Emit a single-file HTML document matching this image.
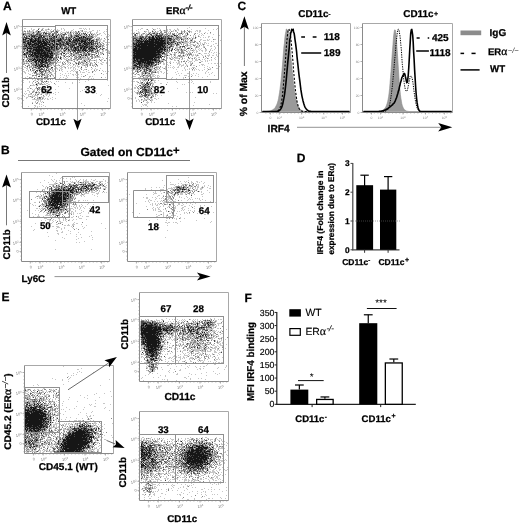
<!DOCTYPE html><html><head><meta charset="utf-8"><title>Figure</title><style>html,body{margin:0;padding:0;background:#fff}svg{display:block}</style></head><body>
<svg width="520" height="524" viewBox="0 0 520 524" text-rendering="geometricPrecision" font-family="Liberation Sans, Arial, sans-serif">
<defs><filter id="bl" x="-2%" y="-2%" width="104%" height="104%"><feGaussianBlur stdDeviation="0.5"/></filter></defs>
<rect width="520" height="524" fill="#fff"/>
<text x="3.1" y="9.7" font-size="12" font-weight="bold" stroke="#000" stroke-width="0.25" text-anchor="start" fill="#000">A</text>
<text x="68.75" y="13.5" font-size="9.7" font-weight="bold" stroke="#000" stroke-width="0.25" text-anchor="middle" fill="#000">WT</text>
<text x="166" y="13.5" font-size="9.7" font-weight="bold" stroke="#000" stroke-width="0.25" text-anchor="start" fill="#000">ER<tspan font-family="Liberation Serif, serif" font-weight="normal" stroke-width="0.3" font-size="11.5">α</tspan><tspan dy="-4" font-size="7.5" font-style="italic">-/-</tspan></text>
<g transform="translate(22,20.5)" fill="none" stroke-width="1" shape-rendering="crispEdges" filter="url(#bl)">
<path stroke="#c6c6c6" d="M2 8h2M9 8h1M16 8h2M20 8h2M26 8h1M39 8h1M41 8h1M57 8h3M61 8h1M63 8h1M67 8h1M9 9h1M11 9h2M19 9h1M23 9h3M27 9h1M29 9h1M32 9h1M35 9h1M39 9h1M42 9h1M51 9h1M62 9h1M64 9h1M67 9h1M84 9h1M2 10h1M5 10h1M10 10h2M14 10h1M20 10h2M23 10h2M28 10h1M34 10h4M42 10h1M49 10h2M58 10h2M70 10h2M75 10h1M77 10h1M1 11h1M6 11h1M8 11h4M13 11h1M15 11h1M22 11h1M24 11h3M28 11h1M36 11h1M39 11h1M44 11h1M46 11h1M48 11h2M51 11h1M54 11h1M57 11h1M59 11h1M62 11h3M67 11h3M75 11h1M82 11h1M84 11h1M1 12h1M3 12h1M5 12h6M12 12h3M18 12h3M23 12h1M26 12h3M38 12h1M40 12h5M49 12h5M55 12h1M57 12h2M61 12h1M63 12h1M65 12h2M74 12h2M81 12h1M0 13h1M4 13h1M8 13h2M12 13h1M22 13h1M36 13h1M38 13h1M40 13h1M42 13h1M45 13h3M49 13h1M60 13h1M65 13h1M69 13h2M72 13h1M74 13h1M77 13h2M82 13h1M0 14h1M4 14h3M10 14h1M12 14h1M19 14h2M22 14h1M28 14h2M33 14h1M35 14h1M37 14h1M39 14h1M46 14h2M51 14h3M55 14h1M58 14h1M60 14h2M63 14h1M66 14h1M70 14h1M72 14h2M76 14h2M83 14h1M86 14h1M2 15h1M5 15h1M29 15h1M32 15h1M36 15h1M38 15h1M40 15h1M47 15h1M50 15h2M59 15h4M68 15h2M71 15h1M73 15h3M79 15h1M87 15h1M1 16h1M8 16h1M26 16h1M30 16h1M35 16h2M38 16h1M42 16h1M46 16h2M51 16h1M57 16h2M63 16h1M65 16h1M71 16h4M84 16h1M86 16h1M0 17h1M6 17h2M15 17h1M23 17h2M26 17h1M35 17h1M38 17h1M42 17h1M50 17h1M54 17h1M73 17h1M75 17h3M84 17h1M2 18h1M11 18h1M26 18h1M34 18h1M42 18h2M45 18h1M49 18h1M52 18h1M70 18h1M72 18h1M74 18h3M79 18h1M85 18h1M0 19h1M5 19h2M33 19h1M69 19h2M72 19h2M77 19h3M83 19h1M85 19h1M41 20h1M44 20h1M49 20h1M72 20h1M76 20h3M81 20h2M66 21h1M77 21h2M81 21h2M4 22h1M35 22h1M43 22h1M74 22h1M76 22h1M79 22h2M83 22h2M86 22h2M0 23h1M31 23h1M76 23h2M80 23h1M47 24h1M55 24h1M72 24h1M76 24h2M81 24h2M84 24h3M0 25h2M26 25h1M36 25h1M44 25h2M53 25h1M55 25h1M73 25h1M75 25h1M77 25h1M79 25h1M84 25h2M36 26h1M41 26h1M45 26h1M53 26h1M72 26h1M76 26h1M79 26h1M81 26h2M47 27h1M72 27h2M75 27h1M78 27h1M84 27h1M38 28h1M41 28h1M47 28h1M50 28h1M57 28h1M65 28h1M73 28h1M79 28h2M0 29h1M3 29h1M6 29h1M37 29h2M40 29h1M42 29h1M45 29h1M65 29h1M74 29h1M78 29h2M81 29h1M83 29h1M1 30h1M3 30h1M36 30h2M39 30h1M44 30h2M48 30h1M66 30h1M72 30h3M77 30h1M80 30h2M83 30h2M86 30h1M3 31h2M34 31h1M38 31h1M40 31h2M43 31h3M47 31h1M49 31h1M62 31h1M65 31h1M76 31h2M80 31h2M86 31h2M3 32h1M32 32h1M37 32h1M39 32h1M41 32h3M45 32h3M52 32h1M60 32h1M63 32h1M66 32h2M74 32h2M79 32h2M84 32h4M1 33h1M9 33h1M36 33h2M45 33h1M50 33h3M58 33h3M65 33h1M68 33h2M73 33h1M78 33h2M81 33h1M86 33h1M0 34h1M37 34h2M41 34h1M44 34h1M47 34h2M50 34h1M53 34h3M65 34h1M68 34h1M73 34h1M78 34h2M85 34h1M1 35h1M7 35h1M33 35h1M35 35h2M39 35h2M43 35h1M46 35h1M53 35h4M62 35h1M65 35h1M70 35h1M77 35h1M86 35h1M0 36h4M31 36h1M33 36h1M35 36h1M41 36h1M46 36h1M49 36h1M52 36h1M59 36h6M72 36h1M74 36h1M77 36h1M1 37h1M3 37h1M6 37h1M31 37h1M35 37h1M41 37h1M46 37h1M48 37h2M53 37h1M56 37h1M59 37h1M62 37h1M66 37h2M69 37h1M71 37h2M74 37h5M80 37h1M87 37h1M2 38h1M30 38h1M35 38h1M37 38h1M39 38h1M41 38h2M44 38h2M48 38h1M52 38h1M58 38h1M60 38h6M67 38h1M72 38h1M81 38h1M2 39h1M4 39h1M6 39h1M30 39h1M34 39h1M38 39h1M42 39h3M47 39h3M53 39h2M57 39h1M61 39h5M67 39h1M74 39h1M79 39h2M87 39h1M3 40h1M7 40h1M32 40h1M46 40h3M50 40h1M52 40h1M54 40h1M60 40h2M63 40h3M68 40h4M73 40h2M79 40h1M83 40h1M85 40h1M87 40h1M2 41h2M10 41h2M15 41h1M25 41h1M29 41h4M38 41h1M41 41h1M43 41h1M46 41h1M51 41h1M56 41h1M59 41h3M65 41h2M74 41h1M79 41h1M1 42h2M4 42h2M7 42h3M34 42h5M45 42h4M54 42h1M58 42h1M61 42h2M65 42h1M67 42h3M74 42h1M76 42h1M80 42h2M84 42h1M1 43h1M3 43h1M5 43h1M8 43h1M10 43h1M12 43h1M17 43h1M21 43h1M26 43h1M33 43h1M41 43h1M46 43h1M50 43h1M53 43h1M55 43h1M57 43h1M60 43h1M62 43h5M69 43h2M78 43h2M84 43h1M2 44h1M6 44h2M9 44h1M24 44h1M29 44h3M36 44h1M40 44h1M42 44h2M45 44h1M47 44h1M52 44h1M54 44h1M57 44h1M59 44h3M63 44h1M67 44h1M70 44h1M72 44h2M79 44h2M5 45h1M9 45h1M21 45h1M24 45h1M27 45h2M31 45h2M34 45h3M39 45h2M46 45h1M48 45h1M51 45h1M53 45h1M55 45h1M60 45h2M63 45h2M67 45h1M71 45h2M74 45h1M87 45h1M1 46h1M4 46h1M7 46h2M12 46h1M28 46h1M38 46h2M41 46h2M45 46h1M50 46h1M53 46h1M55 46h3M59 46h1M63 46h1M71 46h1M75 46h1M88 46h1M2 47h2M5 47h1M8 47h3M15 47h1M19 47h2M22 47h2M33 47h2M37 47h1M39 47h2M42 47h1M46 47h1M48 47h2M51 47h2M56 47h1M63 47h2M85 47h1M4 48h2M7 48h1M11 48h1M13 48h1M18 48h1M24 48h1M26 48h3M30 48h1M32 48h1M34 48h2M38 48h2M43 48h1M46 48h1M48 48h1M51 48h1M53 48h1M58 48h2M70 48h1M73 48h1M78 48h1M1 49h1M5 49h1M10 49h2M13 49h1M15 49h2M27 49h1M32 49h1M35 49h1M37 49h1M39 49h2M51 49h1M53 49h1M55 49h1M62 49h2M69 49h1M72 49h1M74 49h2M4 50h1M6 50h1M12 50h1M16 50h1M19 50h1M27 50h1M29 50h3M39 50h1M49 50h2M52 50h1M61 50h1M66 50h1M74 50h1M80 50h1M1 51h2M6 51h1M9 51h1M11 51h1M14 51h1M22 51h1M24 51h1M26 51h1M30 51h2M34 51h1M40 51h1M45 51h1M48 51h1M51 51h1M53 51h2M58 51h1M64 51h1M71 51h1M73 51h1M81 51h1M83 51h1M86 51h1M2 52h2M11 52h1M17 52h2M21 52h1M24 52h4M29 52h1M58 52h1M60 52h3M66 52h2M3 53h1M6 53h1M10 53h1M13 53h1M15 53h3M23 53h3M27 53h3M32 53h1M38 53h1M43 53h1M46 53h1M48 53h1M54 53h1M84 53h1M7 54h2M16 54h1M24 54h2M30 54h1M40 54h1M50 54h2M53 54h1M56 54h1M59 54h1M65 54h1M72 54h1M81 54h1M12 55h1M17 55h3M21 55h1M23 55h2M27 55h1M30 55h2M38 55h1M42 55h1M44 55h1M46 55h1M51 55h1M54 55h1M0 56h1M5 56h1M10 56h1M14 56h1M20 56h1M23 56h2M26 56h1M31 56h1M33 56h1M44 56h1M59 56h1M62 56h1M67 56h2M70 56h1M3 57h1M8 57h2M14 57h1M19 57h2M38 57h1M41 57h1M45 57h1M54 57h1M56 57h1M67 57h1M83 57h1M5 58h1M10 58h2M14 58h2M17 58h1M19 58h1M21 58h1M23 58h2M26 58h2M32 58h2M37 58h1M43 58h2M58 58h1M66 58h1M69 58h1M71 58h1M5 59h1M10 59h1M13 59h1M17 59h2M22 59h2M30 59h1M33 59h1M80 59h1M82 59h1M1 60h1M12 60h2M16 60h1M18 60h3M24 60h1M57 60h1M66 60h1M85 60h1M7 61h1M14 61h1M23 61h1M25 61h2M28 61h1M34 61h1M36 61h1M63 61h1M1 62h1M7 62h1M10 62h1M19 62h2M23 62h1M26 62h1M29 62h1M43 62h1M50 62h1M57 62h1M10 63h1M14 63h2M17 63h2M22 63h1M24 63h2M50 63h1M11 64h1M13 64h1M15 64h1M17 64h1M19 64h1M21 64h3M26 64h2M33 64h1M9 65h4M14 65h1M24 65h1M86 65h1M7 66h1M14 66h1M20 66h1M23 66h1M27 66h1M36 66h1M7 67h1M18 67h1M21 67h1M23 67h1M5 68h2M9 68h1M13 68h2M16 68h1M19 68h1M23 68h1M28 68h1M47 68h1M73 68h1M10 69h1M12 69h1M17 69h2M20 69h2M23 69h1M25 69h1M33 69h1M62 69h1M5 70h2M11 70h2M17 70h1M20 70h2M23 70h1M25 70h2M60 70h1M3 71h1M7 71h1M10 71h1M12 71h1M14 71h1M16 71h1M19 71h1M58 71h1M7 72h1M11 72h1M15 72h2M19 72h2M22 72h5M29 72h1M33 72h1M36 72h1M2 73h1M4 73h1M8 73h1M13 73h2M16 73h2M19 73h2M23 73h2M31 73h1M74 73h1M3 74h1M6 74h4M11 74h1M18 74h1M23 74h3M27 74h1M33 74h1M79 74h1M1 75h1M6 75h1M10 75h1M12 75h4M24 75h1M27 75h1M78 75h1M2 76h1M6 76h2M9 76h4M15 76h1M19 76h1M21 76h2M26 76h1M4 77h2M9 77h1M13 77h1M15 77h2M19 77h3M30 77h1M4 78h1M16 78h1M21 78h1M23 78h1M25 78h1M28 78h1M33 78h1M86 78h1M10 79h11M22 79h1M25 79h2M30 79h1M1 80h1M14 80h3M18 80h1M13 81h1M16 81h1M18 81h1M20 81h1M85 81h1M10 82h1M13 82h1M19 82h1M15 83h1M17 83h1M59 83h1M17 84h1M19 84h1M12 85h2M21 85h1M62 85h1M6 86h1M13 86h1M15 86h1M17 86h1M19 86h1M23 86h1M12 87h1M15 87h1"/>
<path stroke="#888" d="M20 9h1M26 9h1M7 10h1M15 10h1M19 10h1M31 10h1M60 10h1M2 11h2M5 11h1M7 11h1M14 11h1M17 11h2M29 11h3M35 11h1M53 11h1M60 11h1M15 12h1M17 12h1M21 12h1M24 12h1M29 12h1M32 12h3M45 12h2M54 12h1M56 12h1M68 12h1M1 13h3M5 13h3M10 13h2M14 13h1M16 13h4M25 13h4M30 13h3M34 13h1M39 13h1M48 13h1M51 13h1M53 13h2M59 13h1M62 13h1M68 13h1M2 14h2M7 14h2M11 14h1M13 14h1M16 14h1M21 14h1M23 14h2M26 14h1M34 14h1M38 14h1M40 14h1M43 14h2M48 14h2M54 14h1M57 14h1M59 14h1M71 14h1M75 14h1M1 15h1M3 15h2M6 15h3M14 15h3M21 15h8M31 15h1M34 15h1M37 15h1M41 15h2M46 15h1M48 15h1M52 15h1M56 15h2M63 15h3M70 15h1M5 16h2M13 16h1M16 16h1M23 16h3M28 16h1M37 16h1M40 16h2M44 16h1M48 16h1M50 16h1M52 16h2M60 16h1M67 16h2M70 16h1M1 17h1M5 17h1M8 17h1M10 17h1M13 17h2M25 17h1M27 17h3M33 17h1M36 17h2M39 17h1M43 17h1M45 17h2M48 17h1M51 17h1M53 17h1M55 17h2M60 17h1M64 17h6M71 17h1M8 18h1M19 18h1M21 18h2M24 18h1M30 18h1M35 18h3M39 18h1M47 18h1M50 18h1M62 18h1M77 18h1M82 18h1M4 19h1M12 19h1M19 19h1M26 19h2M31 19h1M40 19h1M42 19h1M45 19h1M48 19h1M57 19h1M66 19h1M71 19h1M75 19h2M86 19h1M2 20h1M4 20h1M7 20h1M19 20h1M22 20h1M25 20h1M34 20h1M40 20h1M43 20h1M45 20h1M50 20h1M58 20h1M65 20h1M68 20h1M74 20h2M7 21h1M14 21h1M23 21h1M26 21h1M28 21h1M38 21h1M41 21h3M46 21h1M49 21h1M56 21h1M64 21h1M68 21h1M70 21h1M72 21h2M75 21h1M9 22h1M20 22h1M28 22h4M34 22h1M36 22h1M39 22h1M47 22h2M54 22h1M56 22h1M58 22h1M61 22h1M73 22h1M75 22h1M1 23h2M4 23h1M10 23h2M27 23h1M36 23h1M39 23h2M42 23h1M49 23h1M51 23h2M55 23h1M59 23h2M68 23h1M70 23h1M72 23h1M74 23h1M78 23h1M81 23h1M1 24h1M3 24h1M5 24h1M17 24h1M21 24h1M29 24h1M42 24h2M59 24h1M61 24h1M68 24h1M73 24h1M78 24h2M5 25h2M8 25h1M25 25h1M29 25h1M33 25h2M40 25h1M54 25h1M56 25h1M62 25h1M66 25h1M68 25h5M76 25h1M78 25h1M80 25h2M5 26h1M23 26h1M27 26h1M31 26h1M33 26h1M37 26h1M39 26h2M42 26h2M46 26h2M51 26h1M54 26h1M57 26h1M68 26h1M71 26h1M80 26h1M1 27h4M6 27h1M10 27h1M33 27h1M35 27h3M39 27h2M42 27h1M44 27h2M51 27h1M57 27h1M66 27h1M71 27h1M77 27h1M80 27h1M85 27h1M4 28h1M28 28h1M31 28h1M33 28h1M36 28h1M43 28h1M46 28h1M48 28h1M60 28h1M68 28h1M75 28h1M82 28h1M85 28h1M1 29h1M4 29h1M7 29h1M10 29h1M22 29h1M33 29h1M39 29h1M41 29h1M43 29h1M47 29h2M50 29h1M52 29h1M55 29h1M57 29h1M59 29h1M64 29h1M69 29h1M71 29h2M75 29h1M77 29h1M84 29h1M2 30h1M4 30h1M6 30h1M9 30h1M29 30h2M34 30h2M38 30h1M41 30h1M49 30h1M59 30h1M71 30h1M76 30h1M1 31h2M5 31h1M12 31h1M30 31h4M35 31h3M39 31h1M46 31h1M50 31h2M56 31h1M58 31h3M68 31h1M70 31h2M73 31h2M6 32h1M28 32h1M31 32h1M33 32h4M48 32h1M53 32h2M57 32h1M59 32h1M61 32h1M69 32h5M76 32h1M78 32h1M3 33h1M6 33h2M31 33h1M34 33h2M38 33h1M44 33h1M46 33h1M48 33h1M53 33h1M55 33h2M61 33h4M67 33h1M76 33h1M80 33h1M87 33h1M4 34h3M11 34h1M27 34h1M31 34h6M43 34h1M49 34h1M51 34h2M56 34h2M61 34h3M69 34h1M71 34h2M76 34h1M2 35h2M31 35h1M41 35h2M48 35h2M52 35h1M57 35h1M60 35h1M66 35h2M69 35h1M72 35h1M74 35h1M9 36h1M34 36h1M36 36h1M38 36h1M44 36h2M50 36h1M53 36h2M56 36h2M65 36h1M68 36h3M73 36h1M75 36h2M2 37h1M5 37h1M7 37h5M21 37h1M32 37h2M39 37h1M43 37h1M52 37h1M54 37h2M57 37h1M60 37h2M63 37h1M65 37h1M70 37h1M73 37h1M5 38h5M11 38h1M13 38h1M18 38h1M25 38h2M32 38h3M49 38h1M53 38h2M56 38h2M59 38h1M66 38h1M69 38h2M84 38h1M5 39h1M10 39h1M14 39h1M25 39h1M29 39h1M32 39h1M39 39h1M46 39h1M51 39h2M55 39h2M58 39h2M66 39h1M68 39h1M77 39h1M1 40h1M4 40h1M8 40h2M12 40h1M22 40h1M28 40h1M31 40h1M34 40h1M44 40h2M49 40h1M55 40h1M67 40h1M72 40h1M78 40h1M82 40h1M1 41h1M4 41h3M8 41h1M18 41h1M28 41h1M33 41h1M35 41h1M45 41h1M52 41h1M57 41h1M62 41h1M67 41h1M10 42h3M15 42h1M17 42h1M26 42h2M29 42h5M40 42h1M42 42h1M53 42h1M56 42h2M59 42h2M72 42h1M2 43h1M4 43h1M6 43h1M11 43h1M13 43h1M15 43h1M22 43h1M28 43h4M34 43h1M40 43h1M43 43h1M48 43h1M58 43h1M61 43h1M68 43h1M73 43h1M1 44h1M10 44h4M15 44h1M23 44h1M27 44h2M41 44h1M51 44h1M64 44h2M68 44h1M3 45h1M6 45h2M10 45h3M15 45h1M18 45h1M26 45h1M29 45h1M37 45h1M62 45h1M65 45h1M68 45h1M70 45h1M75 45h1M9 46h1M11 46h1M13 46h2M16 46h1M24 46h1M27 46h1M32 46h1M65 46h1M73 46h1M7 47h1M11 47h2M14 47h1M26 47h1M43 47h1M69 47h1M14 48h2M20 48h1M22 48h1M25 48h1M29 48h1M12 49h1M17 49h1M21 49h2M26 49h1M28 49h1M30 49h1M59 49h1M64 49h1M8 50h1M10 50h2M18 50h1M21 50h6M33 50h1M37 50h1M57 50h1M72 50h1M77 50h1M15 51h1M17 51h1M19 51h1M21 51h1M70 51h1M12 52h1M14 52h1M20 52h1M23 52h1M28 52h1M54 52h1M70 52h1M12 53h1M14 53h1M18 53h3M22 53h1M79 53h1M14 54h2M17 54h1M19 54h1M21 54h2M26 54h1M29 54h1M10 55h2M13 55h2M20 55h1M22 55h1M25 55h1M28 55h1M63 55h1M25 56h1M28 56h1M61 56h1M7 57h1M12 57h1M23 57h3M32 57h1M79 57h1M25 58h1M15 59h2M19 59h2M25 59h2M28 59h1M11 61h1M15 61h1M19 61h2M22 61h1M13 62h1M16 62h1M21 62h1M16 63h1M19 63h1M32 63h1M18 64h1M20 64h1M8 65h1M15 65h1M25 65h1M22 66h1M25 66h1M14 67h1M16 67h2M20 67h1M8 68h1M17 68h1M21 68h1M15 69h2M24 69h1M27 69h1M15 70h1M11 71h1M21 71h1M24 71h1M10 72h1M13 72h1M17 72h1M9 73h1M25 73h1M13 74h1M15 74h2M19 74h1M21 75h1M8 76h1M10 77h1M18 77h1M12 78h1M15 78h1M17 78h2M20 78h1M15 82h1M21 82h1M10 83h1M14 83h1"/>
<path stroke="#4a4a4a" d="M16 9h1M34 11h1M56 11h1M11 12h1M16 12h1M22 12h1M35 12h1M48 12h1M15 13h1M21 13h1M24 13h1M43 13h1M55 13h1M57 13h1M61 13h1M63 13h1M9 14h1M14 14h2M17 14h2M27 14h1M30 14h2M36 14h1M41 14h2M56 14h1M62 14h1M67 14h1M69 14h1M9 15h5M17 15h4M33 15h1M35 15h1M39 15h1M49 15h1M53 15h3M58 15h1M67 15h1M2 16h1M4 16h1M9 16h1M11 16h1M14 16h2M17 16h2M22 16h1M29 16h1M31 16h1M33 16h1M39 16h1M49 16h1M55 16h1M59 16h1M62 16h1M64 16h1M66 16h1M69 16h1M2 17h3M9 17h1M11 17h2M18 17h5M30 17h3M40 17h2M44 17h1M47 17h1M49 17h1M58 17h1M62 17h1M70 17h1M1 18h1M3 18h1M5 18h1M7 18h1M10 18h1M12 18h1M14 18h2M17 18h2M20 18h1M25 18h1M27 18h2M31 18h3M40 18h2M44 18h1M46 18h1M48 18h1M51 18h1M53 18h4M58 18h4M63 18h2M66 18h4M2 19h1M7 19h1M10 19h2M14 19h2M17 19h2M20 19h1M22 19h3M28 19h3M32 19h1M34 19h4M39 19h1M41 19h1M43 19h2M46 19h1M51 19h3M55 19h1M58 19h7M68 19h1M74 19h1M1 20h1M3 20h1M5 20h1M10 20h2M15 20h1M17 20h1M20 20h1M24 20h1M26 20h5M33 20h1M35 20h1M39 20h1M42 20h1M46 20h1M48 20h1M52 20h1M55 20h1M61 20h2M64 20h1M66 20h1M69 20h1M71 20h1M1 21h6M19 21h1M25 21h1M29 21h1M31 21h1M34 21h2M37 21h1M39 21h2M44 21h2M50 21h5M57 21h2M65 21h1M67 21h1M71 21h1M74 21h1M3 22h1M5 22h1M7 22h1M12 22h4M24 22h1M26 22h1M37 22h2M40 22h3M45 22h2M49 22h3M53 22h1M55 22h1M57 22h1M60 22h1M64 22h2M67 22h1M69 22h3M77 22h1M3 23h1M7 23h1M9 23h1M15 23h1M18 23h1M25 23h2M28 23h2M32 23h2M35 23h1M37 23h1M41 23h1M43 23h2M46 23h3M50 23h1M53 23h1M56 23h1M63 23h1M65 23h2M71 23h1M73 23h1M75 23h1M2 24h1M4 24h1M9 24h1M13 24h1M25 24h1M28 24h1M30 24h1M32 24h2M37 24h4M44 24h1M48 24h6M56 24h3M60 24h1M64 24h1M66 24h2M70 24h2M75 24h1M2 25h2M9 25h1M11 25h2M14 25h2M19 25h1M28 25h1M30 25h1M32 25h1M35 25h1M37 25h3M41 25h3M46 25h5M52 25h1M59 25h2M63 25h1M65 25h1M67 25h1M74 25h1M1 26h3M6 26h2M9 26h1M11 26h4M22 26h1M24 26h1M28 26h1M30 26h1M35 26h1M44 26h1M48 26h2M52 26h1M58 26h2M61 26h1M64 26h4M70 26h1M73 26h3M77 26h2M7 27h3M20 27h1M24 27h3M28 27h1M31 27h2M38 27h1M43 27h1M46 27h1M48 27h3M54 27h3M60 27h2M63 27h1M67 27h1M69 27h2M74 27h1M76 27h1M1 28h2M5 28h1M10 28h4M15 28h1M18 28h1M20 28h1M26 28h1M30 28h1M32 28h1M35 28h1M37 28h1M39 28h2M44 28h2M49 28h1M51 28h2M54 28h3M63 28h2M66 28h1M70 28h1M74 28h1M78 28h1M81 28h1M2 29h1M8 29h2M21 29h1M25 29h2M28 29h5M34 29h3M49 29h1M51 29h1M54 29h1M58 29h1M60 29h1M62 29h1M66 29h3M70 29h1M73 29h1M80 29h1M7 30h1M10 30h1M12 30h1M22 30h2M28 30h1M31 30h2M42 30h2M46 30h2M50 30h2M53 30h3M57 30h2M61 30h1M64 30h2M67 30h3M75 30h1M6 31h1M9 31h3M13 31h1M18 31h1M21 31h1M23 31h3M28 31h1M42 31h1M48 31h1M52 31h2M55 31h1M57 31h1M61 31h1M63 31h2M66 31h2M69 31h1M75 31h1M1 32h1M4 32h1M7 32h3M11 32h1M14 32h1M18 32h1M20 32h1M24 32h1M26 32h2M30 32h1M40 32h1M51 32h1M55 32h2M58 32h1M62 32h1M4 33h2M8 33h1M11 33h1M24 33h1M26 33h1M32 33h2M39 33h1M41 33h1M49 33h1M54 33h1M66 33h1M74 33h1M1 34h1M3 34h1M8 34h1M14 34h2M17 34h1M20 34h2M26 34h1M29 34h2M39 34h1M58 34h2M64 34h1M66 34h2M70 34h1M81 34h1M4 35h1M6 35h1M8 35h1M10 35h1M12 35h1M16 35h2M27 35h2M34 35h1M51 35h1M59 35h1M61 35h1M64 35h1M75 35h1M6 36h3M11 36h3M17 36h1M19 36h1M22 36h1M27 36h1M29 36h2M42 36h1M47 36h1M58 36h1M4 37h1M12 37h2M16 37h2M24 37h1M26 37h1M34 37h1M36 37h1M38 37h1M58 37h1M10 38h1M14 38h4M19 38h1M22 38h2M27 38h3M31 38h1M1 39h1M7 39h3M16 39h1M19 39h1M21 39h1M23 39h1M27 39h2M31 39h1M35 39h1M13 40h1M16 40h1M18 40h1M21 40h1M25 40h3M29 40h2M36 40h1M62 40h1M7 41h1M9 41h1M12 41h1M21 41h2M24 41h1M26 41h2M63 41h1M14 42h1M16 42h1M19 42h1M22 42h2M25 42h1M28 42h1M64 42h1M9 43h1M16 43h1M18 43h1M20 43h1M23 43h3M27 43h1M54 43h1M56 43h1M16 44h5M22 44h1M25 44h2M56 44h1M74 44h1M14 45h1M16 45h1M22 45h1M5 46h1M17 46h1M21 46h2M25 46h2M13 47h1M16 47h3M21 47h1M24 47h2M29 47h2M59 47h1M10 48h1M16 48h2M19 48h1M8 49h1M18 49h3M24 49h1M14 50h2M18 51h1M20 51h1M23 51h1M27 51h1M13 52h1M19 52h1M20 54h1M16 56h2M19 56h1M22 57h1M20 58h1M24 61h1M15 68h1M14 72h1M17 77h1"/>
<path stroke="#121212" d="M16 11h1M23 13h1M1 14h1M64 14h1M30 15h1M7 16h1M10 16h1M12 16h1M19 16h1M21 16h1M27 16h1M32 16h1M34 16h1M54 16h1M56 16h1M61 16h1M16 17h2M34 17h1M52 17h1M57 17h1M59 17h1M61 17h1M63 17h1M4 18h1M6 18h1M9 18h1M13 18h1M16 18h1M23 18h1M29 18h1M38 18h1M57 18h1M65 18h1M1 19h1M3 19h1M8 19h2M13 19h1M16 19h1M21 19h1M25 19h1M38 19h1M47 19h1M49 19h1M54 19h1M56 19h1M65 19h1M67 19h1M6 20h1M8 20h2M12 20h3M16 20h1M18 20h1M21 20h1M23 20h1M31 20h2M36 20h3M47 20h1M51 20h1M53 20h2M56 20h2M59 20h2M63 20h1M67 20h1M70 20h1M8 21h6M15 21h4M20 21h3M24 21h1M27 21h1M30 21h1M32 21h2M36 21h1M47 21h2M55 21h1M59 21h5M69 21h1M1 22h2M6 22h1M8 22h1M10 22h2M16 22h4M21 22h3M25 22h1M27 22h1M32 22h2M44 22h1M52 22h1M59 22h1M62 22h2M66 22h1M68 22h1M5 23h2M8 23h1M12 23h3M16 23h2M19 23h6M30 23h1M34 23h1M38 23h1M45 23h1M54 23h1M57 23h2M61 23h2M64 23h1M67 23h1M69 23h1M6 24h3M10 24h3M14 24h3M18 24h3M22 24h3M26 24h2M31 24h1M34 24h3M41 24h1M45 24h2M54 24h1M62 24h2M65 24h1M69 24h1M4 25h1M7 25h1M10 25h1M13 25h1M16 25h3M20 25h5M27 25h1M31 25h1M51 25h1M57 25h2M61 25h1M64 25h1M4 26h1M8 26h1M10 26h1M15 26h7M25 26h2M29 26h1M32 26h1M34 26h1M38 26h1M50 26h1M55 26h2M60 26h1M62 26h2M69 26h1M5 27h1M11 27h9M21 27h3M27 27h1M29 27h2M34 27h1M52 27h2M58 27h2M62 27h1M64 27h2M68 27h1M3 28h1M6 28h4M14 28h1M16 28h2M19 28h1M21 28h5M27 28h1M29 28h1M34 28h1M42 28h1M53 28h1M58 28h2M61 28h2M67 28h1M69 28h1M71 28h2M5 29h1M11 29h10M23 29h2M27 29h1M44 29h1M46 29h1M53 29h1M56 29h1M61 29h1M63 29h1M5 30h1M8 30h1M11 30h1M13 30h9M24 30h4M33 30h1M52 30h1M56 30h1M60 30h1M62 30h2M70 30h1M7 31h2M14 31h4M19 31h2M22 31h1M26 31h2M29 31h1M5 32h1M10 32h1M12 32h2M15 32h3M19 32h1M21 32h3M25 32h1M29 32h1M65 32h1M2 33h1M10 33h1M12 33h12M25 33h1M27 33h4M42 33h1M2 34h1M7 34h1M9 34h2M12 34h2M16 34h1M18 34h2M22 34h4M28 34h1M9 35h1M11 35h1M13 35h3M18 35h9M29 35h2M63 35h1M4 36h1M10 36h1M14 36h3M18 36h1M20 36h2M23 36h4M28 36h1M14 37h2M18 37h3M22 37h2M25 37h1M27 37h4M12 38h1M20 38h2M24 38h1M38 38h1M11 39h3M15 39h1M17 39h2M20 39h1M22 39h1M24 39h1M26 39h1M6 40h1M10 40h2M14 40h2M17 40h1M19 40h2M23 40h2M13 41h2M16 41h2M19 41h2M23 41h1M13 42h1M18 42h1M20 42h2M24 42h1M14 43h1M19 43h1M14 44h1M21 44h1M13 45h1M17 45h1M19 45h2M23 45h1M25 45h1M15 46h1M18 46h3M23 46h1M17 50h1M13 51h1M14 64h1"/>
</g>
<path d="M22.5 19.5H110.5V108.5" fill="none" stroke="#a8a8a8" stroke-width="1"/>
<path d="M22.5 19.5V108.5H110.5" fill="none" stroke="#8a8a8a" stroke-width="1"/>
<path d="M20.5 26.6h2M102.6 108.5v2M20.5 46.7h2M82.3 108.5v2M20.5 68.3h2M61.9 108.5v2M20.5 89.4h2M41.0 108.5v2M20.5 98.4h2M31.3 108.5v2M21.5 30.2h1M33.1 108.5v1M21.5 33.8h1M36.7 108.5v1M21.5 37.5h1M40.3 108.5v1M21.5 41.1h1M43.9 108.5v1M21.5 44.8h1M47.5 108.5v1M21.5 48.4h1M51.1 108.5v1M21.5 52.0h1M54.7 108.5v1M21.5 55.7h1M58.3 108.5v1M21.5 59.3h1M61.9 108.5v1M21.5 63.0h1M65.5 108.5v1M21.5 66.6h1M69.1 108.5v1M21.5 70.3h1M72.7 108.5v1M21.5 73.9h1M76.3 108.5v1M21.5 77.6h1M79.9 108.5v1M21.5 81.2h1M83.5 108.5v1M21.5 84.9h1M87.1 108.5v1M21.5 88.5h1M90.7 108.5v1M21.5 92.1h1M94.3 108.5v1M21.5 95.8h1M97.9 108.5v1M21.5 99.4h1M101.5 108.5v1M21.5 103.1h1M105.1 108.5v1M21.5 106.7h1M108.7 108.5v1" stroke="#8a8a8a" stroke-width="0.7" fill="none"/>
<text x="20.0" y="27.9" font-size="4" text-anchor="end" fill="#7a7a7a" transform="rotate(-10 20.0 27.9)">10<tspan dy="-1.2" font-size="2.8">5</tspan></text>
<text x="20.0" y="48.0" font-size="4" text-anchor="end" fill="#7a7a7a" transform="rotate(-10 20.0 48.0)">10<tspan dy="-1.2" font-size="2.8">4</tspan></text>
<text x="20.0" y="69.6" font-size="4" text-anchor="end" fill="#7a7a7a" transform="rotate(-10 20.0 69.6)">10<tspan dy="-1.2" font-size="2.8">3</tspan></text>
<text x="20.0" y="90.7" font-size="4" text-anchor="end" fill="#7a7a7a" transform="rotate(-10 20.0 90.7)">10<tspan dy="-1.2" font-size="2.8">2</tspan></text>
<text x="20.0" y="99.7" font-size="4" text-anchor="end" fill="#7a7a7a" transform="rotate(-10 20.0 99.7)">0</text>
<text x="103.4" y="115.5" font-size="4" text-anchor="middle" fill="#7a7a7a" transform="rotate(-10 103.4 115.5)">10<tspan dy="-1.2" font-size="2.8">5</tspan></text>
<text x="83.1" y="115.5" font-size="4" text-anchor="middle" fill="#7a7a7a" transform="rotate(-10 83.1 115.5)">10<tspan dy="-1.2" font-size="2.8">4</tspan></text>
<text x="62.7" y="115.5" font-size="4" text-anchor="middle" fill="#7a7a7a" transform="rotate(-10 62.7 115.5)">10<tspan dy="-1.2" font-size="2.8">3</tspan></text>
<text x="41.8" y="115.5" font-size="4" text-anchor="middle" fill="#7a7a7a" transform="rotate(-10 41.8 115.5)">10<tspan dy="-1.2" font-size="2.8">2</tspan></text>
<text x="32.1" y="115.5" font-size="4" text-anchor="middle" fill="#7a7a7a" transform="rotate(-10 32.1 115.5)">0</text>
<rect x="22.5" y="26.5" width="33.0" height="52.0" fill="none" stroke="#909090" stroke-width="1"/>
<rect x="55.5" y="25.5" width="52.0" height="54.0" fill="none" stroke="#909090" stroke-width="1"/>
<text x="46.6" y="92.8" font-size="10" font-weight="bold" stroke="#000" stroke-width="0.25" text-anchor="middle" fill="#000">62</text>
<text x="90.2" y="92.8" font-size="10" font-weight="bold" stroke="#000" stroke-width="0.25" text-anchor="middle" fill="#000">33</text>
<g transform="translate(132,20.5)" fill="none" stroke-width="1" shape-rendering="crispEdges" filter="url(#bl)">
<path stroke="#c6c6c6" d="M57 7h1M9 8h2M20 8h1M25 8h1M27 8h1M34 8h1M45 8h1M55 8h1M73 8h1M85 8h1M6 9h1M8 9h1M14 9h1M22 9h2M28 9h1M35 9h1M37 9h2M42 9h1M45 9h2M59 9h1M81 9h1M84 9h1M4 10h1M16 10h1M20 10h1M22 10h1M27 10h1M31 10h1M33 10h3M38 10h1M41 10h1M44 10h1M46 10h1M49 10h1M57 10h1M64 10h2M67 10h2M76 10h1M6 11h1M13 11h2M16 11h1M21 11h1M25 11h2M28 11h1M32 11h2M35 11h1M37 11h1M40 11h2M43 11h2M50 11h2M53 11h1M58 11h2M63 11h1M65 11h1M67 11h2M2 12h1M6 12h2M13 12h1M16 12h2M20 12h2M23 12h3M34 12h1M36 12h1M50 12h1M54 12h2M59 12h1M67 12h1M73 12h1M2 13h1M6 13h2M10 13h1M14 13h1M16 13h1M18 13h2M23 13h1M26 13h1M28 13h1M31 13h1M35 13h3M41 13h1M44 13h1M46 13h1M50 13h2M53 13h2M62 13h1M65 13h1M69 13h1M75 13h1M78 13h1M5 14h1M7 14h1M10 14h2M13 14h2M17 14h1M21 14h2M31 14h2M34 14h1M37 14h2M44 14h1M47 14h2M53 14h1M56 14h1M67 14h1M70 14h1M81 14h1M4 15h2M7 15h2M10 15h1M13 15h1M17 15h2M31 15h1M33 15h1M35 15h1M38 15h1M40 15h2M47 15h2M52 15h2M55 15h1M61 15h1M63 15h1M66 15h1M69 15h1M71 15h1M87 15h1M2 16h1M4 16h3M12 16h1M19 16h1M22 16h1M30 16h1M41 16h3M45 16h1M47 16h2M50 16h1M53 16h2M61 16h1M63 16h1M67 16h1M76 16h2M6 17h1M12 17h1M15 17h1M38 17h1M40 17h1M42 17h2M51 17h4M56 17h1M59 17h1M61 17h1M64 17h1M68 17h1M71 17h1M73 17h1M76 17h1M80 17h1M40 18h1M42 18h1M47 18h1M50 18h3M54 18h1M58 18h1M61 18h2M0 19h1M2 19h1M15 19h1M43 19h1M46 19h1M52 19h5M58 19h2M68 19h2M75 19h1M77 19h1M82 19h2M40 20h1M43 20h1M45 20h1M47 20h1M49 20h1M55 20h1M60 20h1M62 20h1M68 20h1M71 20h3M75 20h2M88 20h1M37 21h1M46 21h3M50 21h3M55 21h1M57 21h4M79 21h1M81 21h1M86 21h1M43 22h2M49 22h1M52 22h5M59 22h2M64 22h2M68 22h1M72 22h2M86 22h1M0 23h1M41 23h2M44 23h1M46 23h2M49 23h1M51 23h5M57 23h2M66 23h1M68 23h1M70 23h1M72 23h1M74 23h1M76 23h1M83 23h2M0 24h1M35 24h1M42 24h2M47 24h1M54 24h1M58 24h4M63 24h1M66 24h1M68 24h1M70 24h1M72 24h1M81 24h1M0 25h1M36 25h2M40 25h3M46 25h2M51 25h1M54 25h1M56 25h3M63 25h1M65 25h1M69 25h1M71 25h1M75 25h2M79 25h1M85 25h1M36 26h1M44 26h2M47 26h1M49 26h1M54 26h2M58 26h2M62 26h1M65 26h3M71 26h2M78 26h2M82 26h1M0 27h1M40 27h2M43 27h4M53 27h1M56 27h3M63 27h1M65 27h2M71 27h1M83 27h1M0 28h1M38 28h2M44 28h2M47 28h3M52 28h2M60 28h1M63 28h1M67 28h1M69 28h1M79 28h1M83 28h1M0 29h1M44 29h1M47 29h2M50 29h3M58 29h1M61 29h1M63 29h1M66 29h1M68 29h1M73 29h2M78 29h1M82 29h1M86 29h1M36 30h1M38 30h1M40 30h1M44 30h2M48 30h1M51 30h1M56 30h1M58 30h2M61 30h2M64 30h1M67 30h1M69 30h2M73 30h2M78 30h1M80 30h1M31 31h1M36 31h1M45 31h3M51 31h1M55 31h1M57 31h1M61 31h1M64 31h2M70 31h1M73 31h1M0 32h1M35 32h1M40 32h1M43 32h1M46 32h1M48 32h1M52 32h1M55 32h1M57 32h2M62 32h1M64 32h1M77 32h1M79 32h1M82 32h1M84 32h1M0 33h1M33 33h3M37 33h2M42 33h2M46 33h1M48 33h1M50 33h1M52 33h1M54 33h1M57 33h1M59 33h1M66 33h1M68 33h1M72 33h3M76 33h1M81 33h1M87 33h1M0 34h1M29 34h1M31 34h1M35 34h1M41 34h1M43 34h1M48 34h1M51 34h1M53 34h2M56 34h1M61 34h1M63 34h1M65 34h1M69 34h1M77 34h1M84 34h1M86 34h1M32 35h3M36 35h2M39 35h1M43 35h1M50 35h1M52 35h2M59 35h3M63 35h2M66 35h1M70 35h1M73 35h1M75 35h3M80 35h2M84 35h1M29 36h1M33 36h1M39 36h1M41 36h1M43 36h1M45 36h2M48 36h1M50 36h3M54 36h1M56 36h1M60 36h1M64 36h1M71 36h1M76 36h1M85 36h1M34 37h2M37 37h1M39 37h2M43 37h3M48 37h3M58 37h1M62 37h2M66 37h2M74 37h1M83 37h1M0 38h1M31 38h1M35 38h1M37 38h1M40 38h2M43 38h4M52 38h1M56 38h1M59 38h1M64 38h1M73 38h1M76 38h1M82 38h1M29 39h1M34 39h1M38 39h1M40 39h1M42 39h1M47 39h1M49 39h2M55 39h1M60 39h1M63 39h2M66 39h1M70 39h1M72 39h1M79 39h1M83 39h1M28 40h5M42 40h2M45 40h1M52 40h1M55 40h2M60 40h1M63 40h3M68 40h1M73 40h1M75 40h1M77 40h1M79 40h1M31 41h1M38 41h1M46 41h2M57 41h3M62 41h1M69 41h2M73 41h1M75 41h1M27 42h1M29 42h1M31 42h1M35 42h1M37 42h2M41 42h1M44 42h1M46 42h2M49 42h1M53 42h1M56 42h1M58 42h1M60 42h1M25 43h1M27 43h1M31 43h2M45 43h3M58 43h2M76 43h1M79 43h1M82 43h2M85 43h2M88 43h1M0 44h1M22 44h1M25 44h1M31 44h2M35 44h1M45 44h1M47 44h2M51 44h1M54 44h1M58 44h1M69 44h3M5 45h2M24 45h1M36 45h1M38 45h1M47 45h1M49 45h3M54 45h2M59 45h1M61 45h2M67 45h1M70 45h1M72 45h1M84 45h1M0 46h1M17 46h1M21 46h2M24 46h3M33 46h2M41 46h1M46 46h1M49 46h1M53 46h1M75 46h1M87 46h1M19 47h1M22 47h1M25 47h4M30 47h1M33 47h1M36 47h1M38 47h1M40 47h1M42 47h1M45 47h2M52 47h1M60 47h3M72 47h1M77 47h1M3 48h2M6 48h1M9 48h1M11 48h1M13 48h1M18 48h4M24 48h2M31 48h1M33 48h1M41 48h1M52 48h1M57 48h1M59 48h1M63 48h1M75 48h1M78 48h1M84 48h2M0 49h1M3 49h1M8 49h3M15 49h1M20 49h1M22 49h1M24 49h3M28 49h1M33 49h1M44 49h1M53 49h1M55 49h1M57 49h1M62 49h1M64 49h1M66 49h1M72 49h1M77 49h2M0 50h2M3 50h2M6 50h1M11 50h1M13 50h1M16 50h1M21 50h4M27 50h1M35 50h1M50 50h1M53 50h1M60 50h1M62 50h1M67 50h1M70 50h1M75 50h1M4 51h1M6 51h1M10 51h1M16 51h1M19 51h1M21 51h2M25 51h2M28 51h2M45 51h1M74 51h1M1 52h2M9 52h1M11 52h2M16 52h2M24 52h3M29 52h1M32 52h1M43 52h1M73 52h1M76 52h1M80 52h1M9 53h1M12 53h1M15 53h1M20 53h1M26 53h1M31 53h1M35 53h1M46 53h1M49 53h1M55 53h2M61 53h1M64 53h1M73 53h1M79 53h1M2 54h1M5 54h1M7 54h1M9 54h1M12 54h2M15 54h3M19 54h4M44 54h1M59 54h1M66 54h1M77 54h1M0 55h1M7 55h1M9 55h2M13 55h1M16 55h1M20 55h2M23 55h1M25 55h2M47 55h1M52 55h3M60 55h1M63 55h1M82 55h1M1 56h3M9 56h1M11 56h1M13 56h3M17 56h1M19 56h4M25 56h1M27 56h1M56 56h1M66 56h1M75 56h1M6 57h3M12 57h3M23 57h1M25 57h2M40 57h1M51 57h1M70 57h1M1 58h6M10 58h3M18 58h1M21 58h2M29 58h1M39 58h1M44 58h1M51 58h1M1 59h1M7 59h1M9 59h3M15 59h1M17 59h1M21 59h1M86 59h1M8 60h1M10 60h2M13 60h2M21 60h3M26 60h1M57 60h1M59 60h1M1 61h2M4 61h2M8 61h1M11 61h1M13 61h1M19 61h1M22 61h1M44 61h1M60 61h1M78 61h1M5 62h1M8 62h1M12 62h1M16 62h1M18 62h3M22 62h2M35 62h1M45 62h1M56 62h1M59 62h1M78 62h1M7 63h2M10 63h2M17 63h1M20 63h2M28 63h2M61 63h1M5 64h1M9 64h1M12 64h1M17 64h1M20 64h2M50 64h1M52 64h1M3 65h1M10 65h1M16 65h2M4 66h1M8 66h1M19 66h1M23 66h1M2 67h2M7 67h2M11 67h1M18 67h4M27 67h1M2 68h2M5 68h1M14 68h2M18 68h1M45 68h1M6 69h2M19 69h2M22 69h1M71 69h1M5 70h2M19 70h1M21 70h3M2 71h1M9 71h1M36 71h1M3 72h2M6 72h1M11 72h1M18 72h1M20 72h4M54 72h1M58 72h1M60 72h1M4 73h1M6 73h1M9 73h1M12 73h1M15 73h2M18 73h1M21 73h1M73 73h1M81 73h1M84 73h1M5 74h1M10 74h1M18 74h4M24 74h1M8 75h2M15 75h1M18 75h1M21 75h1M23 75h1M25 75h1M29 75h1M14 76h1M16 76h1M20 76h1M23 76h1M3 77h1M8 77h2M11 77h1M13 77h1M16 77h1M20 77h1M63 77h1M3 78h1M15 78h2M18 78h2M22 78h2M26 78h1M6 79h1M10 79h1M12 79h5M19 79h2M24 79h1M4 80h1M7 80h1M9 80h1M11 80h3M19 80h2M4 81h1M7 81h1M15 81h1M19 81h1M14 82h3M19 82h1M22 82h1M62 82h1M15 83h1M36 83h1M10 84h1M12 84h3M77 84h1M11 85h1M13 85h2M61 85h1M9 86h1M15 86h1M40 86h1M44 86h1"/>
<path stroke="#888" d="M15 9h1M21 9h1M28 10h1M32 10h1M43 10h1M52 10h1M55 10h1M12 11h1M23 11h1M29 11h1M39 11h1M49 11h1M52 11h1M56 11h2M18 12h1M22 12h1M28 12h2M32 12h2M38 12h1M45 12h1M49 12h1M52 12h1M57 12h1M78 12h1M1 13h1M5 13h1M11 13h2M20 13h1M24 13h1M29 13h2M38 13h1M40 13h1M42 13h1M47 13h2M63 13h1M72 13h1M2 14h1M9 14h1M15 14h1M23 14h1M25 14h1M27 14h3M33 14h1M35 14h1M40 14h1M42 14h1M46 14h1M50 14h1M62 14h1M2 15h1M9 15h1M14 15h2M20 15h4M30 15h1M32 15h1M37 15h1M39 15h1M44 15h1M54 15h1M58 15h1M0 16h1M3 16h1M7 16h1M9 16h1M11 16h1M13 16h1M15 16h2M18 16h1M24 16h1M32 16h1M36 16h3M46 16h1M51 16h2M66 16h1M1 17h5M7 17h1M14 17h1M22 17h1M28 17h1M32 17h1M35 17h1M37 17h1M39 17h1M41 17h1M44 17h1M46 17h4M4 18h3M10 18h2M14 18h1M16 18h1M23 18h1M41 18h1M43 18h4M48 18h2M53 18h1M57 18h1M60 18h1M63 18h1M3 19h1M5 19h2M8 19h1M11 19h1M13 19h1M31 19h1M36 19h1M40 19h2M44 19h2M47 19h1M50 19h2M60 19h1M81 19h1M2 20h1M10 20h1M12 20h1M36 20h1M39 20h1M42 20h1M46 20h1M51 20h1M53 20h1M58 20h1M1 21h3M38 21h3M43 21h2M49 21h1M53 21h2M62 21h2M67 21h1M2 22h2M11 22h1M38 22h1M42 22h1M46 22h1M48 22h1M51 22h1M58 22h1M61 22h2M5 23h1M37 23h1M39 23h2M48 23h1M65 23h1M38 24h1M40 24h2M44 24h1M49 24h1M51 24h1M55 24h1M71 24h1M2 25h1M33 25h1M38 25h1M45 25h1M53 25h1M55 25h1M61 25h2M67 25h1M35 26h1M37 26h1M40 26h2M64 26h1M2 27h1M36 27h1M38 27h1M47 27h2M50 27h1M52 27h1M64 27h1M72 27h1M31 28h1M33 28h5M43 28h1M57 28h1M73 28h1M34 29h1M39 29h1M45 29h2M54 29h1M0 30h1M31 30h1M33 30h2M37 30h1M43 30h1M46 30h1M49 30h2M52 30h2M60 30h1M0 31h1M32 31h1M35 31h1M37 31h1M39 31h1M49 31h2M54 31h1M77 31h1M30 32h1M32 32h1M34 32h1M36 32h1M42 32h1M44 32h1M49 32h3M60 32h1M28 33h2M49 33h1M51 33h1M56 33h1M58 33h1M67 33h1M30 34h1M32 34h2M38 34h2M42 34h1M55 34h1M57 34h3M0 35h1M42 35h1M46 35h3M55 35h1M57 35h1M65 35h1M0 36h1M31 36h2M47 36h1M49 36h1M73 36h1M0 37h1M32 37h1M42 37h1M71 37h1M79 37h1M21 38h1M25 38h1M29 38h1M34 38h1M38 38h1M47 38h1M50 38h1M57 38h1M60 38h1M62 38h1M75 38h1M3 39h1M25 39h1M27 39h1M30 39h1M32 39h1M39 39h1M67 39h1M0 40h1M33 40h1M46 40h1M21 41h2M25 41h2M28 41h2M49 41h1M51 41h2M54 41h1M0 42h1M4 42h2M22 42h1M25 42h1M28 42h1M67 42h2M2 43h2M11 43h1M22 43h1M24 43h1M26 43h1M28 43h1M38 43h1M53 43h1M60 43h1M1 44h1M4 44h1M11 44h1M18 44h1M21 44h1M59 44h1M11 45h1M20 45h2M58 45h1M1 46h2M8 46h1M10 46h2M19 46h1M28 46h1M55 46h1M64 46h1M3 47h2M9 47h1M12 47h1M15 47h4M20 47h1M23 47h2M34 47h1M80 47h1M7 48h1M12 48h1M17 48h1M27 48h1M32 48h1M61 48h1M1 49h2M4 49h3M11 49h1M13 49h1M16 49h1M19 49h1M23 49h1M60 49h1M76 49h1M5 50h1M9 50h1M17 50h1M19 50h1M3 51h1M7 51h2M11 51h1M13 51h2M20 51h1M23 51h1M5 52h2M10 52h1M14 52h2M19 52h4M1 53h1M4 53h1M10 53h2M14 53h1M16 53h1M19 53h1M3 54h1M6 54h1M10 54h1M18 54h1M12 55h1M14 55h2M17 55h2M8 56h1M10 56h1M16 56h1M18 56h1M59 56h1M11 57h1M15 57h1M18 57h2M53 57h1M13 58h2M16 58h2M57 58h1M12 59h2M18 59h3M12 60h1M20 60h1M15 61h1M18 61h1M6 62h1M9 62h1M14 62h1M9 63h1M12 63h1M16 63h1M18 63h2M10 64h2M14 64h2M34 64h1M7 65h1M11 65h1M13 65h2M18 65h1M20 65h1M6 66h1M9 66h2M12 66h1M14 66h2M20 66h2M5 67h1M9 67h1M14 67h1M16 67h2M6 68h1M9 68h3M13 68h1M16 68h2M15 69h4M9 70h3M15 70h1M17 70h2M6 71h1M11 71h2M15 71h5M5 72h1M7 72h1M12 72h1M17 72h1M19 72h1M5 73h1M7 73h2M17 73h1M20 73h1M22 73h1M7 74h1M12 74h1M15 74h3M23 74h1M10 75h2M17 75h1M20 75h1M8 76h3M12 76h1M15 76h1M19 76h1M21 76h1M14 77h2M18 77h1M12 78h1M9 79h1M17 79h1M14 80h1M18 80h1M11 81h1"/>
<path stroke="#4a4a4a" d="M20 11h1M4 13h1M17 13h1M21 13h2M25 13h1M27 13h1M49 13h1M55 13h1M3 14h1M16 14h1M18 14h2M24 14h1M30 14h1M41 14h1M55 14h1M3 15h1M19 15h1M25 15h5M34 15h1M36 15h1M43 15h1M45 15h1M1 16h1M8 16h1M10 16h1M14 16h1M17 16h1M25 16h1M27 16h3M31 16h1M33 16h3M39 16h2M44 16h1M8 17h4M13 17h1M16 17h1M18 17h2M23 17h1M25 17h2M30 17h2M33 17h2M36 17h1M45 17h1M63 17h1M1 18h3M7 18h1M12 18h2M15 18h1M18 18h2M26 18h1M31 18h3M35 18h1M39 18h1M55 18h1M1 19h1M7 19h1M10 19h1M12 19h1M16 19h1M28 19h1M30 19h1M32 19h4M37 19h3M42 19h1M1 20h1M3 20h2M8 20h2M14 20h1M16 20h1M18 20h1M22 20h1M25 20h1M33 20h1M35 20h1M37 20h1M41 20h1M59 20h1M4 21h2M7 21h1M11 21h1M22 21h1M27 21h1M32 21h2M35 21h2M41 21h2M1 22h1M4 22h1M6 22h1M8 22h1M10 22h1M16 22h1M31 22h1M33 22h2M36 22h2M40 22h2M45 22h1M47 22h1M50 22h1M2 23h2M7 23h1M22 23h1M36 23h1M38 23h1M45 23h1M1 24h1M3 24h1M5 24h1M24 24h1M31 24h4M37 24h1M39 24h1M45 24h2M1 25h1M3 25h1M8 25h1M15 25h1M31 25h1M35 25h1M39 25h1M44 25h1M1 26h1M4 26h1M22 26h1M29 26h1M32 26h3M38 26h2M48 26h1M50 26h3M1 27h1M5 27h2M29 27h2M32 27h1M35 27h1M1 28h1M5 28h1M8 28h1M27 28h1M40 28h1M55 28h2M59 28h1M5 29h1M26 29h1M31 29h1M35 29h1M37 29h1M40 29h1M42 29h1M49 29h1M28 30h3M35 30h1M1 31h1M24 31h1M28 31h1M30 31h1M33 31h2M3 32h1M29 32h1M47 32h1M1 33h1M24 33h2M27 33h1M31 33h2M1 34h1M3 34h1M28 34h1M25 35h5M35 35h1M51 35h1M1 36h1M24 36h2M27 36h1M22 37h1M27 37h3M56 37h1M3 38h1M10 38h2M23 38h2M26 38h2M1 39h1M6 39h2M24 39h1M26 39h1M31 39h1M1 40h1M4 40h1M6 40h2M17 40h1M19 40h1M21 40h1M24 40h4M2 41h3M12 41h1M14 41h1M19 41h2M23 41h2M30 41h1M1 42h1M3 42h1M9 42h1M14 42h1M23 42h2M1 43h1M5 43h1M9 43h2M13 43h1M18 43h1M20 43h2M2 44h2M6 44h1M8 44h3M12 44h4M20 44h1M23 44h2M26 44h1M1 45h1M8 45h3M13 45h1M15 45h5M22 45h2M3 46h2M6 46h2M12 46h3M16 46h1M18 46h1M20 46h1M1 47h2M5 47h2M8 47h1M10 47h2M13 47h1M2 48h1M8 48h1M10 48h1M14 48h1M16 48h1M22 48h1M7 49h1M12 49h1M14 49h1M17 49h2M8 50h1M12 50h1M14 50h2M18 50h1M5 51h1M12 51h1M17 51h2M13 52h1M23 52h1M17 53h1M11 55h1M15 58h1M14 59h1M16 59h1M10 62h1M15 62h1M17 62h1M14 63h1M18 64h1M8 65h1M12 65h1M15 65h1M11 66h1M13 66h1M16 66h2M10 67h1M13 67h1M15 67h1M8 68h1M12 68h1M10 69h3M14 69h1M12 70h2M16 70h1M10 71h1M13 71h2M8 72h3M13 72h4M11 73h1M19 73h1M9 74h1M13 74h2M12 75h3M16 75h1M7 76h1M13 76h1M19 77h1M9 82h1"/>
<path stroke="#121212" d="M24 15h1M42 15h1M20 16h2M23 16h1M26 16h1M17 17h1M20 17h2M24 17h1M27 17h1M29 17h1M8 18h2M17 18h1M20 18h3M24 18h2M27 18h4M34 18h1M36 18h3M4 19h1M9 19h1M14 19h1M17 19h11M29 19h1M49 19h1M5 20h3M11 20h1M13 20h1M15 20h1M17 20h1M19 20h3M23 20h2M26 20h7M34 20h1M38 20h1M6 21h1M8 21h3M12 21h10M23 21h4M28 21h4M34 21h1M5 22h1M7 22h1M9 22h1M12 22h4M17 22h14M32 22h1M35 22h1M39 22h1M1 23h1M4 23h1M6 23h1M8 23h14M23 23h13M43 23h1M2 24h1M4 24h1M6 24h18M25 24h6M36 24h1M4 25h4M9 25h6M16 25h15M32 25h1M34 25h1M2 26h2M5 26h17M23 26h6M30 26h2M3 27h2M7 27h22M31 27h1M33 27h2M37 27h1M2 28h3M6 28h2M9 28h18M28 28h3M32 28h1M1 29h4M6 29h20M27 29h4M32 29h2M1 30h27M32 30h1M39 30h1M2 31h22M25 31h3M29 31h1M1 32h2M4 32h25M31 32h1M2 33h22M26 33h1M30 33h1M2 34h1M4 34h24M1 35h24M2 36h22M26 36h1M28 36h1M30 36h1M1 37h21M23 37h4M1 38h2M4 38h6M12 38h9M22 38h1M2 39h1M4 39h2M8 39h16M2 40h2M5 40h1M8 40h9M18 40h1M20 40h1M22 40h2M1 41h1M5 41h7M13 41h1M15 41h4M27 41h1M2 42h1M6 42h3M10 42h4M15 42h7M26 42h1M4 43h1M6 43h3M12 43h1M14 43h4M19 43h1M5 44h1M7 44h1M16 44h2M19 44h1M2 45h3M7 45h1M12 45h1M14 45h1M5 46h1M9 46h1M15 46h1M7 47h1M14 47h1M1 48h1M5 48h1M15 48h1M13 53h1M16 60h1M19 60h1M15 63h1M13 64h1M16 64h1M12 67h1M19 68h1M13 69h1M14 70h1M8 71h1M13 73h1"/>
</g>
<path d="M132.5 19.5H221.5V108.5" fill="none" stroke="#a8a8a8" stroke-width="1"/>
<path d="M132.5 19.5V108.5H221.5" fill="none" stroke="#8a8a8a" stroke-width="1"/>
<path d="M130.5 26.6h2M213.5 108.5v2M130.5 46.7h2M193.0 108.5v2M130.5 68.3h2M172.4 108.5v2M130.5 89.4h2M151.2 108.5v2M130.5 98.4h2M141.4 108.5v2M131.5 30.2h1M143.2 108.5v1M131.5 33.8h1M146.8 108.5v1M131.5 37.5h1M150.5 108.5v1M131.5 41.1h1M154.1 108.5v1M131.5 44.8h1M157.8 108.5v1M131.5 48.4h1M161.4 108.5v1M131.5 52.0h1M165.0 108.5v1M131.5 55.7h1M168.7 108.5v1M131.5 59.3h1M172.3 108.5v1M131.5 63.0h1M176.0 108.5v1M131.5 66.6h1M179.6 108.5v1M131.5 70.3h1M183.3 108.5v1M131.5 73.9h1M186.9 108.5v1M131.5 77.6h1M190.6 108.5v1M131.5 81.2h1M194.2 108.5v1M131.5 84.9h1M197.9 108.5v1M131.5 88.5h1M201.5 108.5v1M131.5 92.1h1M205.1 108.5v1M131.5 95.8h1M208.8 108.5v1M131.5 99.4h1M212.4 108.5v1M131.5 103.1h1M216.1 108.5v1M131.5 106.7h1M219.7 108.5v1" stroke="#8a8a8a" stroke-width="0.7" fill="none"/>
<text x="130.0" y="27.9" font-size="4" text-anchor="end" fill="#7a7a7a" transform="rotate(-10 130.0 27.9)">10<tspan dy="-1.2" font-size="2.8">5</tspan></text>
<text x="130.0" y="48.0" font-size="4" text-anchor="end" fill="#7a7a7a" transform="rotate(-10 130.0 48.0)">10<tspan dy="-1.2" font-size="2.8">4</tspan></text>
<text x="130.0" y="69.6" font-size="4" text-anchor="end" fill="#7a7a7a" transform="rotate(-10 130.0 69.6)">10<tspan dy="-1.2" font-size="2.8">3</tspan></text>
<text x="130.0" y="90.7" font-size="4" text-anchor="end" fill="#7a7a7a" transform="rotate(-10 130.0 90.7)">10<tspan dy="-1.2" font-size="2.8">2</tspan></text>
<text x="130.0" y="99.7" font-size="4" text-anchor="end" fill="#7a7a7a" transform="rotate(-10 130.0 99.7)">0</text>
<text x="214.3" y="115.5" font-size="4" text-anchor="middle" fill="#7a7a7a" transform="rotate(-10 214.3 115.5)">10<tspan dy="-1.2" font-size="2.8">5</tspan></text>
<text x="193.8" y="115.5" font-size="4" text-anchor="middle" fill="#7a7a7a" transform="rotate(-10 193.8 115.5)">10<tspan dy="-1.2" font-size="2.8">4</tspan></text>
<text x="173.2" y="115.5" font-size="4" text-anchor="middle" fill="#7a7a7a" transform="rotate(-10 173.2 115.5)">10<tspan dy="-1.2" font-size="2.8">3</tspan></text>
<text x="152.0" y="115.5" font-size="4" text-anchor="middle" fill="#7a7a7a" transform="rotate(-10 152.0 115.5)">10<tspan dy="-1.2" font-size="2.8">2</tspan></text>
<text x="142.2" y="115.5" font-size="4" text-anchor="middle" fill="#7a7a7a" transform="rotate(-10 142.2 115.5)">0</text>
<rect x="132.5" y="25.5" width="34.0" height="53.0" fill="none" stroke="#909090" stroke-width="1"/>
<rect x="166.5" y="25.5" width="52.0" height="54.0" fill="none" stroke="#909090" stroke-width="1"/>
<text x="159.4" y="92.9" font-size="10" font-weight="bold" stroke="#000" stroke-width="0.25" text-anchor="middle" fill="#000">82</text>
<text x="202.7" y="92.9" font-size="10" font-weight="bold" stroke="#000" stroke-width="0.25" text-anchor="middle" fill="#000">10</text>
<line x1="6.5" y1="33" x2="6.5" y2="73" stroke="#555" stroke-width="0.8"/>
<polygon points="6.5,21.9 10.8,35.4 6.5,32.7 2.2,35.4" fill="#000"/>
<text x="8.9" y="92.3" font-size="9.8" font-weight="bold" stroke="#000" stroke-width="0.25" text-anchor="middle" fill="#000" transform="rotate(-90 8.9 92.3)">CD11b</text>
<text x="36" y="125" font-size="9.8" font-weight="bold" stroke="#000" stroke-width="0.25" text-anchor="start" fill="#000">CD11c</text>
<line x1="77.5" y1="71" x2="77.5" y2="121" stroke="#777" stroke-width="0.7"/>
<polygon points="77.5,130.2 73.4,118.7 77.5,121.2 81.6,118.7" fill="#000"/>
<text x="145.2" y="124.9" font-size="9.8" font-weight="bold" stroke="#000" stroke-width="0.25" text-anchor="start" fill="#000">CD11c</text>
<line x1="189.5" y1="71" x2="189.5" y2="121" stroke="#777" stroke-width="0.7"/>
<polygon points="189.5,130.0 185.3,118.5 189.5,121.0 193.7,118.5" fill="#000"/>
<text x="1" y="153.75" font-size="12" font-weight="bold" stroke="#000" stroke-width="0.25" text-anchor="start" fill="#000">B</text>
<text x="80.5" y="156.25" font-size="11.8" font-weight="bold" stroke="#000" stroke-width="0.25" text-anchor="start" fill="#000" textLength="99" lengthAdjust="spacingAndGlyphs">Gated on CD11c<tspan dy="-2.5" font-size="11">+</tspan></text>
<line x1="18" y1="160.5" x2="190" y2="160.5" stroke="#777" stroke-width="1"/>
<g transform="translate(21,173.5)" fill="none" stroke-width="1" shape-rendering="crispEdges" filter="url(#bl)">
<path stroke="#c6c6c6" d="M35 0h1M28 2h1M31 3h1M44 3h1M48 3h1M83 3h1M40 4h1M51 4h1M53 4h1M39 5h1M41 5h2M45 5h1M49 5h1M30 6h1M33 6h1M49 6h1M54 6h1M59 6h1M62 6h1M65 6h1M70 6h1M74 6h1M82 6h1M23 7h1M31 7h1M35 7h1M38 7h1M55 7h1M58 7h1M62 7h1M64 7h2M72 7h2M84 7h1M32 8h1M35 8h1M42 8h1M45 8h2M49 8h1M51 8h1M55 8h1M62 8h6M69 8h1M75 8h2M78 8h4M84 8h1M19 9h1M27 9h1M34 9h1M38 9h2M50 9h3M54 9h1M56 9h3M61 9h1M65 9h3M72 9h1M74 9h1M78 9h1M86 9h1M33 10h2M36 10h1M47 10h3M54 10h1M57 10h1M60 10h4M65 10h1M69 10h2M72 10h2M77 10h1M80 10h2M84 10h1M28 11h7M37 11h2M44 11h1M46 11h1M50 11h2M54 11h1M56 11h1M67 11h1M70 11h2M78 11h1M80 11h1M83 11h1M21 12h1M31 12h1M36 12h1M38 12h1M40 12h1M42 12h1M44 12h1M57 12h1M59 12h3M63 12h1M75 12h1M77 12h1M80 12h2M85 12h1M22 13h1M25 13h1M31 13h1M33 13h2M36 13h1M39 13h1M42 13h2M51 13h1M56 13h1M59 13h1M66 13h1M72 13h5M78 13h1M81 13h2M84 13h1M24 14h1M27 14h1M32 14h1M34 14h1M38 14h2M41 14h1M59 14h1M64 14h1M77 14h1M84 14h2M24 15h1M31 15h1M36 15h1M39 15h1M45 15h1M50 15h1M58 15h1M65 15h1M69 15h1M73 15h1M78 15h1M82 15h3M16 16h1M21 16h3M26 16h1M29 16h1M31 16h2M53 16h1M61 16h1M63 16h2M68 16h1M77 16h1M82 16h1M84 16h1M87 16h1M23 17h1M63 17h1M69 17h1M71 17h2M75 17h1M78 17h1M13 18h1M23 18h1M27 18h2M58 18h1M60 18h1M63 18h1M65 18h2M70 18h2M74 18h2M78 18h1M15 19h1M19 19h1M22 19h3M27 19h1M53 19h2M60 19h2M64 19h1M67 19h1M70 19h4M77 19h1M81 19h1M83 19h1M85 19h1M23 20h1M25 20h2M49 20h2M55 20h3M63 20h5M75 20h3M19 21h1M24 21h1M26 21h2M29 21h1M51 21h2M54 21h1M57 21h1M60 21h1M62 21h2M71 21h1M76 21h1M17 22h1M22 22h1M24 22h2M27 22h1M50 22h1M55 22h1M59 22h2M62 22h1M73 22h1M15 23h1M17 23h4M22 23h1M26 23h2M52 23h2M60 23h1M63 23h1M76 23h1M14 24h1M18 24h2M21 24h2M28 24h1M46 24h1M48 24h1M51 24h1M54 24h1M16 25h1M18 25h3M22 25h1M52 25h2M23 26h1M50 26h1M20 27h1M25 27h1M47 27h1M57 27h2M62 27h1M64 27h1M66 27h1M72 27h1M18 28h1M20 28h1M26 28h1M48 28h1M50 28h1M52 28h3M57 28h1M13 29h2M26 29h1M46 29h4M52 29h1M55 29h1M57 29h1M59 29h1M9 30h1M23 30h1M26 30h1M30 30h1M47 30h1M49 30h2M67 30h1M11 31h1M20 31h1M23 31h2M26 31h1M45 31h1M47 31h1M51 31h1M53 31h1M55 31h1M60 31h1M66 31h1M72 31h1M12 32h1M14 32h1M18 32h1M21 32h4M45 32h1M47 32h1M53 32h1M55 32h1M58 32h1M61 32h1M17 33h1M20 33h1M23 33h1M26 33h1M39 33h1M46 33h1M50 33h1M52 33h1M55 33h1M58 33h1M60 33h1M64 33h1M69 33h1M21 34h1M24 34h1M28 34h1M48 34h1M53 34h2M56 34h1M59 34h1M62 34h1M15 35h2M18 35h1M20 35h3M24 35h1M27 35h1M30 35h1M39 35h3M44 35h4M49 35h3M54 35h1M56 35h1M59 35h1M63 35h1M68 35h1M19 36h1M21 36h1M25 36h2M43 36h1M46 36h1M48 36h2M52 36h1M58 36h1M78 36h1M6 37h1M14 37h1M17 37h1M21 37h1M25 37h3M34 37h1M38 37h1M41 37h1M43 37h1M46 37h4M54 37h1M60 37h1M20 38h1M28 38h1M31 38h1M38 38h2M41 38h2M44 38h1M47 38h2M50 38h2M54 38h1M62 38h1M74 38h1M77 38h1M18 39h1M22 39h1M25 39h4M39 39h1M41 39h1M43 39h1M45 39h2M48 39h1M50 39h1M52 39h1M60 39h1M67 39h1M11 40h1M28 40h1M31 40h4M36 40h1M39 40h1M47 40h1M49 40h2M52 40h1M56 40h1M58 40h2M67 40h1M14 41h1M17 41h1M25 41h2M28 41h2M33 41h1M35 41h1M37 41h1M39 41h1M47 41h1M52 41h1M17 42h1M24 42h7M32 42h1M34 42h1M42 42h1M48 42h1M59 42h1M12 43h1M16 43h3M22 43h1M29 43h1M31 43h1M33 43h1M38 43h1M47 43h1M52 43h1M57 43h1M61 43h1M65 43h3M9 44h1M23 44h2M28 44h1M30 44h1M32 44h2M35 44h2M41 44h1M43 44h2M47 44h1M50 44h2M57 44h1M23 45h3M37 45h2M42 45h1M58 45h3M26 46h3M32 46h1M38 46h1M42 46h1M44 46h2M48 46h1M52 46h1M55 46h1M65 46h1M20 47h1M24 47h1M28 47h2M31 47h1M34 47h1M38 47h1M42 47h1M44 47h1M48 47h1M51 47h1M28 48h1M32 48h1M38 48h2M45 48h1M31 49h1M39 49h3M53 49h1M14 50h1M29 50h2M38 50h1M52 50h1M55 50h2M80 50h1M26 51h1M35 51h2M47 51h1M51 51h3M60 51h1M27 52h1M43 52h2M46 52h3M51 52h2M65 52h1M10 53h1M23 53h1M31 53h2M35 53h3M50 53h1M61 53h1M36 54h3M43 54h1M51 54h1M63 54h1M35 55h1M40 55h1M43 55h1M52 55h1M55 55h1M62 55h1M84 55h1M13 56h1M40 56h1M12 57h1M35 57h2M47 57h1M36 58h1M41 58h1M49 58h1M70 58h1M26 59h1M40 59h2M57 59h1M36 60h2M49 60h1M37 61h1M45 61h1M55 61h1M59 61h1M70 62h1M27 63h1M55 63h1M68 63h1M41 64h1M60 64h1M71 64h1M43 65h1M57 65h1M55 66h1M71 66h1M34 67h1M63 68h1M55 69h1M58 69h1M34 76h1M70 76h1"/>
<path stroke="#888" d="M43 8h1M57 8h1M43 9h1M53 9h1M60 9h1M62 9h1M64 9h1M70 9h2M79 9h1M35 10h1M40 10h1M43 10h1M64 10h1M67 10h2M78 10h1M49 11h1M52 11h1M57 11h2M61 11h1M63 11h1M66 11h1M68 11h2M74 11h2M81 11h1M32 12h1M37 12h1M43 12h1M47 12h5M55 12h1M64 12h1M66 12h1M70 12h1M73 12h1M76 12h1M78 12h2M28 13h2M32 13h1M35 13h1M37 13h1M41 13h1M44 13h1M46 13h3M52 13h1M54 13h1M58 13h1M60 13h1M62 13h1M68 13h2M77 13h1M83 13h1M26 14h1M33 14h1M35 14h3M42 14h1M44 14h4M50 14h1M53 14h1M57 14h2M61 14h3M67 14h1M69 14h3M75 14h2M79 14h1M26 15h1M28 15h2M34 15h2M43 15h2M46 15h1M54 15h1M56 15h1M61 15h1M68 15h1M71 15h1M74 15h4M79 15h1M28 16h1M38 16h1M40 16h2M44 16h1M46 16h1M49 16h1M56 16h1M62 16h1M66 16h1M71 16h2M74 16h2M21 17h1M28 17h1M33 17h1M53 17h2M59 17h1M61 17h2M66 17h1M70 17h1M73 17h1M76 17h1M25 18h2M29 18h4M38 18h1M40 18h1M52 18h1M54 18h1M56 18h2M59 18h1M61 18h2M64 18h1M67 18h2M82 18h1M30 19h1M45 19h1M47 19h1M57 19h2M62 19h1M65 19h1M27 20h1M29 20h3M52 20h3M58 20h1M60 20h1M22 21h1M46 21h1M48 21h1M50 21h1M53 21h1M55 21h2M61 21h1M20 22h1M48 22h1M53 22h1M16 23h1M23 23h2M48 23h1M50 23h2M25 24h3M32 24h1M50 24h1M52 24h1M21 25h1M23 25h1M26 25h1M49 25h3M54 25h1M10 26h1M25 26h1M45 26h5M51 26h1M53 26h1M22 27h3M27 27h1M29 27h1M43 27h1M46 27h1M48 27h4M22 28h4M45 28h3M49 28h1M18 29h1M23 29h3M21 30h1M24 30h1M38 30h1M41 30h1M43 30h1M45 30h2M48 30h1M52 30h1M54 30h1M21 31h2M27 31h1M41 31h2M52 31h1M54 31h1M19 32h1M38 32h1M44 32h1M46 32h1M22 33h1M25 33h1M28 33h3M32 33h1M37 33h1M42 33h3M25 34h1M27 34h1M32 34h1M42 34h2M45 34h1M23 35h1M42 35h2M22 36h1M24 36h1M28 36h2M33 36h4M38 36h1M41 36h2M45 36h1M20 37h1M29 37h1M31 37h3M39 37h2M42 37h1M45 37h1M19 38h1M23 38h1M29 38h1M33 38h5M40 38h1M30 39h2M34 39h3M40 39h1M26 40h2M29 40h1M35 40h1M37 40h2M43 40h2M48 40h1M31 41h2M34 41h1M38 41h1M41 41h1M50 41h1M38 42h1M34 43h1M41 43h1M43 43h1M48 43h1M55 43h1M30 45h1M44 45h1M29 46h1M47 47h1M36 48h1M35 49h1M61 49h1M37 50h1M39 50h1M41 51h1M52 53h1M53 56h1M57 56h1"/>
<path stroke="#4a4a4a" d="M59 9h1M39 10h1M53 10h1M71 10h1M42 11h1M48 11h1M55 11h1M59 11h2M62 11h1M64 11h1M72 11h1M79 11h1M35 12h1M52 12h3M56 12h1M62 12h1M65 12h1M67 12h3M71 12h1M82 12h1M38 13h1M40 13h1M49 13h1M53 13h1M55 13h1M63 13h1M67 13h1M70 13h2M30 14h1M40 14h1M51 14h2M54 14h3M60 14h1M66 14h1M73 14h2M30 15h1M37 15h2M40 15h1M42 15h1M47 15h1M49 15h1M51 15h1M53 15h1M57 15h1M59 15h2M62 15h2M66 15h2M72 15h1M30 16h1M33 16h4M39 16h1M43 16h1M45 16h1M48 16h1M50 16h1M52 16h1M54 16h2M58 16h3M65 16h1M67 16h1M69 16h2M83 16h1M30 17h3M34 17h1M36 17h2M41 17h1M44 17h1M48 17h1M51 17h2M55 17h1M57 17h1M64 17h2M68 17h1M35 18h3M41 18h2M46 18h2M50 18h2M53 18h1M28 19h1M31 19h1M33 19h2M39 19h1M42 19h1M44 19h1M48 19h2M52 19h1M55 19h2M59 19h1M24 20h1M28 20h1M32 20h1M34 20h1M41 20h3M45 20h1M47 20h1M51 20h1M28 21h1M30 21h2M33 21h1M38 21h1M45 21h1M28 22h3M37 22h1M40 22h2M43 22h1M45 22h1M47 22h1M49 22h1M51 22h1M28 23h3M37 23h1M39 23h1M43 23h3M47 23h1M49 23h1M23 24h1M44 24h2M47 24h1M49 24h1M24 25h1M27 25h3M45 25h1M47 25h2M21 26h1M26 26h1M28 26h3M41 26h1M26 27h1M28 27h1M32 27h1M35 27h1M39 27h1M41 27h2M44 27h2M27 28h1M29 28h1M31 28h1M27 29h2M31 29h2M38 29h1M42 29h4M25 30h1M27 30h2M34 30h1M37 30h1M40 30h1M44 30h1M25 31h1M29 31h1M33 31h1M35 31h1M43 31h2M26 32h4M35 32h1M40 32h4M48 32h1M18 33h1M27 33h1M31 33h1M34 33h1M36 33h1M40 33h2M45 33h1M26 34h1M29 34h1M31 34h1M33 34h1M38 34h4M26 35h1M31 35h1M33 35h1M36 35h1M38 35h1M48 35h1M27 36h1M30 36h3M39 36h2M24 37h1M28 37h1M35 37h3M27 38h1M30 38h1M32 38h1M46 38h1M29 39h1M33 39h1M38 39h1M44 39h1M35 42h1M37 42h1M36 43h1"/>
<path stroke="#121212" d="M73 11h1M72 12h1M45 13h1M50 13h1M61 13h1M64 13h2M43 14h1M49 14h1M65 14h1M41 15h1M48 15h1M52 15h1M64 15h1M70 15h1M37 16h1M42 16h1M47 16h1M51 16h1M57 16h1M35 17h1M38 17h3M42 17h2M45 17h3M49 17h2M60 17h1M33 18h2M39 18h1M43 18h3M48 18h2M55 18h1M26 19h1M32 19h1M35 19h4M40 19h2M43 19h1M46 19h1M50 19h2M33 20h1M35 20h6M44 20h1M46 20h1M48 20h1M32 21h1M34 21h4M39 21h6M47 21h1M49 21h1M31 22h6M38 22h2M42 22h1M44 22h1M46 22h1M25 23h1M31 23h6M38 23h1M40 23h3M46 23h1M29 24h3M33 24h11M30 25h15M46 25h1M27 26h1M31 26h10M42 26h3M30 27h2M33 27h2M36 27h3M40 27h1M28 28h1M30 28h1M32 28h13M29 29h2M33 29h5M39 29h3M29 30h1M31 30h3M35 30h2M39 30h1M42 30h1M28 31h1M30 31h3M34 31h1M36 31h5M46 31h1M25 32h1M30 32h5M36 32h1M39 32h1M24 33h1M33 33h1M35 33h1M38 33h1M30 34h1M34 34h4M28 35h2M32 35h1M34 35h2M37 35h1M37 36h1M44 36h1M30 37h1M32 39h1M36 42h1"/>
</g>
<path d="M21.5 172.5H109.5V261.5" fill="none" stroke="#a8a8a8" stroke-width="1"/>
<path d="M21.5 172.5V261.5H109.5" fill="none" stroke="#8a8a8a" stroke-width="1"/>
<path d="M19.5 179.6h2M101.6 261.5v2M19.5 199.7h2M81.3 261.5v2M19.5 221.3h2M60.9 261.5v2M19.5 242.4h2M40.0 261.5v2M19.5 251.4h2M30.3 261.5v2M20.5 183.2h1M32.1 261.5v1M20.5 186.8h1M35.7 261.5v1M20.5 190.5h1M39.3 261.5v1M20.5 194.1h1M42.9 261.5v1M20.5 197.8h1M46.5 261.5v1M20.5 201.4h1M50.1 261.5v1M20.5 205.0h1M53.7 261.5v1M20.5 208.7h1M57.3 261.5v1M20.5 212.3h1M60.9 261.5v1M20.5 216.0h1M64.5 261.5v1M20.5 219.6h1M68.1 261.5v1M20.5 223.3h1M71.7 261.5v1M20.5 226.9h1M75.3 261.5v1M20.5 230.6h1M78.9 261.5v1M20.5 234.2h1M82.5 261.5v1M20.5 237.9h1M86.1 261.5v1M20.5 241.5h1M89.7 261.5v1M20.5 245.1h1M93.3 261.5v1M20.5 248.8h1M96.9 261.5v1M20.5 252.4h1M100.5 261.5v1M20.5 256.1h1M104.1 261.5v1M20.5 259.7h1M107.7 261.5v1" stroke="#8a8a8a" stroke-width="0.7" fill="none"/>
<text x="19.0" y="180.9" font-size="4" text-anchor="end" fill="#7a7a7a" transform="rotate(-10 19.0 180.9)">10<tspan dy="-1.2" font-size="2.8">5</tspan></text>
<text x="19.0" y="201.0" font-size="4" text-anchor="end" fill="#7a7a7a" transform="rotate(-10 19.0 201.0)">10<tspan dy="-1.2" font-size="2.8">4</tspan></text>
<text x="19.0" y="222.6" font-size="4" text-anchor="end" fill="#7a7a7a" transform="rotate(-10 19.0 222.6)">10<tspan dy="-1.2" font-size="2.8">3</tspan></text>
<text x="19.0" y="243.7" font-size="4" text-anchor="end" fill="#7a7a7a" transform="rotate(-10 19.0 243.7)">10<tspan dy="-1.2" font-size="2.8">2</tspan></text>
<text x="19.0" y="252.7" font-size="4" text-anchor="end" fill="#7a7a7a" transform="rotate(-10 19.0 252.7)">0</text>
<text x="102.4" y="268.5" font-size="4" text-anchor="middle" fill="#7a7a7a" transform="rotate(-10 102.4 268.5)">10<tspan dy="-1.2" font-size="2.8">5</tspan></text>
<text x="82.1" y="268.5" font-size="4" text-anchor="middle" fill="#7a7a7a" transform="rotate(-10 82.1 268.5)">10<tspan dy="-1.2" font-size="2.8">4</tspan></text>
<text x="61.7" y="268.5" font-size="4" text-anchor="middle" fill="#7a7a7a" transform="rotate(-10 61.7 268.5)">10<tspan dy="-1.2" font-size="2.8">3</tspan></text>
<text x="40.8" y="268.5" font-size="4" text-anchor="middle" fill="#7a7a7a" transform="rotate(-10 40.8 268.5)">10<tspan dy="-1.2" font-size="2.8">2</tspan></text>
<text x="31.1" y="268.5" font-size="4" text-anchor="middle" fill="#7a7a7a" transform="rotate(-10 31.1 268.5)">0</text>
<rect x="29.5" y="191.5" width="40.0" height="26.0" fill="none" stroke="#909090" stroke-width="1"/>
<rect x="62.5" y="176.5" width="46.0" height="26.0" fill="none" stroke="#909090" stroke-width="1"/>
<text x="45.3" y="229" font-size="9.7" font-weight="bold" stroke="#000" stroke-width="0.25" text-anchor="middle" fill="#000">50</text>
<text x="95" y="213.3" font-size="9.7" font-weight="bold" stroke="#000" stroke-width="0.25" text-anchor="middle" fill="#000">42</text>
<g transform="translate(127,172.5)" fill="none" stroke-width="1" shape-rendering="crispEdges" filter="url(#bl)">
<path stroke="#c6c6c6" d="M61 5h1M51 7h1M35 8h1M61 8h1M53 9h1M57 9h1M59 9h1M64 9h1M69 9h2M74 9h1M39 10h1M43 10h1M58 10h1M64 10h2M70 10h1M72 10h1M77 10h1M51 11h1M54 11h1M62 11h1M64 11h1M68 11h1M76 11h1M43 12h4M48 12h1M55 12h3M59 12h2M62 12h1M66 12h1M69 12h3M37 13h1M39 13h1M47 13h1M51 13h1M54 13h2M64 13h3M71 13h1M77 13h1M81 13h1M48 14h1M53 14h1M58 14h2M61 14h3M65 14h1M70 14h2M75 14h1M77 14h1M83 14h1M24 15h1M29 15h1M32 15h1M36 15h1M44 15h1M46 15h3M59 15h1M61 15h1M63 15h1M65 15h2M68 15h1M70 15h2M74 15h1M76 15h1M80 15h1M18 16h1M39 16h1M41 16h5M47 16h1M51 16h1M57 16h2M61 16h3M68 16h1M70 16h1M73 16h3M82 16h2M18 17h1M24 17h1M33 17h4M39 17h2M44 17h2M47 17h1M60 17h1M62 17h1M67 17h1M69 17h2M73 17h2M36 18h1M45 18h1M49 18h1M53 18h1M56 18h2M59 18h2M63 18h3M67 18h2M80 18h1M28 19h1M33 19h1M45 19h1M49 19h2M53 19h1M60 19h1M63 19h1M70 19h1M72 19h1M74 19h1M26 20h1M28 20h1M36 20h1M40 20h2M43 20h2M46 20h1M53 20h1M55 20h2M58 20h3M74 20h1M82 20h1M27 21h3M34 21h1M43 21h1M45 21h1M47 21h1M49 21h1M51 21h1M53 21h3M58 21h1M60 21h1M64 21h3M76 21h1M2 22h1M19 22h1M26 22h1M41 22h1M45 22h2M48 22h1M50 22h1M53 22h3M58 22h1M62 22h1M64 22h1M67 22h1M74 22h2M31 23h2M36 23h1M39 23h1M42 23h1M44 23h1M46 23h1M50 23h1M30 24h1M40 24h3M47 24h1M52 24h1M59 24h1M75 24h1M16 25h1M19 25h2M25 25h1M28 25h1M35 25h1M40 25h4M45 25h1M52 25h1M54 25h1M60 25h1M64 25h1M19 26h2M29 26h1M32 26h1M34 26h1M36 26h1M41 26h3M57 26h1M62 26h1M68 26h1M70 26h1M72 26h1M22 27h1M28 27h1M37 27h1M40 27h2M43 27h1M45 27h1M48 27h1M61 27h1M63 27h1M65 27h1M72 27h1M75 27h1M21 28h1M23 28h2M34 28h1M37 28h1M40 28h1M42 28h1M45 28h1M54 28h1M60 28h1M73 28h1M78 28h1M18 29h1M21 29h1M27 29h1M30 29h1M33 29h1M35 29h1M37 29h5M43 29h2M46 29h3M66 29h1M83 29h1M22 30h1M36 30h3M43 30h1M53 30h1M80 30h1M88 30h1M9 31h1M25 31h1M28 31h1M31 31h1M36 31h2M40 31h1M44 31h2M51 31h2M55 31h1M59 31h1M63 31h1M68 31h1M23 32h1M25 32h1M28 32h1M30 32h1M32 32h1M35 32h1M39 32h2M45 32h1M51 32h2M56 32h1M65 32h1M25 33h1M29 33h2M36 33h1M42 33h2M47 33h1M50 33h1M54 33h2M62 33h1M73 33h1M77 33h1M19 34h1M33 34h1M36 34h1M41 34h2M44 34h1M46 34h1M48 34h1M57 34h2M64 34h1M67 34h1M73 34h1M84 34h1M26 35h1M30 35h1M32 35h1M40 35h1M46 35h3M55 35h2M25 36h1M28 36h1M31 36h1M43 36h1M46 36h3M54 36h2M61 36h1M67 36h1M72 36h1M26 37h1M28 37h1M31 37h2M36 37h1M38 37h1M44 37h1M47 37h1M55 37h1M57 37h1M26 38h1M28 38h1M33 38h1M39 38h1M45 38h2M54 38h1M56 38h1M61 38h1M63 38h1M67 38h1M79 38h1M31 39h4M39 39h1M42 39h1M44 39h1M47 39h1M50 39h1M52 39h1M65 39h1M67 39h1M71 39h1M5 40h1M36 40h1M44 40h1M46 40h1M57 40h1M59 40h1M86 40h1M12 41h1M36 41h1M42 41h2M49 41h1M57 41h1M60 41h1M62 41h1M70 41h1M29 42h1M33 42h1M36 42h1M40 42h1M45 42h1M53 42h1M77 42h2M31 43h2M36 43h1M39 43h1M44 43h2M47 43h2M10 44h1M29 44h2M36 44h1M39 44h1M41 44h3M46 44h1M50 44h1M36 45h1M53 45h1M39 46h2M47 46h1M49 46h1M53 46h1M57 46h1M77 46h1M30 47h1M49 47h1M22 48h1M39 48h1M69 48h1M53 49h1M84 49h1M38 50h2M41 50h2M46 50h1M48 50h2M83 50h1M40 51h1M50 51h1M40 53h1M89 53h1M32 55h1M40 58h1M38 65h1"/>
<path stroke="#888" d="M61 10h1M66 11h1M58 12h1M65 12h1M56 13h1M58 13h2M63 13h1M69 13h1M49 14h4M54 14h1M56 14h2M64 14h1M67 14h2M49 15h1M53 15h3M57 15h2M75 15h1M49 16h2M54 16h2M59 16h1M65 16h1M46 17h1M49 17h1M52 17h1M54 17h1M59 17h1M66 17h1M43 18h1M46 18h1M48 18h1M52 18h1M55 18h1M69 18h1M40 19h1M44 19h1M47 19h1M51 19h1M54 19h1M56 19h1M58 19h2M61 19h1M65 19h1M67 19h1M37 20h1M42 20h1M45 20h1M49 20h1M52 20h1M54 20h1M57 20h1M62 20h2M66 20h1M40 21h1M44 21h1M50 21h1M61 21h2M51 22h1M59 22h1M47 23h1M36 24h1M38 24h1M43 24h1M45 24h1M46 25h1M38 26h1M44 26h1M46 26h1M38 27h1M44 27h1M36 28h1M51 28h1M33 31h2M37 32h2M43 32h1M42 35h1M45 35h1M65 35h1M38 36h1M44 36h1M20 37h1M45 37h1M47 38h1M45 40h1M62 40h1M66 40h1M45 41h1M34 42h1M40 43h1M42 46h1M45 46h1M52 46h1"/>
<path stroke="#4a4a4a" d="M62 13h1M50 15h1M52 15h1M60 15h1M52 16h2M56 16h1M48 17h1M50 17h2M53 17h1M56 17h1M58 17h1M61 17h1M47 18h1M50 18h2M61 18h1M41 19h1M52 19h1M71 19h1M48 20h1M50 20h2M48 21h1M47 22h1M64 23h1M42 32h1M41 39h1"/>
<path stroke="#121212" d="M51 15h1M56 15h1M55 17h1M57 17h1M62 18h1M55 19h1"/>
</g>
<path d="M127.5 172.5H216.5V261.5" fill="none" stroke="#a8a8a8" stroke-width="1"/>
<path d="M127.5 172.5V261.5H216.5" fill="none" stroke="#8a8a8a" stroke-width="1"/>
<path d="M125.5 179.6h2M208.5 261.5v2M125.5 199.7h2M188.0 261.5v2M125.5 221.3h2M167.4 261.5v2M125.5 242.4h2M146.2 261.5v2M125.5 251.4h2M136.4 261.5v2M126.5 183.2h1M138.2 261.5v1M126.5 186.8h1M141.8 261.5v1M126.5 190.5h1M145.5 261.5v1M126.5 194.1h1M149.1 261.5v1M126.5 197.8h1M152.8 261.5v1M126.5 201.4h1M156.4 261.5v1M126.5 205.0h1M160.0 261.5v1M126.5 208.7h1M163.7 261.5v1M126.5 212.3h1M167.3 261.5v1M126.5 216.0h1M171.0 261.5v1M126.5 219.6h1M174.6 261.5v1M126.5 223.3h1M178.3 261.5v1M126.5 226.9h1M181.9 261.5v1M126.5 230.6h1M185.6 261.5v1M126.5 234.2h1M189.2 261.5v1M126.5 237.9h1M192.9 261.5v1M126.5 241.5h1M196.5 261.5v1M126.5 245.1h1M200.1 261.5v1M126.5 248.8h1M203.8 261.5v1M126.5 252.4h1M207.4 261.5v1M126.5 256.1h1M211.1 261.5v1M126.5 259.7h1M214.7 261.5v1" stroke="#8a8a8a" stroke-width="0.7" fill="none"/>
<text x="125.0" y="180.9" font-size="4" text-anchor="end" fill="#7a7a7a" transform="rotate(-10 125.0 180.9)">10<tspan dy="-1.2" font-size="2.8">5</tspan></text>
<text x="125.0" y="201.0" font-size="4" text-anchor="end" fill="#7a7a7a" transform="rotate(-10 125.0 201.0)">10<tspan dy="-1.2" font-size="2.8">4</tspan></text>
<text x="125.0" y="222.6" font-size="4" text-anchor="end" fill="#7a7a7a" transform="rotate(-10 125.0 222.6)">10<tspan dy="-1.2" font-size="2.8">3</tspan></text>
<text x="125.0" y="243.7" font-size="4" text-anchor="end" fill="#7a7a7a" transform="rotate(-10 125.0 243.7)">10<tspan dy="-1.2" font-size="2.8">2</tspan></text>
<text x="125.0" y="252.7" font-size="4" text-anchor="end" fill="#7a7a7a" transform="rotate(-10 125.0 252.7)">0</text>
<text x="209.3" y="268.5" font-size="4" text-anchor="middle" fill="#7a7a7a" transform="rotate(-10 209.3 268.5)">10<tspan dy="-1.2" font-size="2.8">5</tspan></text>
<text x="188.8" y="268.5" font-size="4" text-anchor="middle" fill="#7a7a7a" transform="rotate(-10 188.8 268.5)">10<tspan dy="-1.2" font-size="2.8">4</tspan></text>
<text x="168.2" y="268.5" font-size="4" text-anchor="middle" fill="#7a7a7a" transform="rotate(-10 168.2 268.5)">10<tspan dy="-1.2" font-size="2.8">3</tspan></text>
<text x="147.0" y="268.5" font-size="4" text-anchor="middle" fill="#7a7a7a" transform="rotate(-10 147.0 268.5)">10<tspan dy="-1.2" font-size="2.8">2</tspan></text>
<text x="137.2" y="268.5" font-size="4" text-anchor="middle" fill="#7a7a7a" transform="rotate(-10 137.2 268.5)">0</text>
<path d="M133.5 190.5H167.2L168.5 195L173.5 201.7V217.5H133.5Z" fill="none" stroke="#909090"/>
<rect x="166.5" y="175.5" width="47.0" height="27.0" fill="none" stroke="#909090" stroke-width="1"/>
<text x="153.4" y="230" font-size="9.8" font-weight="bold" stroke="#000" stroke-width="0.25" text-anchor="middle" fill="#000">18</text>
<text x="204.3" y="214.3" font-size="9.8" font-weight="bold" stroke="#000" stroke-width="0.25" text-anchor="middle" fill="#000">64</text>
<line x1="6.5" y1="185" x2="6.5" y2="225.3" stroke="#555" stroke-width="0.8"/>
<polygon points="6.5,174.4 10.9,187.5 6.5,184.9 2.1,187.5" fill="#000"/>
<text x="9.9" y="244.5" font-size="9.7" font-weight="bold" stroke="#000" stroke-width="0.25" text-anchor="middle" fill="#000" transform="rotate(-90 9.9 244.5)">CD11b</text>
<text x="21.6" y="281.9" font-size="9.8" font-weight="bold" stroke="#000" stroke-width="0.25" text-anchor="start" fill="#000">Ly6C</text>
<line x1="54.5" y1="276.6" x2="200" y2="276.6" stroke="#777" stroke-width="0.8"/>
<polygon points="210.6,276.5 196.9,280.6 200.1,276.5 196.9,272.4" fill="#000"/>
<text x="237.5" y="9.75" font-size="12" font-weight="bold" stroke="#000" stroke-width="0.25" text-anchor="start" fill="#000">C</text>
<text x="298.3" y="16.9" font-size="9.9" font-weight="bold" stroke="#000" stroke-width="0.25" text-anchor="start" fill="#000">CD11c<tspan dy="-0.8" font-size="6">-</tspan></text>
<text x="403.3" y="16.9" font-size="9.9" font-weight="bold" stroke="#000" stroke-width="0.25" text-anchor="start" fill="#000">CD11c<tspan dy="-1.2" dx="0.5" font-size="7">+</tspan></text>
<line x1="244.4" y1="27" x2="244.4" y2="66" stroke="#555" stroke-width="0.8"/>
<polygon points="244.4,16.2 248.8,29.4 244.4,26.7 240.0,29.4" fill="#000"/>
<text x="246.9" y="93.85" font-size="10.3" font-weight="bold" stroke="#000" stroke-width="0.25" text-anchor="middle" fill="#000" transform="rotate(-90 246.9 93.85)">% of Max</text>
<text x="267.6" y="132.3" font-size="10.2" font-weight="bold" stroke="#000" stroke-width="0.25" text-anchor="start" fill="#000">IRF4</text>
<line x1="297" y1="127.3" x2="441" y2="127.3" stroke="#777" stroke-width="0.8"/>
<polygon points="452.3,127.3 438.2,131.5 441.3,127.3 438.2,123.1" fill="#000"/>
<path d="M262.5 111.6 L263.0 111.6 L263.5 111.6 L264.0 111.6 L264.4 111.5 L264.9 111.5 L265.4 111.5 L265.9 111.5 L266.4 111.5 L266.9 111.4 L267.4 111.4 L267.9 111.3 L268.3 111.3 L268.8 111.2 L269.3 111.1 L269.8 111.0 L270.3 110.9 L270.8 110.7 L271.3 110.5 L271.7 110.3 L272.2 110.1 L272.7 109.8 L273.2 109.5 L273.7 109.1 L274.2 108.7 L274.7 108.2 L275.2 107.6 L275.6 106.8 L276.1 106.0 L276.6 104.9 L277.1 103.8 L277.6 102.2 L278.1 100.5 L278.6 98.3 L279.0 95.6 L279.5 92.8 L280.0 89.2 L280.5 85.1 L281.0 80.9 L281.5 75.9 L282.0 70.5 L282.5 64.9 L282.9 59.6 L283.4 53.2 L283.9 46.9 L284.4 43.3 L284.9 37.3 L285.4 33.9 L285.9 31.6 L286.3 29.0 L286.8 29.0 L287.3 30.4 L287.8 31.1 L288.3 33.1 L288.8 36.7 L289.3 40.0 L289.7 44.8 L290.2 49.2 L290.7 54.0 L291.2 60.1 L291.7 65.0 L292.2 70.3 L292.7 75.0 L293.2 80.0 L293.6 84.1 L294.1 87.9 L294.6 91.2 L295.1 94.3 L295.6 97.4 L296.1 99.6 L296.6 101.5 L297.0 103.4 L297.5 104.8 L298.0 106.0 L298.5 106.9 L299.0 107.8 L299.5 108.5 L300.0 109.1 L300.5 109.5 L300.9 109.9 L301.4 110.2 L301.9 110.5 L302.4 110.7 L302.9 110.9 L303.4 111.0 L303.9 111.1 L304.3 111.2 L304.8 111.3 L305.3 111.3 L305.8 111.4 L306.3 111.4 L306.8 111.5 L307.3 111.5 L307.8 111.5 L308.2 111.5 L308.7 111.6 L309.2 111.6 L309.7 111.6 L310.2 111.6 L310.7 111.6 L311.2 111.6 L311.6 111.6 L312.1 111.6 L312.6 111.6 L313.1 111.6 L313.6 111.6 L314.1 111.6 L314.6 111.6 L315.1 111.6 L315.5 111.6 L316.0 111.6 L316.5 111.6 L317.0 111.6 L317.5 111.6 L318.0 111.6 L318.5 111.6 L318.9 111.6 L319.4 111.6 L319.9 111.6 L320.4 111.6 L320.9 111.6 L321.4 111.6 L321.9 111.6 L322.4 111.6 L322.8 111.6 L323.3 111.6 L323.8 111.6 L324.3 111.6 L324.8 111.6 L325.3 111.6 L325.8 111.6 L326.2 111.6 L326.7 111.6 L327.2 111.6 L327.7 111.6 L328.2 111.6 L328.7 111.6 L329.2 111.6 L329.6 111.6 L330.1 111.6 L330.6 111.6 L331.1 111.6 L331.6 111.6 L332.1 111.6 L332.6 111.6 L333.1 111.6 L333.5 111.6 L334.0 111.6 L334.5 111.6 L335.0 111.6 L335.5 111.6 L336.0 111.6 L336.5 111.6 L336.9 111.6 L337.4 111.6 L337.9 111.6 L338.4 111.6 L338.9 111.6 L339.4 111.6 L339.9 111.6 L340.4 111.6 L340.8 111.6 L341.3 111.6 L341.8 111.6 L342.3 111.6 L342.8 111.6 L343.3 111.6 L343.8 111.6 L344.2 111.6 L344.7 111.6 L345.2 111.6 L345.7 111.6 L346.2 111.6 L346.7 111.6 L347.2 111.6 L347.7 111.6 L348.1 111.6 L348.6 111.6 L349.1 111.6 L349.6 111.6L349.6 111.6L262.5 111.6Z" fill="#9a9a9a" stroke="#8a8a8a" stroke-width="0.6"/>
<path d="M262.5 111.6 L263.0 111.6 L263.5 111.6 L264.0 111.6 L264.4 111.6 L264.9 111.6 L265.4 111.6 L265.9 111.6 L266.4 111.6 L266.9 111.6 L267.4 111.6 L267.9 111.6 L268.3 111.6 L268.8 111.6 L269.3 111.6 L269.8 111.6 L270.3 111.6 L270.8 111.6 L271.3 111.6 L271.7 111.6 L272.2 111.6 L272.7 111.6 L273.2 111.6 L273.7 111.6 L274.2 111.6 L274.7 111.6 L275.2 111.5 L275.6 111.5 L276.1 111.4 L276.6 111.4 L277.1 111.2 L277.6 111.0 L278.1 110.7 L278.6 110.3 L279.0 109.6 L279.5 108.8 L280.0 107.7 L280.5 106.2 L281.0 104.3 L281.5 101.9 L282.0 98.7 L282.5 95.1 L282.9 90.9 L283.4 85.5 L283.9 80.0 L284.4 73.7 L284.9 67.6 L285.4 60.8 L285.9 54.3 L286.3 47.9 L286.8 41.5 L287.3 37.1 L287.8 32.5 L288.3 30.0 L288.8 29.0 L289.3 30.3 L289.7 30.3 L290.2 33.5 L290.7 37.2 L291.2 42.5 L291.7 47.1 L292.2 52.3 L292.7 58.6 L293.2 64.7 L293.6 70.8 L294.1 76.1 L294.6 81.8 L295.1 87.2 L295.6 91.3 L296.1 95.3 L296.6 98.7 L297.0 101.3 L297.5 103.5 L298.0 105.5 L298.5 107.0 L299.0 108.2 L299.5 109.1 L300.0 109.8 L300.5 110.3 L300.9 110.7 L301.4 111.0 L301.9 111.2 L302.4 111.3 L302.9 111.4 L303.4 111.5 L303.9 111.5 L304.3 111.6 L304.8 111.6 L305.3 111.6 L305.8 111.6 L306.3 111.6 L306.8 111.6 L307.3 111.6 L307.8 111.6 L308.2 111.6 L308.7 111.6 L309.2 111.6 L309.7 111.6 L310.2 111.6 L310.7 111.6 L311.2 111.6 L311.6 111.6 L312.1 111.6 L312.6 111.6 L313.1 111.6 L313.6 111.6 L314.1 111.6 L314.6 111.6 L315.1 111.6 L315.5 111.6 L316.0 111.6 L316.5 111.6 L317.0 111.6 L317.5 111.6 L318.0 111.6 L318.5 111.6 L318.9 111.6 L319.4 111.6 L319.9 111.6 L320.4 111.6 L320.9 111.6 L321.4 111.6 L321.9 111.6 L322.4 111.6 L322.8 111.6 L323.3 111.6 L323.8 111.6 L324.3 111.6 L324.8 111.6 L325.3 111.6 L325.8 111.6 L326.2 111.6 L326.7 111.6 L327.2 111.6 L327.7 111.6 L328.2 111.6 L328.7 111.6 L329.2 111.6 L329.6 111.6 L330.1 111.6 L330.6 111.6 L331.1 111.6 L331.6 111.6 L332.1 111.6 L332.6 111.6 L333.1 111.6 L333.5 111.6 L334.0 111.6 L334.5 111.6 L335.0 111.6 L335.5 111.6 L336.0 111.6 L336.5 111.6 L336.9 111.6 L337.4 111.6 L337.9 111.6 L338.4 111.6 L338.9 111.6 L339.4 111.6 L339.9 111.6 L340.4 111.6 L340.8 111.6 L341.3 111.6 L341.8 111.6 L342.3 111.6 L342.8 111.6 L343.3 111.6 L343.8 111.6 L344.2 111.6 L344.7 111.6 L345.2 111.6 L345.7 111.6 L346.2 111.6 L346.7 111.6 L347.2 111.6 L347.7 111.6 L348.1 111.6 L348.6 111.6 L349.1 111.6 L349.6 111.6" fill="none" stroke="#000" stroke-width="1.1" stroke-dasharray="2.2 1.6"/>
<path d="M262.5 111.6 L263.0 111.6 L263.5 111.6 L264.0 111.6 L264.4 111.6 L264.9 111.6 L265.4 111.6 L265.9 111.6 L266.4 111.6 L266.9 111.6 L267.4 111.6 L267.9 111.6 L268.3 111.6 L268.8 111.6 L269.3 111.6 L269.8 111.6 L270.3 111.6 L270.8 111.6 L271.3 111.6 L271.7 111.6 L272.2 111.6 L272.7 111.6 L273.2 111.6 L273.7 111.6 L274.2 111.6 L274.7 111.6 L275.2 111.6 L275.6 111.5 L276.1 111.5 L276.6 111.5 L277.1 111.4 L277.6 111.3 L278.1 111.2 L278.6 111.0 L279.0 110.7 L279.5 110.4 L280.0 109.9 L280.5 109.3 L281.0 108.6 L281.5 107.6 L282.0 106.4 L282.5 104.8 L282.9 103.0 L283.4 100.7 L283.9 98.2 L284.4 95.3 L284.9 91.8 L285.4 87.6 L285.9 83.2 L286.3 79.1 L286.8 73.1 L287.3 67.9 L287.8 62.1 L288.3 57.2 L288.8 51.8 L289.3 47.1 L289.7 40.4 L290.2 37.7 L290.7 33.2 L291.2 31.9 L291.7 29.7 L292.2 30.1 L292.7 29.5 L293.2 29.4 L293.6 32.4 L294.1 33.1 L294.6 36.3 L295.1 40.4 L295.6 43.7 L296.1 47.7 L296.6 51.8 L297.0 56.5 L297.5 61.2 L298.0 65.6 L298.5 70.3 L299.0 74.8 L299.5 78.6 L300.0 82.4 L300.5 86.6 L300.9 89.7 L301.4 92.9 L301.9 95.8 L302.4 98.1 L302.9 100.4 L303.4 102.2 L303.9 104.0 L304.3 105.3 L304.8 106.6 L305.3 107.6 L305.8 108.4 L306.3 109.1 L306.8 109.6 L307.3 110.1 L307.8 110.4 L308.2 110.7 L308.7 110.9 L309.2 111.1 L309.7 111.2 L310.2 111.3 L310.7 111.4 L311.2 111.5 L311.6 111.5 L312.1 111.5 L312.6 111.5 L313.1 111.6 L313.6 111.6 L314.1 111.6 L314.6 111.6 L315.1 111.6 L315.5 111.6 L316.0 111.6 L316.5 111.6 L317.0 111.6 L317.5 111.6 L318.0 111.6 L318.5 111.6 L318.9 111.6 L319.4 111.6 L319.9 111.6 L320.4 111.6 L320.9 111.6 L321.4 111.6 L321.9 111.6 L322.4 111.6 L322.8 111.6 L323.3 111.6 L323.8 111.6 L324.3 111.6 L324.8 111.6 L325.3 111.6 L325.8 111.6 L326.2 111.6 L326.7 111.6 L327.2 111.6 L327.7 111.6 L328.2 111.6 L328.7 111.6 L329.2 111.6 L329.6 111.6 L330.1 111.6 L330.6 111.6 L331.1 111.6 L331.6 111.6 L332.1 111.6 L332.6 111.6 L333.1 111.6 L333.5 111.6 L334.0 111.6 L334.5 111.6 L335.0 111.6 L335.5 111.6 L336.0 111.6 L336.5 111.6 L336.9 111.6 L337.4 111.6 L337.9 111.6 L338.4 111.6 L338.9 111.6 L339.4 111.6 L339.9 111.6 L340.4 111.6 L340.8 111.6 L341.3 111.6 L341.8 111.6 L342.3 111.6 L342.8 111.6 L343.3 111.6 L343.8 111.6 L344.2 111.6 L344.7 111.6 L345.2 111.6 L345.7 111.6 L346.2 111.6 L346.7 111.6 L347.2 111.6 L347.7 111.6 L348.1 111.6 L348.6 111.6 L349.1 111.6 L349.6 111.6" fill="none" stroke="#000" stroke-width="1.6"/>
<path d="M261.5 23.5H350.5V112.5" fill="none" stroke="#a8a8a8" stroke-width="1"/>
<path d="M261.5 23.5V112.5H350.5" fill="none" stroke="#8a8a8a" stroke-width="1"/>
<text x="258.5" y="28.7" font-size="3.4" text-anchor="end" fill="#888">100</text>
<text x="258.5" y="45.7" font-size="3.4" text-anchor="end" fill="#888">80</text>
<text x="258.5" y="62.7" font-size="3.4" text-anchor="end" fill="#888">60</text>
<text x="258.5" y="79.7" font-size="3.4" text-anchor="end" fill="#888">40</text>
<text x="258.5" y="96.7" font-size="3.4" text-anchor="end" fill="#888">20</text>
<text x="258.5" y="113.7" font-size="3.4" text-anchor="end" fill="#888">0</text>
<path d="M259.5 27.5h2M259.5 44.5h2M259.5 61.5h2M259.5 78.5h2M259.5 95.5h2M259.5 112.5h2M265.9 112.5v1M269.5 112.5v1M273.1 112.5v1M276.7 112.5v1M280.3 112.5v1M283.9 112.5v1M287.5 112.5v1M291.1 112.5v1M294.7 112.5v1M298.3 112.5v1M301.9 112.5v1M305.5 112.5v1M309.1 112.5v1M312.7 112.5v1M316.3 112.5v1M319.9 112.5v1M323.5 112.5v1M327.1 112.5v1M330.7 112.5v1M334.3 112.5v1M337.9 112.5v1M341.5 112.5v1M345.1 112.5v1M348.7 112.5v1M270.4 112.5v2M279.3 112.5v2M301.6 112.5v2M323.8 112.5v2M342.5 112.5v2" stroke="#8a8a8a" stroke-width="0.7" fill="none"/>
<text x="270.4" y="119.0" font-size="3.4" text-anchor="middle" fill="#888">0</text>
<text x="279.3" y="119.0" font-size="3.4" text-anchor="middle" fill="#888">10<tspan dy="-1.2" font-size="2.8">2</tspan></text>
<text x="301.6" y="119.0" font-size="3.4" text-anchor="middle" fill="#888">10<tspan dy="-1.2" font-size="2.8">3</tspan></text>
<text x="323.8" y="119.0" font-size="3.4" text-anchor="middle" fill="#888">10<tspan dy="-1.2" font-size="2.8">4</tspan></text>
<text x="342.5" y="119.0" font-size="3.4" text-anchor="middle" fill="#888">10<tspan dy="-1.2" font-size="2.8">5</tspan></text>
<line x1="301.2" y1="37" x2="305" y2="37" stroke="#000" stroke-width="1.5"/>
<line x1="312.7" y1="37" x2="316.5" y2="37" stroke="#000" stroke-width="1.5"/>
<line x1="301.2" y1="53" x2="321.2" y2="53" stroke="#000" stroke-width="1.5"/>
<text x="323.8" y="40.4" font-size="10" font-weight="bold" stroke="#000" stroke-width="0.25" text-anchor="start" fill="#000">118</text>
<text x="323.8" y="56.3" font-size="10" font-weight="bold" stroke="#000" stroke-width="0.25" text-anchor="start" fill="#000">189</text>
<path d="M363.5 111.6 L364.0 111.6 L364.5 111.6 L365.0 111.6 L365.5 111.6 L366.0 111.6 L366.4 111.6 L366.9 111.6 L367.4 111.6 L367.9 111.6 L368.4 111.6 L368.9 111.6 L369.4 111.6 L369.9 111.6 L370.4 111.6 L370.9 111.6 L371.4 111.6 L371.9 111.6 L372.3 111.6 L372.8 111.6 L373.3 111.6 L373.8 111.6 L374.3 111.6 L374.8 111.6 L375.3 111.6 L375.8 111.6 L376.3 111.5 L376.8 111.5 L377.3 111.5 L377.8 111.5 L378.2 111.4 L378.7 111.4 L379.2 111.3 L379.7 111.3 L380.2 111.2 L380.7 111.0 L381.2 110.9 L381.7 110.7 L382.2 110.5 L382.7 110.2 L383.2 109.9 L383.7 109.6 L384.1 109.1 L384.6 108.6 L385.1 108.0 L385.6 107.3 L386.1 106.3 L386.6 105.1 L387.1 103.6 L387.6 101.8 L388.1 99.4 L388.6 96.7 L389.1 93.0 L389.6 88.6 L390.0 83.5 L390.5 77.5 L391.0 71.2 L391.5 64.4 L392.0 56.9 L392.5 50.4 L393.0 44.2 L393.5 37.1 L394.0 33.0 L394.5 29.9 L395.0 30.1 L395.5 30.3 L395.9 33.7 L396.4 39.1 L396.9 46.5 L397.4 53.3 L397.9 60.9 L398.4 69.2 L398.9 77.1 L399.4 83.7 L399.9 89.4 L400.4 94.7 L400.9 98.3 L401.4 101.3 L401.8 103.7 L402.3 105.5 L402.8 106.9 L403.3 108.0 L403.8 108.8 L404.3 109.5 L404.8 110.0 L405.3 110.3 L405.8 110.6 L406.3 110.9 L406.8 111.1 L407.3 111.2 L407.7 111.3 L408.2 111.4 L408.7 111.4 L409.2 111.5 L409.7 111.5 L410.2 111.5 L410.7 111.6 L411.2 111.6 L411.7 111.6 L412.2 111.6 L412.7 111.6 L413.2 111.6 L413.6 111.6 L414.1 111.6 L414.6 111.6 L415.1 111.6 L415.6 111.6 L416.1 111.6 L416.6 111.6 L417.1 111.6 L417.6 111.6 L418.1 111.6 L418.6 111.6 L419.1 111.6 L419.5 111.6 L420.0 111.6 L420.5 111.6 L421.0 111.6 L421.5 111.6 L422.0 111.6 L422.5 111.6 L423.0 111.6 L423.5 111.6 L424.0 111.6 L424.5 111.6 L425.0 111.6 L425.4 111.6 L425.9 111.6 L426.4 111.6 L426.9 111.6 L427.4 111.6 L427.9 111.6 L428.4 111.6 L428.9 111.6 L429.4 111.6 L429.9 111.6 L430.4 111.6 L430.9 111.6 L431.3 111.6 L431.8 111.6 L432.3 111.6 L432.8 111.6 L433.3 111.6 L433.8 111.6 L434.3 111.6 L434.8 111.6 L435.3 111.6 L435.8 111.6 L436.3 111.6 L436.8 111.6 L437.2 111.6 L437.7 111.6 L438.2 111.6 L438.7 111.6 L439.2 111.6 L439.7 111.6 L440.2 111.6 L440.7 111.6 L441.2 111.6 L441.7 111.6 L442.2 111.6 L442.7 111.6 L443.1 111.6 L443.6 111.6 L444.1 111.6 L444.6 111.6 L445.1 111.6 L445.6 111.6 L446.1 111.6 L446.6 111.6 L447.1 111.6 L447.6 111.6 L448.1 111.6 L448.6 111.6 L449.0 111.6 L449.5 111.6 L450.0 111.6 L450.5 111.6 L451.0 111.6 L451.5 111.6L451.5 111.6L363.5 111.6Z" fill="#9a9a9a" stroke="#8a8a8a" stroke-width="0.6"/>
<path d="M363.5 111.6 L364.0 111.6 L364.5 111.6 L365.0 111.6 L365.5 111.6 L366.0 111.6 L366.4 111.6 L366.9 111.6 L367.4 111.6 L367.9 111.6 L368.4 111.6 L368.9 111.6 L369.4 111.6 L369.9 111.6 L370.4 111.6 L370.9 111.6 L371.4 111.6 L371.9 111.6 L372.3 111.6 L372.8 111.6 L373.3 111.6 L373.8 111.6 L374.3 111.6 L374.8 111.6 L375.3 111.6 L375.8 111.6 L376.3 111.6 L376.8 111.6 L377.3 111.6 L377.8 111.6 L378.2 111.6 L378.7 111.6 L379.2 111.6 L379.7 111.6 L380.2 111.6 L380.7 111.6 L381.2 111.6 L381.7 111.6 L382.2 111.6 L382.7 111.6 L383.2 111.5 L383.7 111.5 L384.1 111.5 L384.6 111.4 L385.1 111.3 L385.6 111.1 L386.1 110.9 L386.6 110.6 L387.1 110.1 L387.6 109.6 L388.1 108.7 L388.6 107.7 L389.1 106.3 L389.6 104.9 L390.0 102.7 L390.5 100.1 L391.0 96.9 L391.5 93.3 L392.0 88.9 L392.5 85.1 L393.0 79.2 L393.5 74.1 L394.0 68.4 L394.5 61.7 L395.0 56.6 L395.5 51.6 L395.9 44.9 L396.4 41.0 L396.9 36.1 L397.4 31.9 L397.9 29.8 L398.4 29.0 L398.9 29.5 L399.4 32.7 L399.9 35.2 L400.4 39.8 L400.9 45.4 L401.4 50.1 L401.8 57.2 L402.3 64.2 L402.8 68.8 L403.3 74.7 L403.8 79.5 L404.3 83.7 L404.8 86.9 L405.3 89.4 L405.8 90.6 L406.3 91.4 L406.8 91.2 L407.3 90.1 L407.7 88.9 L408.2 86.3 L408.7 83.8 L409.2 81.0 L409.7 79.3 L410.2 76.3 L410.7 75.8 L411.2 76.2 L411.7 77.3 L412.2 78.5 L412.7 81.0 L413.2 84.5 L413.6 87.9 L414.1 91.9 L414.6 95.3 L415.1 98.9 L415.6 101.8 L416.1 104.2 L416.6 106.2 L417.1 108.0 L417.6 109.1 L418.1 109.9 L418.6 110.5 L419.1 110.9 L419.5 111.2 L420.0 111.3 L420.5 111.4 L421.0 111.5 L421.5 111.5 L422.0 111.6 L422.5 111.6 L423.0 111.6 L423.5 111.6 L424.0 111.6 L424.5 111.6 L425.0 111.6 L425.4 111.6 L425.9 111.6 L426.4 111.6 L426.9 111.6 L427.4 111.6 L427.9 111.6 L428.4 111.6 L428.9 111.6 L429.4 111.6 L429.9 111.6 L430.4 111.6 L430.9 111.6 L431.3 111.6 L431.8 111.6 L432.3 111.6 L432.8 111.6 L433.3 111.6 L433.8 111.6 L434.3 111.6 L434.8 111.6 L435.3 111.6 L435.8 111.6 L436.3 111.6 L436.8 111.6 L437.2 111.6 L437.7 111.6 L438.2 111.6 L438.7 111.6 L439.2 111.6 L439.7 111.6 L440.2 111.6 L440.7 111.6 L441.2 111.6 L441.7 111.6 L442.2 111.6 L442.7 111.6 L443.1 111.6 L443.6 111.6 L444.1 111.6 L444.6 111.6 L445.1 111.6 L445.6 111.6 L446.1 111.6 L446.6 111.6 L447.1 111.6 L447.6 111.6 L448.1 111.6 L448.6 111.6 L449.0 111.6 L449.5 111.6 L450.0 111.6 L450.5 111.6 L451.0 111.6 L451.5 111.6" fill="none" stroke="#000" stroke-width="1" stroke-dasharray="1.3 1.1"/>
<path d="M363.5 111.6 L364.0 111.6 L364.5 111.6 L365.0 111.6 L365.5 111.6 L366.0 111.6 L366.4 111.6 L366.9 111.6 L367.4 111.6 L367.9 111.6 L368.4 111.6 L368.9 111.6 L369.4 111.6 L369.9 111.6 L370.4 111.6 L370.9 111.6 L371.4 111.6 L371.9 111.6 L372.3 111.6 L372.8 111.6 L373.3 111.6 L373.8 111.6 L374.3 111.6 L374.8 111.6 L375.3 111.6 L375.8 111.6 L376.3 111.6 L376.8 111.6 L377.3 111.5 L377.8 111.5 L378.2 111.5 L378.7 111.5 L379.2 111.4 L379.7 111.4 L380.2 111.4 L380.7 111.3 L381.2 111.2 L381.7 111.1 L382.2 111.0 L382.7 110.9 L383.2 110.8 L383.7 110.6 L384.1 110.4 L384.6 110.2 L385.1 110.0 L385.6 109.8 L386.1 109.5 L386.6 109.2 L387.1 108.9 L387.6 108.7 L388.1 108.3 L388.6 107.9 L389.1 107.6 L389.6 107.2 L390.0 106.8 L390.5 106.4 L391.0 105.9 L391.5 105.7 L392.0 105.1 L392.5 104.8 L393.0 104.0 L393.5 103.5 L394.0 103.2 L394.5 102.4 L395.0 101.3 L395.5 100.3 L395.9 99.1 L396.4 98.0 L396.9 96.4 L397.4 94.8 L397.9 93.2 L398.4 91.1 L398.9 89.9 L399.4 87.1 L399.9 85.6 L400.4 82.9 L400.9 81.4 L401.4 79.8 L401.8 77.7 L402.3 76.8 L402.8 75.7 L403.3 75.2 L403.8 74.0 L404.3 73.5 L404.8 73.9 L405.3 76.2 L405.8 78.2 L406.3 81.1 L406.8 82.6 L407.3 82.3 L407.7 79.8 L408.2 75.6 L408.7 68.7 L409.2 60.1 L409.7 50.6 L410.2 42.6 L410.7 33.6 L411.2 30.5 L411.7 29.0 L412.2 31.8 L412.7 35.4 L413.2 42.3 L413.6 51.4 L414.1 59.2 L414.6 69.6 L415.1 77.9 L415.6 86.2 L416.1 93.3 L416.6 98.6 L417.1 102.7 L417.6 105.7 L418.1 107.9 L418.6 109.3 L419.1 110.3 L419.5 110.8 L420.0 111.2 L420.5 111.4 L421.0 111.5 L421.5 111.5 L422.0 111.6 L422.5 111.6 L423.0 111.6 L423.5 111.6 L424.0 111.6 L424.5 111.6 L425.0 111.6 L425.4 111.6 L425.9 111.6 L426.4 111.6 L426.9 111.6 L427.4 111.6 L427.9 111.6 L428.4 111.6 L428.9 111.6 L429.4 111.6 L429.9 111.6 L430.4 111.6 L430.9 111.6 L431.3 111.6 L431.8 111.6 L432.3 111.6 L432.8 111.6 L433.3 111.6 L433.8 111.6 L434.3 111.6 L434.8 111.6 L435.3 111.6 L435.8 111.6 L436.3 111.6 L436.8 111.6 L437.2 111.6 L437.7 111.6 L438.2 111.6 L438.7 111.6 L439.2 111.6 L439.7 111.6 L440.2 111.6 L440.7 111.6 L441.2 111.6 L441.7 111.6 L442.2 111.6 L442.7 111.6 L443.1 111.6 L443.6 111.6 L444.1 111.6 L444.6 111.6 L445.1 111.6 L445.6 111.6 L446.1 111.6 L446.6 111.6 L447.1 111.6 L447.6 111.6 L448.1 111.6 L448.6 111.6 L449.0 111.6 L449.5 111.6 L450.0 111.6 L450.5 111.6 L451.0 111.6 L451.5 111.6" fill="none" stroke="#000" stroke-width="1.6"/>
<path d="M362.5 23.5H452.5V112.5" fill="none" stroke="#a8a8a8" stroke-width="1"/>
<path d="M362.5 23.5V112.5H452.5" fill="none" stroke="#8a8a8a" stroke-width="1"/>
<text x="359.5" y="28.7" font-size="3.4" text-anchor="end" fill="#888">100</text>
<text x="359.5" y="45.7" font-size="3.4" text-anchor="end" fill="#888">80</text>
<text x="359.5" y="62.7" font-size="3.4" text-anchor="end" fill="#888">60</text>
<text x="359.5" y="79.7" font-size="3.4" text-anchor="end" fill="#888">40</text>
<text x="359.5" y="96.7" font-size="3.4" text-anchor="end" fill="#888">20</text>
<text x="359.5" y="113.7" font-size="3.4" text-anchor="end" fill="#888">0</text>
<path d="M360.5 27.5h2M360.5 44.5h2M360.5 61.5h2M360.5 78.5h2M360.5 95.5h2M360.5 112.5h2M367.0 112.5v1M370.6 112.5v1M374.3 112.5v1M377.9 112.5v1M381.6 112.5v1M385.2 112.5v1M388.8 112.5v1M392.5 112.5v1M396.1 112.5v1M399.8 112.5v1M403.4 112.5v1M407.0 112.5v1M410.7 112.5v1M414.3 112.5v1M417.9 112.5v1M421.6 112.5v1M425.2 112.5v1M428.9 112.5v1M432.5 112.5v1M436.1 112.5v1M439.8 112.5v1M443.4 112.5v1M447.1 112.5v1M450.7 112.5v1M371.5 112.5v2M380.5 112.5v2M403.0 112.5v2M425.5 112.5v2M444.4 112.5v2" stroke="#8a8a8a" stroke-width="0.7" fill="none"/>
<text x="371.5" y="119.0" font-size="3.4" text-anchor="middle" fill="#888">0</text>
<text x="380.5" y="119.0" font-size="3.4" text-anchor="middle" fill="#888">10<tspan dy="-1.2" font-size="2.8">2</tspan></text>
<text x="403.0" y="119.0" font-size="3.4" text-anchor="middle" fill="#888">10<tspan dy="-1.2" font-size="2.8">3</tspan></text>
<text x="425.5" y="119.0" font-size="3.4" text-anchor="middle" fill="#888">10<tspan dy="-1.2" font-size="2.8">4</tspan></text>
<text x="444.4" y="119.0" font-size="3.4" text-anchor="middle" fill="#888">10<tspan dy="-1.2" font-size="2.8">5</tspan></text>
<line x1="416.6" y1="38" x2="419.7" y2="38" stroke="#000" stroke-width="1.5"/>
<line x1="427.7" y1="38" x2="429.2" y2="38" stroke="#000" stroke-width="1.5"/>
<line x1="416.2" y1="51" x2="428.9" y2="51" stroke="#000" stroke-width="1.5"/>
<text x="432" y="41" font-size="10" font-weight="bold" stroke="#000" stroke-width="0.25" text-anchor="start" fill="#000">425</text>
<text x="429.5" y="55.9" font-size="10" font-weight="bold" stroke="#000" stroke-width="0.25" text-anchor="start" fill="#000">1118</text>
<rect x="460.5" y="30.5" width="20.7" height="4.7" fill="#8c8c8c" stroke="none" stroke-width="1"/>
<text x="489.5" y="35.9" font-size="10" font-weight="bold" stroke="#000" stroke-width="0.25" text-anchor="start" fill="#000">IgG</text>
<line x1="460.5" y1="53.4" x2="464.1" y2="53.4" stroke="#000" stroke-width="1.5"/>
<line x1="471.5" y1="53.4" x2="475.6" y2="53.4" stroke="#000" stroke-width="1.5"/>
<text x="488" y="55.4" font-size="9.5" font-weight="bold" stroke="#000" stroke-width="0.25" text-anchor="start" fill="#000">ER<tspan font-family="Liberation Serif, serif" font-weight="normal" stroke-width="0.3" font-size="11.5">α</tspan><tspan dy="-2.2" dx="0.6" font-size="7.6" font-weight="normal" font-style="italic" stroke="none" fill="#333">−/−</tspan></text>
<line x1="460.5" y1="69.9" x2="479.6" y2="69.9" stroke="#000" stroke-width="1.5"/>
<text x="490" y="72.2" font-size="9.7" font-weight="bold" stroke="#000" stroke-width="0.25" text-anchor="start" fill="#000">WT</text>
<text x="296.8" y="162" font-size="12" font-weight="bold" stroke="#000" stroke-width="0.25" text-anchor="start" fill="#000">D</text>
<line x1="352.8" y1="163" x2="352.8" y2="250.3" stroke="#444" stroke-width="1.2"/>
<line x1="352.2" y1="249.8" x2="399.5" y2="249.8" stroke="#444" stroke-width="1.2"/>
<line x1="350.5" y1="249.8" x2="352.8" y2="249.8" stroke="#444" stroke-width="1"/>
<text x="349.6" y="252.8" font-size="8.3" font-weight="bold" stroke="#000" stroke-width="0.25" text-anchor="end" fill="#000">0</text>
<line x1="350.5" y1="221.0" x2="352.8" y2="221.0" stroke="#444" stroke-width="1"/>
<text x="349.6" y="224.0" font-size="8.3" font-weight="bold" stroke="#000" stroke-width="0.25" text-anchor="end" fill="#000">1</text>
<line x1="350.5" y1="192.20000000000002" x2="352.8" y2="192.20000000000002" stroke="#444" stroke-width="1"/>
<text x="349.6" y="195.20000000000002" font-size="8.3" font-weight="bold" stroke="#000" stroke-width="0.25" text-anchor="end" fill="#000">2</text>
<line x1="350.5" y1="163.4" x2="352.8" y2="163.4" stroke="#444" stroke-width="1"/>
<text x="349.6" y="166.4" font-size="8.3" font-weight="bold" stroke="#000" stroke-width="0.25" text-anchor="end" fill="#000">3</text>
<rect x="356.3" y="185.2" width="16.8" height="64.60000000000002" fill="#000" stroke="none" stroke-width="1"/>
<rect x="380" y="189.6" width="16.3" height="60.20000000000002" fill="#000" stroke="none" stroke-width="1"/>
<line x1="364.6" y1="175.2" x2="364.6" y2="186" stroke="#000" stroke-width="1.2"/>
<line x1="360.4" y1="175.2" x2="368.8" y2="175.2" stroke="#000" stroke-width="1.2"/>
<line x1="388.1" y1="176.6" x2="388.1" y2="190" stroke="#000" stroke-width="1.2"/>
<line x1="384" y1="176.6" x2="392.3" y2="176.6" stroke="#000" stroke-width="1.2"/>
<line x1="364.6" y1="249.8" x2="364.6" y2="252.8" stroke="#333" stroke-width="1"/>
<line x1="388.1" y1="249.8" x2="388.1" y2="252.8" stroke="#333" stroke-width="1"/>
<line x1="353" y1="221.0" x2="400.4" y2="221.0" stroke="#666" stroke-width="0.6" stroke-dasharray="1 1"/>
<text x="342.2" y="265" font-size="8.5" font-weight="bold" stroke="#000" stroke-width="0.25" text-anchor="start" fill="#000">CD11c<tspan dy="-2.8" font-size="6">-</tspan></text>
<text x="378.4" y="265" font-size="8.5" font-weight="bold" stroke="#000" stroke-width="0.25" text-anchor="start" fill="#000">CD11c<tspan dy="-3" dx="0.6" font-size="7">+</tspan></text>
<text x="323.4" y="254.5" font-size="8.3" font-weight="bold" stroke="#000" stroke-width="0.25" text-anchor="start" fill="#000" transform="rotate(-90 323.4 254.5)" textLength="84" lengthAdjust="spacingAndGlyphs">IRF4 (Fold change in</text>
<text x="334.2" y="254.5" font-size="8.3" font-weight="bold" stroke="#000" stroke-width="0.25" text-anchor="start" fill="#000" transform="rotate(-90 334.2 254.5)" textLength="91.6" lengthAdjust="spacingAndGlyphs">expression due to ER<tspan font-family="Liberation Serif, serif" font-weight="normal" font-size="9.5">α</tspan>)</text>
<text x="1.4" y="301.3" font-size="12" font-weight="bold" stroke="#000" stroke-width="0.25" text-anchor="start" fill="#000">E</text>
<g transform="translate(24,366.5)" fill="none" stroke-width="1" shape-rendering="crispEdges" filter="url(#bl)">
<path stroke="#c6c6c6" d="M39 0h1M57 2h1M53 3h2M55 5h1M53 6h1M57 6h1M69 6h1M43 7h1M49 7h1M52 8h1M47 9h1M49 9h1M44 10h1M46 11h1M28 12h1M45 12h1M31 13h1M38 13h1M44 13h1M85 13h1M38 14h1M44 15h1M13 18h1M39 18h1M9 19h1M14 19h1M76 19h1M8 21h2M32 21h1M1 22h1M19 22h2M3 23h1M6 23h1M10 23h1M13 23h2M18 23h1M26 23h2M29 23h1M31 23h1M2 24h3M10 24h2M15 24h2M18 24h1M22 24h1M26 24h4M34 24h1M1 25h3M10 25h1M15 25h1M18 25h2M22 25h1M24 25h1M30 25h2M34 25h1M86 25h1M1 26h1M4 26h1M6 26h1M10 26h4M16 26h1M18 26h2M23 26h1M25 26h1M27 26h1M29 26h1M32 26h2M1 27h3M10 27h1M12 27h2M17 27h1M30 27h1M72 27h1M80 27h1M3 28h1M9 28h1M11 28h1M13 28h2M18 28h3M22 28h3M29 28h1M31 28h2M70 28h1M3 29h2M9 29h1M12 29h1M15 29h1M20 29h3M24 29h1M31 29h2M56 29h1M63 29h1M1 30h4M6 30h1M8 30h5M15 30h3M20 30h1M22 30h1M29 30h1M31 30h3M87 30h1M2 31h1M4 31h3M8 31h1M13 31h1M15 31h3M20 31h1M23 31h1M33 31h2M45 31h1M60 31h1M75 31h1M0 32h1M4 32h1M6 32h1M12 32h2M15 32h1M18 32h1M20 32h1M24 32h1M26 32h1M31 32h1M34 32h1M63 32h1M2 33h1M5 33h1M13 33h2M16 33h1M18 33h1M20 33h4M28 33h1M31 33h1M44 33h1M1 34h2M4 34h4M9 34h1M12 34h1M16 34h1M18 34h1M20 34h2M24 34h2M28 34h1M71 34h1M0 35h4M5 35h1M7 35h1M13 35h1M17 35h1M21 35h1M24 35h1M27 35h1M29 35h2M32 35h1M39 35h1M53 35h1M6 36h3M11 36h1M15 36h1M21 36h1M26 36h2M29 36h1M34 36h1M6 37h3M11 37h2M16 37h2M22 37h1M29 37h3M38 37h1M71 37h1M79 37h2M0 38h1M9 38h1M13 38h1M19 38h11M32 38h1M34 38h1M65 38h1M67 38h1M86 38h1M8 39h1M11 39h1M17 39h1M19 39h1M24 39h1M27 39h1M34 39h2M38 39h1M66 39h1M4 40h1M8 40h2M19 40h1M25 40h1M28 40h1M33 40h2M52 40h1M70 40h2M5 41h1M21 41h2M28 41h2M32 41h1M34 41h1M42 41h1M60 41h1M81 41h1M2 42h1M13 42h1M22 42h1M24 42h1M26 42h2M30 42h1M32 42h1M34 42h1M50 42h1M80 42h1M20 43h1M27 43h1M29 43h1M33 43h1M37 43h1M39 43h1M45 43h1M59 43h1M0 44h1M27 44h1M29 44h1M31 44h1M34 44h1M85 44h1M0 45h1M26 45h1M28 45h1M32 45h1M41 45h1M68 45h1M23 46h1M25 46h4M30 46h3M34 46h2M56 46h1M67 46h1M22 47h1M25 47h1M30 47h1M33 47h4M62 47h1M0 48h1M27 48h1M29 48h1M31 48h1M33 48h2M39 48h1M54 48h1M0 49h1M23 49h1M28 49h1M30 49h2M34 49h2M62 49h1M66 49h1M69 49h1M23 50h1M25 50h1M28 50h1M31 50h1M63 50h1M65 50h2M27 51h1M32 51h2M42 51h1M46 51h1M63 51h1M27 52h3M32 52h1M52 52h1M58 52h1M66 52h1M27 53h1M29 53h1M31 53h2M34 53h1M37 53h1M41 53h1M63 53h1M65 53h1M23 54h1M30 54h1M32 54h1M34 54h1M45 54h1M50 54h3M54 54h3M58 54h1M66 54h1M69 54h1M25 55h1M27 55h1M32 55h1M35 55h1M37 55h1M52 55h1M56 55h1M59 55h1M64 55h1M66 55h4M72 55h1M74 55h2M25 56h1M27 56h1M29 56h1M31 56h1M49 56h1M55 56h1M59 56h1M63 56h2M70 56h2M0 57h1M24 57h1M26 57h2M31 57h4M40 57h1M42 57h1M44 57h2M47 57h1M52 57h1M54 57h1M58 57h1M63 57h2M69 57h4M76 57h1M88 57h1M27 58h1M29 58h4M36 58h1M38 58h2M41 58h2M44 58h1M46 58h2M50 58h3M55 58h1M59 58h1M62 58h1M64 58h1M66 58h1M69 58h1M71 58h1M74 58h1M80 58h1M27 59h1M29 59h2M32 59h1M38 59h1M41 59h1M45 59h1M48 59h1M50 59h1M52 59h1M54 59h1M63 59h1M67 59h3M71 59h2M76 59h2M0 60h1M24 60h1M27 60h1M30 60h1M32 60h1M34 60h1M38 60h1M40 60h2M45 60h1M47 60h1M49 60h1M51 60h4M59 60h1M69 60h1M72 60h1M75 60h1M78 60h1M24 61h11M42 61h1M44 61h2M47 61h2M51 61h2M63 61h2M67 61h2M70 61h4M76 61h1M22 62h1M27 62h1M37 62h1M39 62h2M43 62h4M65 62h1M68 62h1M71 62h1M77 62h1M80 62h1M24 63h1M27 63h1M30 63h2M33 63h3M39 63h4M45 63h1M47 63h1M70 63h1M75 63h2M78 63h1M19 64h1M22 64h3M28 64h1M30 64h1M32 64h1M36 64h1M40 64h1M43 64h2M48 64h2M3 65h1M16 65h2M20 65h3M24 65h1M29 65h1M34 65h1M39 65h1M44 65h1M47 65h1M66 65h1M72 65h3M0 66h1M9 66h1M14 66h1M25 66h1M29 66h3M39 66h2M42 66h1M73 66h1M79 66h1M5 67h1M7 67h2M14 67h1M16 67h1M20 67h1M22 67h3M31 67h1M35 67h1M38 67h1M41 67h1M66 67h1M72 67h1M76 67h2M0 68h1M2 68h1M5 68h1M15 68h1M18 68h3M23 68h5M29 68h1M33 68h1M36 68h1M43 68h1M69 68h1M72 68h4M2 69h1M11 69h1M13 69h1M16 69h1M19 69h1M21 69h1M28 69h1M30 69h1M35 69h1M37 69h2M40 69h1M71 69h1M73 69h3M80 69h1M87 69h1M4 70h1M6 70h1M12 70h1M17 70h2M21 70h2M24 70h2M30 70h2M34 70h1M40 70h1M72 70h1M75 70h2M13 71h1M18 71h3M23 71h1M31 71h1M33 71h3M40 71h1M70 71h1M72 71h2M75 71h1M77 71h2M88 71h1M1 72h1M3 72h1M7 72h2M16 72h2M19 72h1M23 72h1M26 72h2M33 72h1M35 72h1M37 72h1M39 72h1M66 72h1M73 72h1M0 73h1M2 73h2M14 73h2M22 73h4M27 73h1M31 73h1M33 73h1M35 73h1M37 73h1M68 73h1M72 73h1M76 73h1M80 73h2M2 74h1M9 74h1M15 74h1M20 74h1M23 74h6M32 74h1M36 74h3M65 74h1M71 74h2M76 74h2M3 75h1M6 75h1M8 75h1M13 75h2M17 75h1M19 75h2M25 75h2M28 75h1M31 75h1M33 75h1M35 75h1M37 75h1M71 75h1M3 76h1M15 76h1M22 76h2M32 76h2M36 76h2M66 76h1M69 76h1M72 76h3M11 77h5M19 77h3M23 77h2M28 77h1M30 77h3M66 77h3M73 77h1M77 77h1M1 78h1M3 78h1M8 78h1M13 78h3M19 78h1M21 78h2M26 78h4M31 78h1M33 78h1M65 78h1M67 78h2M72 78h1M2 79h3M10 79h1M14 79h1M17 79h1M21 79h1M23 79h1M25 79h1M27 79h2M31 79h3M37 79h1M67 79h2M75 79h2M8 80h1M14 80h1M16 80h1M18 80h3M23 80h2M26 80h2M29 80h1M36 80h1M62 80h1M66 80h1M74 80h1M77 80h1M1 81h2M7 81h1M10 81h5M17 81h1M23 81h2M26 81h2M29 81h2M66 81h2M70 81h1M72 81h1M76 81h1M3 82h2M7 82h2M12 82h1M15 82h2M21 82h1M28 82h1M34 82h1M64 82h1M68 82h1M70 82h3M75 82h1M0 83h3M5 83h3M9 83h1M12 83h1M20 83h1M22 83h2M25 83h2M31 83h1M60 83h3M65 83h3M69 83h2M73 83h2M0 84h1M3 84h3M7 84h1M10 84h2M15 84h2M18 84h1M20 84h4M28 84h1M30 84h1M32 84h1M40 84h1M61 84h2M65 84h3M69 84h1M73 84h2M1 85h2M5 85h1M7 85h5M14 85h1M16 85h1M19 85h2M23 85h6M65 85h2M69 85h2M74 85h1M2 86h3M11 86h2M15 86h2M18 86h2M26 86h2M57 86h1M60 86h1M63 86h1M67 86h2M70 86h2M76 86h1"/>
<path stroke="#888" d="M43 11h1M1 23h1M4 23h2M20 23h2M25 23h1M32 23h1M6 24h1M9 24h1M14 24h1M17 24h1M30 24h1M7 25h1M25 25h2M29 25h1M8 26h2M15 26h1M17 26h1M21 26h1M34 26h1M7 27h1M14 27h3M4 28h1M6 28h1M8 28h1M16 28h1M34 28h1M1 29h2M5 29h1M7 29h2M10 29h1M25 29h1M29 29h1M33 29h2M5 30h1M14 30h1M18 30h1M21 30h1M24 30h2M1 31h1M3 31h1M11 31h1M19 31h1M22 31h1M29 31h1M32 31h1M1 32h3M5 32h1M11 32h1M17 32h1M19 32h1M22 32h1M4 33h1M6 33h4M11 33h2M15 33h1M17 33h1M19 33h1M25 33h1M8 34h1M10 34h2M13 34h1M17 34h1M19 34h1M34 34h1M4 35h1M6 35h1M8 35h1M11 35h1M14 35h1M18 35h1M22 35h1M25 35h2M28 35h1M1 36h2M4 36h2M9 36h2M12 36h1M14 36h1M25 36h1M30 36h1M1 37h4M9 37h1M14 37h2M18 37h1M21 37h1M24 37h1M26 37h1M5 38h4M11 38h1M16 38h1M18 38h1M1 39h1M3 39h2M7 39h1M12 39h1M14 39h1M18 39h1M21 39h2M30 39h1M32 39h1M1 40h1M3 40h1M5 40h2M14 40h1M18 40h1M20 40h1M22 40h1M26 40h1M30 40h2M2 41h1M13 41h1M17 41h2M23 41h1M27 41h1M3 42h1M8 42h1M16 42h1M19 42h1M21 42h1M23 42h1M28 42h1M31 42h1M33 42h1M5 43h1M17 43h1M21 43h1M26 43h1M28 43h1M30 43h2M21 44h1M24 44h3M28 44h1M30 44h1M2 45h1M19 45h1M24 45h1M31 45h1M33 45h1M20 46h3M0 47h1M6 47h1M23 47h2M28 47h1M24 48h3M28 48h1M22 49h1M25 49h2M29 49h1M32 49h2M0 50h1M22 50h1M27 50h1M0 51h1M19 51h2M24 51h2M0 52h1M23 52h3M64 52h1M67 52h1M87 52h1M0 53h1M22 53h1M25 53h1M64 53h1M0 54h1M21 54h2M24 54h2M27 54h1M59 54h1M0 55h1M26 55h1M23 56h1M56 56h1M62 56h1M75 56h1M18 57h1M21 57h1M25 57h1M51 57h1M53 57h1M55 57h2M59 57h1M62 57h1M65 57h2M68 57h1M0 58h1M20 58h1M22 58h1M48 58h1M53 58h1M56 58h2M60 58h2M63 58h1M0 59h1M23 59h1M25 59h2M37 59h1M39 59h1M53 59h1M56 59h2M65 59h1M70 59h1M29 60h1M43 60h1M46 60h1M48 60h1M50 60h1M65 60h1M67 60h2M73 60h1M4 61h1M20 61h2M35 61h1M38 61h1M53 61h3M57 61h2M61 61h1M65 61h2M74 61h1M0 62h1M2 62h1M17 62h3M21 62h1M23 62h1M25 62h2M31 62h2M41 62h1M47 62h2M55 62h2M63 62h2M66 62h1M69 62h1M75 62h1M0 63h1M4 63h1M8 63h1M11 63h1M21 63h2M25 63h1M36 63h2M43 63h2M46 63h1M53 63h1M58 63h1M63 63h1M69 63h1M71 63h1M74 63h1M0 64h2M4 64h1M15 64h1M17 64h1M21 64h1M31 64h1M34 64h1M39 64h1M45 64h3M53 64h1M65 64h1M69 64h1M72 64h1M74 64h1M76 64h1M0 65h2M6 65h1M19 65h1M25 65h4M33 65h1M40 65h1M42 65h1M46 65h1M50 65h2M64 65h2M67 65h2M70 65h1M75 65h1M3 66h1M8 66h1M12 66h1M19 66h2M24 66h1M37 66h1M43 66h1M46 66h2M68 66h2M72 66h1M82 66h1M1 67h2M4 67h1M9 67h2M12 67h1M15 67h1M21 67h1M25 67h1M28 67h1M30 67h1M36 67h1M39 67h1M43 67h1M47 67h1M67 67h1M73 67h2M1 68h1M4 68h1M6 68h1M8 68h4M13 68h2M17 68h1M21 68h2M31 68h1M35 68h1M40 68h3M71 68h1M78 68h1M3 69h2M6 69h1M8 69h3M12 69h1M14 69h2M17 69h1M22 69h1M24 69h1M27 69h1M39 69h1M42 69h2M66 69h4M1 70h2M8 70h1M10 70h2M13 70h3M20 70h1M29 70h1M33 70h1M39 70h1M41 70h1M68 70h1M70 70h1M74 70h1M0 71h1M2 71h1M4 71h2M7 71h5M14 71h2M24 71h3M32 71h1M36 71h1M38 71h2M64 71h1M71 71h1M74 71h1M4 72h3M10 72h5M18 72h1M20 72h1M29 72h1M36 72h1M40 72h2M69 72h4M4 73h5M10 73h1M17 73h2M26 73h1M32 73h1M38 73h1M70 73h1M73 73h1M3 74h3M7 74h1M11 74h1M14 74h1M16 74h1M22 74h1M29 74h1M68 74h1M74 74h1M9 75h2M12 75h1M16 75h1M18 75h1M21 75h1M23 75h1M30 75h1M36 75h1M68 75h1M9 76h6M16 76h1M21 76h1M24 76h2M27 76h1M31 76h1M68 76h1M71 76h1M1 77h4M6 77h2M10 77h1M17 77h1M22 77h1M25 77h1M27 77h1M36 77h1M38 77h1M64 77h2M70 77h1M75 77h1M4 78h2M10 78h3M17 78h2M20 78h1M25 78h1M30 78h1M32 78h1M35 78h2M63 78h1M71 78h1M5 79h1M7 79h1M9 79h1M11 79h1M15 79h2M18 79h1M62 79h1M65 79h2M70 79h1M1 80h6M11 80h1M13 80h1M15 80h1M31 80h2M35 80h1M60 80h1M67 80h3M3 81h1M9 81h1M15 81h1M19 81h2M28 81h1M32 81h3M38 81h1M58 81h1M2 82h1M6 82h1M9 82h1M17 82h1M30 82h2M35 82h2M61 82h1M63 82h1M65 82h2M3 83h2M8 83h1M11 83h1M15 83h1M19 83h1M29 83h1M35 83h1M37 83h1M58 83h1M63 83h1M68 83h1M2 84h1M8 84h1M14 84h1M25 84h1M29 84h1M33 84h2M58 84h1M64 84h1M3 85h2M6 85h1M12 85h1M22 85h1M29 85h1M31 85h2M35 85h1M59 85h4M64 85h1M67 85h2M73 85h1M8 86h1M10 86h1M30 86h27M58 86h2M61 86h2"/>
<path stroke="#4a4a4a" d="M1 24h1M6 27h1M20 27h1M32 27h1M13 29h1M9 31h1M16 32h1M3 33h1M10 33h1M15 34h1M9 35h2M12 35h1M15 35h1M16 36h1M19 36h1M5 37h1M10 37h1M20 37h1M2 38h1M12 38h1M30 38h1M2 39h1M6 39h1M9 39h2M13 39h1M15 39h2M20 39h1M23 39h1M7 40h1M10 40h2M13 40h1M16 40h2M27 40h1M1 41h1M3 41h1M10 41h1M12 41h1M14 41h2M19 41h2M24 41h3M1 42h1M4 42h3M12 42h1M15 42h1M17 42h2M2 43h2M7 43h1M11 43h2M16 43h1M18 43h1M22 43h2M5 44h3M13 44h2M18 44h1M20 44h1M1 45h1M4 45h1M8 45h1M10 45h1M17 45h2M22 45h1M25 45h1M5 46h2M8 46h1M19 46h1M24 46h1M15 47h1M21 47h1M26 47h1M16 48h1M18 48h1M22 48h2M30 48h1M20 49h1M24 49h1M3 50h1M24 50h1M26 50h1M21 51h3M29 51h1M1 52h1M19 52h1M33 52h1M15 53h1M20 53h1M24 53h1M26 53h1M4 54h1M18 54h1M26 54h1M29 54h1M18 55h1M20 55h1M22 55h2M34 55h1M19 56h4M24 56h1M28 56h1M61 56h1M3 57h1M20 57h1M23 57h1M60 57h1M2 58h1M19 58h1M23 58h2M8 59h1M15 59h1M19 59h4M58 59h3M62 59h1M66 59h1M2 60h1M13 60h1M18 60h1M21 60h3M25 60h1M57 60h1M60 60h5M1 61h1M3 61h1M7 61h2M11 61h1M14 61h1M18 61h1M23 61h1M46 61h1M50 61h1M56 61h1M59 61h2M62 61h1M4 62h1M6 62h1M15 62h1M20 62h1M49 62h1M51 62h3M58 62h2M62 62h1M67 62h1M70 62h1M72 62h1M2 63h1M5 63h1M7 63h1M12 63h2M16 63h4M48 63h5M54 63h1M57 63h1M59 63h1M61 63h2M65 63h2M68 63h1M72 63h1M3 64h1M8 64h2M12 64h1M18 64h1M20 64h1M25 64h1M27 64h1M58 64h1M60 64h1M62 64h1M64 64h1M66 64h1M68 64h1M4 65h2M8 65h3M13 65h3M18 65h1M45 65h1M48 65h2M61 65h1M69 65h1M76 65h1M2 66h1M4 66h4M11 66h1M13 66h1M16 66h3M22 66h1M44 66h2M48 66h1M50 66h1M62 66h1M67 66h1M70 66h2M3 67h1M6 67h1M11 67h1M13 67h1M19 67h1M44 67h2M61 67h5M70 67h2M12 68h1M39 68h1M44 68h1M47 68h1M50 68h1M59 68h1M65 68h4M76 68h1M1 69h1M7 69h1M18 69h1M41 69h1M46 69h1M63 69h1M65 69h1M3 70h1M5 70h1M7 70h1M19 70h1M44 70h1M50 70h1M62 70h1M65 70h1M1 71h1M3 71h1M17 71h1M42 71h1M58 71h1M61 71h1M63 71h1M68 71h1M2 72h1M9 72h1M32 72h1M38 72h1M45 72h1M63 72h2M11 73h3M16 73h1M36 73h1M41 73h1M63 73h2M66 73h2M1 74h1M6 74h1M10 74h1M13 74h1M34 74h2M42 74h1M59 74h2M63 74h2M66 74h1M73 74h1M1 75h2M5 75h1M11 75h1M38 75h1M40 75h2M62 75h1M65 75h1M67 75h1M2 76h1M4 76h3M8 76h1M20 76h1M34 76h2M38 76h2M42 76h1M67 76h1M70 76h1M8 77h2M18 77h1M33 77h3M39 77h1M69 77h1M2 78h1M6 78h2M24 78h1M34 78h1M39 78h1M42 78h1M54 78h1M64 78h1M1 79h1M6 79h1M12 79h2M40 79h1M59 79h1M61 79h1M63 79h1M7 80h1M9 80h1M12 80h1M33 80h1M38 80h1M63 80h1M65 80h1M5 81h1M8 81h1M35 81h2M40 81h1M61 81h3M65 81h1M68 81h1M11 82h1M23 82h1M29 82h1M33 82h1M37 82h2M43 82h2M53 82h1M57 82h1M60 82h1M62 82h1M10 83h1M30 83h1M34 83h1M36 83h1M39 83h1M59 83h1M35 84h4M51 84h1M54 84h1M56 84h2M59 84h2M13 85h1M30 85h1M33 85h2M40 85h1M50 85h1M56 85h2"/>
<path stroke="#121212" d="M13 25h1M3 36h1M13 37h1M3 38h1M10 38h1M14 38h1M17 38h1M5 39h1M2 40h1M12 40h1M15 40h1M4 41h1M6 41h4M11 41h1M16 41h1M7 42h1M9 42h3M20 42h1M1 43h1M4 43h1M6 43h1M8 43h3M13 43h3M19 43h1M1 44h4M8 44h5M15 44h3M3 45h1M5 45h3M9 45h1M11 45h6M20 45h2M1 46h4M7 46h1M9 46h10M1 47h5M7 47h8M16 47h5M1 48h15M17 48h1M19 48h3M1 49h19M21 49h1M1 50h2M4 50h18M1 51h18M26 51h1M2 52h17M20 52h3M26 52h1M1 53h14M16 53h4M21 53h1M23 53h1M1 54h3M5 54h13M19 54h2M1 55h17M19 55h1M21 55h1M24 55h1M1 56h18M26 56h1M1 57h2M4 57h14M19 57h1M22 57h1M1 58h1M3 58h16M21 58h1M26 58h1M58 58h1M1 59h7M9 59h6M16 59h3M55 59h1M64 59h1M1 60h1M3 60h10M14 60h4M19 60h2M55 60h2M58 60h1M66 60h1M2 61h1M5 61h2M9 61h2M12 61h2M15 61h3M19 61h1M22 61h1M1 62h1M3 62h1M5 62h1M7 62h8M16 62h1M50 62h1M54 62h1M57 62h1M60 62h2M74 62h1M1 63h1M3 63h1M6 63h1M9 63h2M14 63h2M20 63h1M55 63h2M60 63h1M64 63h1M67 63h1M2 64h1M5 64h3M10 64h2M13 64h2M16 64h1M50 64h3M54 64h4M59 64h1M61 64h1M63 64h1M67 64h1M71 64h1M2 65h1M7 65h1M11 65h2M52 65h9M62 65h2M1 66h1M10 66h1M15 66h1M49 66h1M51 66h11M63 66h4M17 67h1M46 67h1M48 67h13M68 67h1M7 68h1M45 68h2M48 68h2M51 68h8M60 68h5M44 69h2M47 69h16M64 69h1M42 70h2M45 70h5M51 70h11M63 70h2M66 70h2M69 70h1M12 71h1M41 71h1M43 71h15M59 71h2M62 71h1M65 71h3M69 71h1M42 72h3M46 72h17M65 72h1M67 72h1M1 73h1M39 73h2M42 73h21M65 73h1M8 74h1M12 74h1M39 74h3M43 74h16M61 74h2M67 74h1M4 75h1M7 75h1M34 75h1M39 75h1M42 75h20M63 75h2M66 75h1M1 76h1M40 76h2M43 76h23M5 77h1M37 77h1M40 77h24M9 78h1M37 78h2M40 78h2M43 78h11M55 78h8M69 78h1M35 79h2M38 79h2M41 79h18M60 79h1M64 79h1M10 80h1M37 80h1M39 80h21M61 80h1M64 80h1M6 81h1M37 81h1M39 81h1M41 81h17M59 81h2M64 81h1M39 82h4M45 82h8M54 82h3M58 82h2M38 83h1M40 83h18M39 84h1M41 84h10M52 84h2M55 84h1M36 85h4M41 85h9M51 85h5M58 85h1"/>
</g>
<path d="M24.5 365.5H113.5V453.5" fill="none" stroke="#a8a8a8" stroke-width="1"/>
<path d="M24.5 365.5V453.5H113.5" fill="none" stroke="#8a8a8a" stroke-width="1"/>
<path d="M22.5 372.5h2M105.5 453.5v2M22.5 392.4h2M85.0 453.5v2M22.5 413.7h2M64.4 453.5v2M22.5 434.6h2M43.2 453.5v2M22.5 443.6h2M33.4 453.5v2M23.5 376.1h1M35.2 453.5v1M23.5 379.7h1M38.8 453.5v1M23.5 383.3h1M42.5 453.5v1M23.5 386.9h1M46.1 453.5v1M23.5 390.5h1M49.8 453.5v1M23.5 394.1h1M53.4 453.5v1M23.5 397.7h1M57.0 453.5v1M23.5 401.3h1M60.7 453.5v1M23.5 404.9h1M64.3 453.5v1M23.5 408.5h1M68.0 453.5v1M23.5 412.1h1M71.6 453.5v1M23.5 415.7h1M75.3 453.5v1M23.5 419.3h1M78.9 453.5v1M23.5 422.9h1M82.6 453.5v1M23.5 426.5h1M86.2 453.5v1M23.5 430.1h1M89.9 453.5v1M23.5 433.7h1M93.5 453.5v1M23.5 437.3h1M97.1 453.5v1M23.5 440.9h1M100.8 453.5v1M23.5 444.5h1M104.4 453.5v1M23.5 448.1h1M108.1 453.5v1M23.5 451.7h1M111.7 453.5v1" stroke="#8a8a8a" stroke-width="0.7" fill="none"/>
<text x="22.0" y="373.8" font-size="4" text-anchor="end" fill="#7a7a7a" transform="rotate(-10 22.0 373.8)">10<tspan dy="-1.2" font-size="2.8">5</tspan></text>
<text x="22.0" y="393.7" font-size="4" text-anchor="end" fill="#7a7a7a" transform="rotate(-10 22.0 393.7)">10<tspan dy="-1.2" font-size="2.8">4</tspan></text>
<text x="22.0" y="415.0" font-size="4" text-anchor="end" fill="#7a7a7a" transform="rotate(-10 22.0 415.0)">10<tspan dy="-1.2" font-size="2.8">3</tspan></text>
<text x="22.0" y="435.9" font-size="4" text-anchor="end" fill="#7a7a7a" transform="rotate(-10 22.0 435.9)">10<tspan dy="-1.2" font-size="2.8">2</tspan></text>
<text x="22.0" y="444.9" font-size="4" text-anchor="end" fill="#7a7a7a" transform="rotate(-10 22.0 444.9)">0</text>
<text x="106.3" y="460.5" font-size="4" text-anchor="middle" fill="#7a7a7a" transform="rotate(-10 106.3 460.5)">10<tspan dy="-1.2" font-size="2.8">5</tspan></text>
<text x="85.8" y="460.5" font-size="4" text-anchor="middle" fill="#7a7a7a" transform="rotate(-10 85.8 460.5)">10<tspan dy="-1.2" font-size="2.8">4</tspan></text>
<text x="65.2" y="460.5" font-size="4" text-anchor="middle" fill="#7a7a7a" transform="rotate(-10 65.2 460.5)">10<tspan dy="-1.2" font-size="2.8">3</tspan></text>
<text x="44.0" y="460.5" font-size="4" text-anchor="middle" fill="#7a7a7a" transform="rotate(-10 44.0 460.5)">10<tspan dy="-1.2" font-size="2.8">2</tspan></text>
<text x="34.2" y="460.5" font-size="4" text-anchor="middle" fill="#7a7a7a" transform="rotate(-10 34.2 460.5)">0</text>
<rect x="24.5" y="387.5" width="35.0" height="45.0" fill="none" stroke="#909090" stroke-width="1"/>
<rect x="59.5" y="421.5" width="42.0" height="31.0" fill="none" stroke="#909090" stroke-width="1"/>
<text x="11" y="411.5" font-size="9.6" font-weight="bold" stroke="#000" stroke-width="0.25" text-anchor="middle" fill="#000" transform="rotate(-90 11 411.5)" textLength="76.5" lengthAdjust="spacingAndGlyphs">CD45.2 (ER<tspan font-family="Liberation Serif, serif" font-weight="normal" stroke-width="0.3" font-size="11.5">α</tspan><tspan dy="-3" font-size="8" font-weight="normal" font-style="italic" stroke-width="0.1">−/−</tspan><tspan dy="3">)</tspan></text>
<text x="38.8" y="470.2" font-size="10" font-weight="bold" stroke="#000" stroke-width="0.25" text-anchor="start" fill="#000" textLength="59" lengthAdjust="spacingAndGlyphs">CD45.1 (WT)</text>
<line x1="68" y1="389.8" x2="108" y2="363.4" stroke="#444" stroke-width="0.8"/>
<polygon points="116.9,356.9 109.1,367.2 108.6,362.5 104.5,360.3" fill="#000"/>
<line x1="106.5" y1="440.4" x2="115.5" y2="444.1" stroke="#444" stroke-width="0.8"/>
<polygon points="124.6,448.1 112.5,447.2 116.0,444.4 115.6,440.1" fill="#000"/>
<g transform="translate(140,293.5)" fill="none" stroke-width="1" shape-rendering="crispEdges" filter="url(#bl)">
<path stroke="#c6c6c6" d="M26 25h1M70 25h1M74 25h1M1 26h1M5 26h1M7 26h2M16 26h1M21 26h2M29 26h1M32 26h1M34 26h1M37 26h1M42 26h1M44 26h1M50 26h1M53 26h1M55 26h1M57 26h1M62 26h1M65 26h1M67 26h1M70 26h1M74 26h1M78 26h1M80 26h2M4 27h2M10 27h1M12 27h1M14 27h1M16 27h4M22 27h1M35 27h1M39 27h1M41 27h1M43 27h1M45 27h1M52 27h1M54 27h1M57 27h1M60 27h1M66 27h1M70 27h1M75 27h2M0 28h1M9 28h3M17 28h1M19 28h1M21 28h1M28 28h1M30 28h1M33 28h1M38 28h1M42 28h1M46 28h1M52 28h1M57 28h2M64 28h1M66 28h4M71 28h2M74 28h1M76 28h1M82 28h1M0 29h1M11 29h1M18 29h1M21 29h3M25 29h3M31 29h1M35 29h1M37 29h3M42 29h1M47 29h2M51 29h1M54 29h3M60 29h1M65 29h1M75 29h1M0 30h1M19 30h3M23 30h1M25 30h1M27 30h1M29 30h2M33 30h2M36 30h2M40 30h1M43 30h2M47 30h1M53 30h3M71 30h1M73 30h2M77 30h5M0 31h1M18 31h1M26 31h4M31 31h6M38 31h1M43 31h3M47 31h1M49 31h1M52 31h1M58 31h3M66 31h1M69 31h1M74 31h1M78 31h1M0 32h1M18 32h1M34 32h1M37 32h1M39 32h1M43 32h1M48 32h1M52 32h2M55 32h2M58 32h3M71 32h1M74 32h1M76 32h1M78 32h1M24 33h1M33 33h1M40 33h1M42 33h1M46 33h1M53 33h1M59 33h1M63 33h1M65 33h1M67 33h1M70 33h4M75 33h2M35 34h1M37 34h1M41 34h1M43 34h1M49 34h1M54 34h1M57 34h1M73 34h2M31 35h1M35 35h3M39 35h1M43 35h1M45 35h1M49 35h1M51 35h1M54 35h1M67 35h4M72 35h2M77 35h2M33 36h2M39 36h2M46 36h1M50 36h1M61 36h1M65 36h1M68 36h5M86 36h1M37 37h1M39 37h1M41 37h1M52 37h1M58 37h1M60 37h1M63 37h2M69 37h1M72 37h3M76 37h1M81 37h1M0 38h1M23 38h1M28 38h1M31 38h1M38 38h1M46 38h1M55 38h1M59 38h1M63 38h4M69 38h2M72 38h4M78 38h1M80 38h1M0 39h1M23 39h3M30 39h2M33 39h2M36 39h2M39 39h1M41 39h2M44 39h1M46 39h1M49 39h1M52 39h3M59 39h3M63 39h1M68 39h2M71 39h1M73 39h1M77 39h1M79 39h1M24 40h1M27 40h1M30 40h1M33 40h1M42 40h1M44 40h2M49 40h1M55 40h1M59 40h1M62 40h2M66 40h1M68 40h1M73 40h2M81 40h2M23 41h1M27 41h1M29 41h1M32 41h2M35 41h1M41 41h2M46 41h3M55 41h2M60 41h1M62 41h1M69 41h2M72 41h2M80 41h1M21 42h2M25 42h2M29 42h1M31 42h1M33 42h1M35 42h2M39 42h1M43 42h3M47 42h1M49 42h1M51 42h2M54 42h2M57 42h2M61 42h1M66 42h1M72 42h4M78 42h1M0 43h1M24 43h4M29 43h1M31 43h2M34 43h3M38 43h4M43 43h1M46 43h1M48 43h1M50 43h2M53 43h1M55 43h1M64 43h1M67 43h1M71 43h1M74 43h1M77 43h2M0 44h1M21 44h2M26 44h1M28 44h2M32 44h1M35 44h3M43 44h1M45 44h1M49 44h1M51 44h1M53 44h1M55 44h1M59 44h1M63 44h1M65 44h1M67 44h2M70 44h1M72 44h2M75 44h2M81 44h2M23 45h3M29 45h2M34 45h1M36 45h4M41 45h1M43 45h2M47 45h2M51 45h1M53 45h2M59 45h1M63 45h1M66 45h1M71 45h2M74 45h1M79 45h2M0 46h1M23 46h1M27 46h3M31 46h1M33 46h2M36 46h1M40 46h2M46 46h1M51 46h2M54 46h1M56 46h2M59 46h1M64 46h1M71 46h2M79 46h1M81 46h1M85 46h1M22 47h1M25 47h2M32 47h1M34 47h3M39 47h2M42 47h1M44 47h1M48 47h1M53 47h1M58 47h1M62 47h1M69 47h1M73 47h1M75 47h1M77 47h1M81 47h1M21 48h1M24 48h1M27 48h1M37 48h1M39 48h1M41 48h2M47 48h1M49 48h5M56 48h2M60 48h2M63 48h1M65 48h1M68 48h1M75 48h1M79 48h2M21 49h1M24 49h2M28 49h1M37 49h1M42 49h2M45 49h1M52 49h1M56 49h2M60 49h2M66 49h1M68 49h2M76 49h1M78 49h2M82 49h1M5 50h1M27 50h1M30 50h1M39 50h2M43 50h1M46 50h1M49 50h1M51 50h2M54 50h3M59 50h1M61 50h1M64 50h1M67 50h1M69 50h1M77 50h2M80 50h1M82 50h1M21 51h5M27 51h1M36 51h1M38 51h1M42 51h1M48 51h2M53 51h4M59 51h4M64 51h1M67 51h1M69 51h1M73 51h1M79 51h2M86 51h1M2 52h2M21 52h1M23 52h1M29 52h1M32 52h1M35 52h1M37 52h6M44 52h2M50 52h3M57 52h1M60 52h1M62 52h3M66 52h1M72 52h3M77 52h1M80 52h3M1 53h3M23 53h3M27 53h1M32 53h1M41 53h1M44 53h1M50 53h3M59 53h1M61 53h1M63 53h1M67 53h1M70 53h1M75 53h2M78 53h1M82 53h1M1 54h2M5 54h1M22 54h1M27 54h1M30 54h2M35 54h2M44 54h1M46 54h1M48 54h1M50 54h1M53 54h1M55 54h1M58 54h1M60 54h5M66 54h1M70 54h1M72 54h1M74 54h3M79 54h1M2 55h1M5 55h1M19 55h1M22 55h5M31 55h1M34 55h2M37 55h1M39 55h1M42 55h1M48 55h2M52 55h1M54 55h2M60 55h2M63 55h1M65 55h5M72 55h4M77 55h1M85 55h1M1 56h1M22 56h1M24 56h2M34 56h1M37 56h1M44 56h2M47 56h2M52 56h8M61 56h3M66 56h1M71 56h1M75 56h1M77 56h2M82 56h2M1 57h3M5 57h1M20 57h2M23 57h1M29 57h1M40 57h1M43 57h3M49 57h2M52 57h1M54 57h6M61 57h1M63 57h2M67 57h1M70 57h2M74 57h1M77 57h1M79 57h1M0 58h1M3 58h2M18 58h1M21 58h2M24 58h1M27 58h1M29 58h1M37 58h1M42 58h1M49 58h2M53 58h1M55 58h4M61 58h4M67 58h4M74 58h2M81 58h1M19 59h1M32 59h1M35 59h1M42 59h1M47 59h2M50 59h1M53 59h1M58 59h2M62 59h1M65 59h1M74 59h3M79 59h2M1 60h1M5 60h1M21 60h1M27 60h1M30 60h1M43 60h1M45 60h1M49 60h1M52 60h2M55 60h2M58 60h1M60 60h1M62 60h1M72 60h1M78 60h1M2 61h2M20 61h1M22 61h1M25 61h1M27 61h1M40 61h1M44 61h1M48 61h1M51 61h1M59 61h4M66 61h2M69 61h1M72 61h1M74 61h1M79 61h1M4 62h3M18 62h1M34 62h1M38 62h1M44 62h4M49 62h1M51 62h1M54 62h1M57 62h1M59 62h1M63 62h1M66 62h1M68 62h1M70 62h1M77 62h1M1 63h2M9 63h1M17 63h1M20 63h1M33 63h4M40 63h1M43 63h1M47 63h1M56 63h2M65 63h1M67 63h2M70 63h1M73 63h1M1 64h1M3 64h1M10 64h1M13 64h2M19 64h1M21 64h1M25 64h1M29 64h2M32 64h1M36 64h1M38 64h3M43 64h2M46 64h1M50 64h3M55 64h1M59 64h1M61 64h1M72 64h1M75 64h1M78 64h1M82 64h1M6 65h2M9 65h1M19 65h2M28 65h2M31 65h1M34 65h1M40 65h1M42 65h1M44 65h1M49 65h4M55 65h2M59 65h2M64 65h1M68 65h2M75 65h1M78 65h1M8 66h2M15 66h5M21 66h1M25 66h1M33 66h1M40 66h1M49 66h1M52 66h1M58 66h2M64 66h1M67 66h1M76 66h2M79 66h1M5 67h1M9 67h1M22 67h1M31 67h1M36 67h2M39 67h1M45 67h1M50 67h1M57 67h1M60 67h3M64 67h1M74 67h2M1 68h1M6 68h1M11 68h1M15 68h1M18 68h1M25 68h1M28 68h1M32 68h2M38 68h1M42 68h2M50 68h2M58 68h1M60 68h1M63 68h1M68 68h1M70 68h1M76 68h1M4 69h3M10 69h1M15 69h1M17 69h2M27 69h1M35 69h1M38 69h1M45 69h1M62 69h2M73 69h1M75 69h1M78 69h2M81 69h2M1 70h1M5 70h3M9 70h1M11 70h1M16 70h1M18 70h2M25 70h1M30 70h3M38 70h1M40 70h1M47 70h1M50 70h1M52 70h1M60 70h1M64 70h2M70 70h1M73 70h1M75 70h2M79 70h1M81 70h2M6 71h1M10 71h1M14 71h1M18 71h1M29 71h1M31 71h1M35 71h1M45 71h1M67 71h1M74 71h2M7 72h2M10 72h2M15 72h3M27 72h2M41 72h1M49 72h1M66 72h1M86 72h1M6 73h1M14 73h1M16 73h1M36 73h1M47 73h1M55 73h1M60 73h1M63 73h2M86 73h1M6 74h2M9 74h2M21 74h1M48 74h1M56 74h1M78 74h1M85 74h1M7 75h1M9 75h1M11 75h1M30 75h1M45 75h1M59 75h2M63 75h1M77 75h1M9 76h1M14 76h2M17 76h1M22 76h1M34 76h1M40 76h1M57 76h1M60 76h1M84 76h1M6 77h2M10 77h2M13 77h2M29 77h1M39 77h2M8 78h1M10 78h1M13 78h2M28 78h1M73 78h1M9 79h1M29 79h1M33 79h1M66 79h1M9 80h1M12 80h1M17 80h1M37 80h1M49 80h1M61 80h1M75 80h1M79 80h1M8 81h1M36 81h2M51 81h1M55 81h1M77 81h1M5 82h1M20 82h1M25 82h1M66 82h1M25 83h1M48 83h1M2 84h1M13 84h1M18 84h1M44 84h2M1 85h1M46 85h1M50 85h1M58 85h1M61 85h1M22 86h1M24 86h1M27 86h1M50 86h1M65 86h1M3 87h1M27 87h1M36 87h1"/>
<path stroke="#888" d="M49 26h1M71 26h1M1 27h3M6 27h1M8 27h1M11 27h1M23 27h1M63 27h2M68 27h1M71 27h1M73 27h1M4 28h5M13 28h3M36 28h1M44 28h1M53 28h1M55 28h1M61 28h2M65 28h1M75 28h1M6 29h1M13 29h5M19 29h2M41 29h1M43 29h1M53 29h1M57 29h1M59 29h1M61 29h2M66 29h1M69 29h1M72 29h3M81 29h1M7 30h2M13 30h1M17 30h1M22 30h1M24 30h1M31 30h1M38 30h1M41 30h1M46 30h1M48 30h3M52 30h1M56 30h1M58 30h2M63 30h4M68 30h3M72 30h1M5 31h1M13 31h1M16 31h1M22 31h3M39 31h1M46 31h1M48 31h1M51 31h1M53 31h2M63 31h2M67 31h1M72 31h2M75 31h1M4 32h1M23 32h1M26 32h4M32 32h1M35 32h1M44 32h1M47 32h1M50 32h1M61 32h3M67 32h1M70 32h1M72 32h2M0 33h1M21 33h1M25 33h1M27 33h1M30 33h1M36 33h1M49 33h2M52 33h1M54 33h2M58 33h1M61 33h2M64 33h1M69 33h1M82 33h1M0 34h1M21 34h3M25 34h1M33 34h2M36 34h1M38 34h3M42 34h1M44 34h3M52 34h1M58 34h1M65 34h1M67 34h3M71 34h1M75 34h1M0 35h1M21 35h1M29 35h1M32 35h1M38 35h1M40 35h2M47 35h1M52 35h1M55 35h1M57 35h1M60 35h1M62 35h3M66 35h1M71 35h1M80 35h1M0 36h1M22 36h1M27 36h2M30 36h1M35 36h1M38 36h1M42 36h2M45 36h1M47 36h1M54 36h3M58 36h3M62 36h1M66 36h2M0 37h1M21 37h2M32 37h1M34 37h1M40 37h1M43 37h3M47 37h2M53 37h2M56 37h1M59 37h1M62 37h1M70 37h1M22 38h1M24 38h2M29 38h1M33 38h2M36 38h2M40 38h1M42 38h1M44 38h1M49 38h1M52 38h1M56 38h1M58 38h1M61 38h2M68 38h1M82 38h1M19 39h2M22 39h1M26 39h1M28 39h2M32 39h1M43 39h1M45 39h1M47 39h1M51 39h1M55 39h1M66 39h2M74 39h1M80 39h1M0 40h1M23 40h1M26 40h1M32 40h1M35 40h1M37 40h1M40 40h2M50 40h1M53 40h2M58 40h1M61 40h1M64 40h2M67 40h1M70 40h1M75 40h1M0 41h1M21 41h2M25 41h1M28 41h1M30 41h2M37 41h1M39 41h2M44 41h2M49 41h5M57 41h1M64 41h1M67 41h2M71 41h1M76 41h2M18 42h1M20 42h1M32 42h1M42 42h1M48 42h1M50 42h1M56 42h1M67 42h3M1 43h1M17 43h1M19 43h1M22 43h1M42 43h1M47 43h1M49 43h1M52 43h1M54 43h1M56 43h1M61 43h3M65 43h1M68 43h1M73 43h1M76 43h1M23 44h1M30 44h1M39 44h1M44 44h1M47 44h2M50 44h1M54 44h1M58 44h1M60 44h3M64 44h1M69 44h1M71 44h1M87 44h1M1 45h1M20 45h1M40 45h1M42 45h1M45 45h2M50 45h1M52 45h1M56 45h1M58 45h1M60 45h2M64 45h1M67 45h4M78 45h1M81 45h1M20 46h1M22 46h1M25 46h1M43 46h1M45 46h1M47 46h3M53 46h1M62 46h1M1 47h1M4 47h1M19 47h3M24 47h1M43 47h1M45 47h1M51 47h2M54 47h2M59 47h3M63 47h3M71 47h1M20 48h1M22 48h1M54 48h2M58 48h1M62 48h1M77 48h1M22 49h2M36 49h1M50 49h2M53 49h3M59 49h1M63 49h1M67 49h1M70 49h1M77 49h1M1 50h1M24 50h1M48 50h1M50 50h1M53 50h1M58 50h1M60 50h1M62 50h2M65 50h1M70 50h1M74 50h1M17 51h1M19 51h2M40 51h1M43 51h1M46 51h2M50 51h1M57 51h2M65 51h2M68 51h1M71 51h1M1 52h1M4 52h1M22 52h1M33 52h1M36 52h1M47 52h1M49 52h1M54 52h1M56 52h1M5 53h1M20 53h1M39 53h1M45 53h1M49 53h1M53 53h3M57 53h1M60 53h1M64 53h1M66 53h1M3 54h2M20 54h1M29 54h1M43 54h1M49 54h1M52 54h1M59 54h1M68 54h1M71 54h1M82 54h1M1 55h1M6 55h1M17 55h1M21 55h1M43 55h1M47 55h1M50 55h1M57 55h3M78 55h1M19 56h1M27 56h1M51 56h1M64 56h2M70 56h1M4 57h1M17 57h1M47 57h1M53 57h1M60 57h1M62 57h1M65 57h1M8 58h1M17 58h1M20 58h1M28 58h1M31 58h1M40 58h1M51 58h1M65 58h1M6 59h1M17 59h1M20 59h1M51 59h1M3 60h1M8 60h1M14 60h1M17 60h2M20 60h1M51 60h1M57 60h1M63 60h1M65 60h1M1 61h1M5 61h1M8 61h3M18 61h1M55 61h1M65 61h1M73 61h1M7 62h1M15 62h1M19 62h1M53 62h1M61 62h1M7 63h2M19 63h1M21 63h1M48 63h1M55 63h1M58 63h1M64 63h1M66 63h1M74 63h1M5 64h4M11 64h1M18 64h1M57 64h2M64 64h1M68 64h1M4 65h1M12 65h1M14 65h1M17 65h2M53 65h1M65 65h1M4 66h1M14 66h1M20 66h1M54 66h1M74 66h1M6 67h1M8 67h1M10 67h1M12 67h2M17 67h1M19 67h1M21 67h1M59 67h1M7 68h4M12 68h1M44 68h1M7 69h1M12 69h1M16 69h1M46 69h1M53 69h1M55 69h1M8 70h1M14 70h2M48 70h1M9 71h1M15 71h2M9 72h1M12 72h1M8 73h1M10 73h1M12 73h1M15 73h1M13 74h5M6 75h1M10 75h1M12 75h3M17 75h1M10 76h2M13 76h1M8 77h1M9 78h1M11 78h1M35 78h1M10 79h1"/>
<path stroke="#4a4a4a" d="M65 27h1M67 27h1M69 27h1M1 28h3M12 28h1M47 28h1M59 28h1M70 28h1M1 29h5M7 29h4M64 29h1M67 29h1M70 29h2M1 30h2M9 30h1M11 30h2M14 30h2M18 30h1M32 30h1M51 30h1M62 30h1M1 31h2M4 31h1M7 31h4M12 31h1M17 31h1M19 31h3M30 31h1M55 31h1M65 31h1M70 31h2M13 32h5M19 32h2M22 32h1M24 32h1M31 32h1M38 32h1M42 32h1M46 32h1M49 32h1M57 32h1M64 32h2M68 32h2M2 33h3M6 33h1M12 33h3M17 33h4M22 33h2M26 33h1M28 33h2M31 33h2M34 33h2M37 33h1M39 33h1M41 33h1M44 33h1M47 33h2M51 33h1M56 33h2M66 33h1M68 33h1M2 34h1M4 34h2M17 34h1M24 34h1M26 34h6M50 34h2M53 34h1M55 34h2M59 34h2M62 34h1M64 34h1M66 34h1M70 34h1M13 35h1M17 35h1M22 35h1M24 35h3M28 35h1M30 35h1M33 35h2M42 35h1M44 35h1M48 35h1M50 35h1M53 35h1M59 35h1M61 35h1M3 36h1M12 36h1M25 36h1M29 36h1M36 36h2M44 36h1M48 36h1M51 36h2M63 36h2M18 37h2M24 37h1M28 37h3M33 37h1M36 37h1M38 37h1M50 37h1M55 37h1M57 37h1M65 37h3M71 37h1M2 38h1M16 38h2M21 38h1M26 38h2M30 38h1M35 38h1M43 38h1M45 38h1M48 38h1M51 38h1M54 38h1M57 38h1M6 39h2M21 39h1M35 39h1M40 39h1M48 39h1M50 39h1M56 39h3M16 40h1M18 40h1M22 40h1M25 40h1M28 40h2M39 40h1M43 40h1M46 40h2M51 40h1M60 40h1M3 41h1M12 41h1M15 41h1M18 41h1M20 41h1M24 41h1M43 41h1M58 41h2M61 41h1M63 41h1M65 41h2M1 42h1M3 42h2M16 42h1M19 42h1M23 42h1M38 42h1M53 42h1M60 42h1M63 42h1M71 42h1M3 43h2M21 43h1M23 43h1M58 43h2M66 43h1M5 44h1M18 44h1M20 44h1M42 44h1M56 44h2M66 44h1M2 45h2M5 45h1M19 45h1M21 45h1M55 45h1M57 45h1M1 46h2M4 46h1M6 46h1M16 46h2M21 46h1M37 46h1M42 46h1M60 46h2M66 46h1M2 47h2M67 47h2M74 47h1M1 48h2M4 48h1M6 48h1M17 48h1M23 48h1M74 48h1M1 49h2M4 49h1M19 49h1M27 49h1M2 50h1M6 50h1M17 50h1M20 50h1M47 50h1M57 50h1M1 51h4M6 51h1M11 51h1M52 51h1M5 52h2M19 52h2M58 52h2M65 52h1M4 53h1M9 53h1M18 53h2M21 53h2M46 53h1M6 54h2M13 54h1M16 54h2M19 54h1M51 54h1M54 54h1M65 54h1M3 55h1M7 55h1M9 55h2M16 55h1M18 55h1M20 55h1M64 55h1M4 56h2M7 56h1M14 56h1M18 56h1M20 56h2M6 57h2M13 57h1M16 57h1M18 57h2M5 58h3M14 58h3M52 58h1M5 59h1M7 59h2M11 59h1M13 59h1M15 59h1M18 59h1M81 59h1M6 60h2M9 60h2M12 60h1M15 60h1M19 60h1M6 61h1M11 61h1M14 61h4M8 62h3M14 62h1M16 62h2M6 63h1M13 63h4M24 63h1M9 64h1M12 64h1M15 64h2M10 65h2M15 65h1M7 66h1M10 66h1M11 67h1M14 67h1M16 67h1M14 68h1M8 69h2M11 69h1M13 70h1M17 70h1M11 71h3M13 72h1M9 73h1M11 73h1M13 73h1M11 74h2M12 76h1M12 78h1"/>
<path stroke="#121212" d="M23 28h1M12 29h1M68 29h1M3 30h4M10 30h1M16 30h1M57 30h1M67 30h1M3 31h1M6 31h1M11 31h1M14 31h2M57 31h1M68 31h1M1 32h3M5 32h8M25 32h1M30 32h1M1 33h1M5 33h1M7 33h5M15 33h2M1 34h1M3 34h1M6 34h11M18 34h3M32 34h1M47 34h2M61 34h1M63 34h1M1 35h12M14 35h3M18 35h3M23 35h1M27 35h1M58 35h1M1 36h2M4 36h8M13 36h9M23 36h2M26 36h1M31 36h2M49 36h1M53 36h1M57 36h1M1 37h17M20 37h1M23 37h1M25 37h3M31 37h1M35 37h1M42 37h1M49 37h1M51 37h1M1 38h1M3 38h13M18 38h3M50 38h1M53 38h1M1 39h5M8 39h11M27 39h1M62 39h1M64 39h1M1 40h15M17 40h1M19 40h3M31 40h1M52 40h1M56 40h2M1 41h2M4 41h8M13 41h2M16 41h2M19 41h1M2 42h1M5 42h11M17 42h1M62 42h1M65 42h1M2 43h1M5 43h12M18 43h1M20 43h1M60 43h1M1 44h4M6 44h12M4 45h1M6 45h13M3 46h1M5 46h1M7 46h9M18 46h2M5 47h14M57 47h1M3 48h1M5 48h1M7 48h10M18 48h2M3 49h1M5 49h14M20 49h1M3 50h2M7 50h10M18 50h2M5 51h1M7 51h4M12 51h5M18 51h1M7 52h12M6 53h3M10 53h8M8 54h5M14 54h2M18 54h1M21 54h1M57 54h1M4 55h1M8 55h1M11 55h5M6 56h1M8 56h6M15 56h3M8 57h5M14 57h2M9 58h5M2 59h1M9 59h2M12 59h1M14 59h1M16 59h1M11 60h1M13 60h1M16 60h1M7 61h1M12 61h2M11 62h3M10 63h3M13 65h1M16 65h1M11 66h3M7 67h1M15 67h1M10 70h1M12 70h1M12 77h1"/>
</g>
<path d="M139.5 292.5H228.5V381.5" fill="none" stroke="#a8a8a8" stroke-width="1"/>
<path d="M139.5 292.5V381.5H228.5" fill="none" stroke="#8a8a8a" stroke-width="1"/>
<path d="M137.5 299.6h2M220.5 381.5v2M137.5 319.7h2M200.0 381.5v2M137.5 341.3h2M179.4 381.5v2M137.5 362.4h2M158.2 381.5v2M137.5 371.4h2M148.4 381.5v2M138.5 303.2h1M150.2 381.5v1M138.5 306.8h1M153.8 381.5v1M138.5 310.5h1M157.5 381.5v1M138.5 314.1h1M161.1 381.5v1M138.5 317.8h1M164.8 381.5v1M138.5 321.4h1M168.4 381.5v1M138.5 325.0h1M172.0 381.5v1M138.5 328.7h1M175.7 381.5v1M138.5 332.3h1M179.3 381.5v1M138.5 336.0h1M183.0 381.5v1M138.5 339.6h1M186.6 381.5v1M138.5 343.3h1M190.3 381.5v1M138.5 346.9h1M193.9 381.5v1M138.5 350.6h1M197.6 381.5v1M138.5 354.2h1M201.2 381.5v1M138.5 357.9h1M204.9 381.5v1M138.5 361.5h1M208.5 381.5v1M138.5 365.1h1M212.1 381.5v1M138.5 368.8h1M215.8 381.5v1M138.5 372.4h1M219.4 381.5v1M138.5 376.1h1M223.1 381.5v1M138.5 379.7h1M226.7 381.5v1" stroke="#8a8a8a" stroke-width="0.7" fill="none"/>
<text x="137.0" y="300.9" font-size="4" text-anchor="end" fill="#7a7a7a" transform="rotate(-10 137.0 300.9)">10<tspan dy="-1.2" font-size="2.8">5</tspan></text>
<text x="137.0" y="321.0" font-size="4" text-anchor="end" fill="#7a7a7a" transform="rotate(-10 137.0 321.0)">10<tspan dy="-1.2" font-size="2.8">4</tspan></text>
<text x="137.0" y="342.6" font-size="4" text-anchor="end" fill="#7a7a7a" transform="rotate(-10 137.0 342.6)">10<tspan dy="-1.2" font-size="2.8">3</tspan></text>
<text x="137.0" y="363.7" font-size="4" text-anchor="end" fill="#7a7a7a" transform="rotate(-10 137.0 363.7)">10<tspan dy="-1.2" font-size="2.8">2</tspan></text>
<text x="137.0" y="372.7" font-size="4" text-anchor="end" fill="#7a7a7a" transform="rotate(-10 137.0 372.7)">0</text>
<text x="221.3" y="388.5" font-size="4" text-anchor="middle" fill="#7a7a7a" transform="rotate(-10 221.3 388.5)">10<tspan dy="-1.2" font-size="2.8">5</tspan></text>
<text x="200.8" y="388.5" font-size="4" text-anchor="middle" fill="#7a7a7a" transform="rotate(-10 200.8 388.5)">10<tspan dy="-1.2" font-size="2.8">4</tspan></text>
<text x="180.2" y="388.5" font-size="4" text-anchor="middle" fill="#7a7a7a" transform="rotate(-10 180.2 388.5)">10<tspan dy="-1.2" font-size="2.8">3</tspan></text>
<text x="159.0" y="388.5" font-size="4" text-anchor="middle" fill="#7a7a7a" transform="rotate(-10 159.0 388.5)">10<tspan dy="-1.2" font-size="2.8">2</tspan></text>
<text x="149.2" y="388.5" font-size="4" text-anchor="middle" fill="#7a7a7a" transform="rotate(-10 149.2 388.5)">0</text>
<rect x="139.5" y="316.5" width="36.0" height="47.0" fill="none" stroke="#909090" stroke-width="1"/>
<rect x="175.5" y="316.5" width="48.0" height="47.0" fill="none" stroke="#909090" stroke-width="1"/>
<text x="166" y="312.4" font-size="9.8" font-weight="bold" stroke="#000" stroke-width="0.25" text-anchor="middle" fill="#000">67</text>
<text x="198.5" y="312.4" font-size="9.8" font-weight="bold" stroke="#000" stroke-width="0.25" text-anchor="middle" fill="#000">28</text>
<text x="128.4" y="334.3" font-size="9.8" font-weight="bold" stroke="#000" stroke-width="0.25" text-anchor="middle" fill="#000" transform="rotate(-90 128.4 334.3)">CD11b</text>
<text x="164.4" y="399.6" font-size="10.2" font-weight="bold" stroke="#000" stroke-width="0.25" text-anchor="start" fill="#000">CD11c</text>
<g transform="translate(140,412.5)" fill="none" stroke-width="1" shape-rendering="crispEdges" filter="url(#bl)">
<path stroke="#c6c6c6" d="M2 25h2M11 25h1M50 25h1M62 25h1M65 25h2M76 25h1M1 26h1M4 26h1M7 26h1M9 26h2M14 26h1M17 26h1M21 26h1M23 26h1M30 26h1M35 26h1M38 26h1M41 26h1M45 26h1M47 26h2M51 26h1M53 26h1M57 26h1M59 26h1M62 26h1M67 26h2M76 26h1M79 26h2M1 27h1M3 27h2M6 27h1M10 27h1M14 27h1M17 27h3M22 27h1M27 27h1M31 27h3M45 27h1M49 27h2M53 27h1M56 27h3M61 27h2M66 27h1M70 27h3M74 27h1M77 27h1M81 27h1M0 28h2M4 28h3M8 28h3M12 28h2M17 28h1M22 28h1M24 28h1M32 28h1M35 28h1M37 28h2M40 28h1M42 28h1M44 28h1M47 28h3M51 28h1M54 28h2M61 28h4M67 28h1M70 28h1M74 28h1M78 28h2M81 28h1M3 29h1M5 29h1M9 29h1M11 29h1M17 29h2M24 29h1M31 29h1M34 29h2M38 29h1M45 29h1M47 29h1M49 29h1M59 29h2M63 29h2M66 29h1M71 29h2M75 29h1M82 29h1M84 29h1M0 30h1M7 30h1M9 30h3M14 30h4M19 30h1M23 30h1M25 30h1M27 30h1M32 30h1M45 30h1M48 30h4M53 30h1M57 30h1M60 30h1M64 30h2M68 30h1M70 30h1M86 30h1M3 31h1M5 31h1M8 31h2M14 31h1M18 31h1M20 31h1M25 31h1M30 31h3M38 31h2M41 31h1M43 31h1M48 31h1M54 31h2M57 31h2M62 31h1M65 31h1M67 31h1M71 31h2M74 31h2M81 31h1M87 31h1M4 32h4M12 32h1M20 32h2M23 32h3M28 32h3M32 32h2M36 32h1M42 32h3M48 32h2M51 32h2M56 32h3M61 32h1M66 32h2M75 32h1M77 32h1M81 32h4M8 33h1M16 33h2M23 33h2M26 33h1M29 33h2M37 33h1M42 33h1M51 33h1M64 33h1M67 33h1M72 33h3M76 33h1M86 33h1M4 34h1M17 34h3M21 34h1M24 34h3M29 34h2M33 34h2M36 34h1M40 34h3M47 34h1M50 34h2M68 34h2M72 34h1M76 34h1M81 34h1M83 34h1M0 35h1M15 35h1M17 35h1M21 35h1M25 35h1M28 35h1M30 35h1M36 35h1M39 35h3M45 35h1M70 35h2M76 35h1M78 35h2M81 35h3M14 36h2M18 36h1M20 36h1M23 36h1M30 36h3M35 36h1M39 36h1M42 36h2M54 36h1M69 36h1M71 36h2M74 36h2M78 36h7M0 37h1M11 37h1M18 37h1M24 37h1M28 37h2M32 37h1M34 37h1M45 37h1M67 37h1M75 37h1M83 37h1M15 38h1M17 38h3M21 38h1M23 38h1M26 38h2M30 38h1M34 38h1M43 38h1M66 38h1M73 38h1M79 38h1M83 38h1M87 38h1M7 39h1M16 39h1M19 39h2M23 39h1M25 39h1M27 39h1M29 39h1M31 39h2M38 39h2M42 39h1M44 39h1M76 39h3M85 39h1M0 40h1M12 40h1M16 40h1M26 40h1M30 40h2M33 40h3M73 40h1M75 40h1M83 40h3M0 41h1M13 41h2M16 41h2M19 41h5M30 41h1M33 41h1M35 41h1M71 41h1M73 41h1M76 41h1M79 41h1M0 42h1M8 42h1M12 42h1M15 42h1M18 42h2M21 42h1M24 42h1M26 42h6M37 42h2M43 42h1M73 42h1M81 42h2M86 42h1M11 43h1M13 43h1M15 43h2M19 43h1M22 43h2M26 43h2M34 43h1M36 43h2M40 43h1M75 43h4M82 43h2M87 43h1M12 44h1M18 44h2M22 44h1M26 44h1M28 44h1M30 44h1M34 44h2M37 44h1M41 44h1M43 44h1M73 44h2M76 44h1M82 44h1M6 45h1M11 45h2M17 45h1M20 45h2M23 45h2M26 45h1M32 45h1M35 45h1M38 45h1M70 45h1M72 45h1M74 45h2M77 45h1M0 46h1M6 46h1M14 46h1M18 46h1M20 46h6M31 46h4M37 46h2M40 46h1M72 46h1M75 46h1M78 46h1M80 46h1M82 46h1M10 47h1M17 47h1M20 47h1M24 47h1M34 47h1M36 47h3M40 47h1M42 47h1M68 47h1M72 47h1M77 47h2M85 47h1M9 48h1M17 48h1M19 48h2M28 48h4M33 48h2M37 48h1M41 48h1M68 48h1M73 48h1M75 48h1M78 48h5M84 48h1M86 48h1M5 49h1M7 49h1M9 49h2M17 49h2M27 49h1M31 49h1M33 49h1M38 49h1M43 49h2M66 49h1M72 49h3M76 49h4M81 49h2M0 50h1M2 50h1M4 50h1M19 50h2M22 50h1M24 50h1M29 50h3M35 50h1M37 50h1M41 50h1M45 50h1M68 50h1M72 50h1M74 50h2M79 50h2M84 50h1M3 51h1M13 51h2M18 51h2M23 51h1M25 51h1M29 51h4M34 51h3M40 51h1M70 51h1M72 51h1M76 51h2M84 51h1M0 52h1M20 52h3M28 52h1M30 52h1M32 52h2M35 52h1M39 52h2M47 52h1M68 52h1M70 52h1M76 52h1M79 52h3M83 52h1M5 53h1M9 53h1M12 53h1M16 53h1M19 53h2M22 53h1M25 53h2M28 53h1M31 53h3M36 53h3M63 53h2M68 53h2M71 53h2M78 53h3M0 54h1M10 54h1M16 54h1M23 54h1M25 54h1M28 54h1M32 54h1M37 54h2M42 54h1M63 54h1M66 54h1M75 54h1M0 55h1M11 55h1M16 55h1M19 55h4M26 55h3M30 55h3M34 55h1M42 55h1M46 55h1M60 55h1M66 55h3M75 55h2M79 55h1M82 55h1M87 55h1M2 56h2M6 56h1M14 56h1M16 56h2M19 56h1M23 56h1M30 56h1M33 56h8M43 56h3M69 56h1M78 56h1M3 57h1M6 57h1M8 57h1M10 57h1M12 57h2M15 57h1M25 57h2M28 57h1M30 57h1M32 57h1M35 57h1M38 57h1M41 57h1M47 57h1M61 57h1M66 57h1M68 57h1M70 57h1M73 57h2M79 57h2M84 57h1M87 57h1M0 58h1M2 58h2M7 58h1M9 58h1M12 58h2M16 58h1M18 58h1M20 58h1M23 58h1M25 58h1M28 58h1M31 58h1M33 58h1M37 58h2M40 58h1M48 58h1M52 58h1M59 58h1M61 58h1M66 58h1M68 58h1M72 58h2M76 58h1M79 58h1M85 58h2M0 59h1M3 59h1M6 59h1M8 59h2M14 59h2M17 59h4M26 59h1M32 59h2M38 59h3M42 59h2M45 59h1M50 59h1M54 59h2M58 59h1M62 59h1M65 59h1M68 59h3M72 59h3M77 59h1M0 60h1M2 60h2M6 60h1M9 60h4M18 60h1M26 60h1M28 60h1M30 60h5M39 60h1M41 60h1M45 60h2M49 60h2M58 60h2M61 60h1M64 60h1M66 60h1M69 60h7M81 60h1M4 61h2M12 61h2M16 61h2M20 61h4M25 61h1M28 61h2M34 61h1M37 61h2M42 61h5M50 61h1M56 61h1M62 61h2M65 61h3M73 61h1M75 61h1M78 61h1M2 62h1M4 62h1M6 62h1M11 62h3M19 62h3M25 62h1M27 62h1M30 62h1M35 62h2M41 62h1M43 62h1M45 62h2M48 62h1M54 62h1M56 62h1M58 62h1M60 62h1M65 62h1M73 62h1M77 62h1M80 62h1M85 62h1M5 63h2M8 63h1M11 63h2M14 63h1M17 63h1M30 63h1M32 63h1M35 63h4M40 63h1M44 63h1M48 63h1M50 63h2M55 63h3M61 63h3M68 63h1M72 63h1M75 63h1M78 63h2M82 63h1M1 64h1M6 64h1M8 64h1M13 64h3M19 64h3M23 64h1M26 64h1M32 64h3M39 64h1M44 64h2M50 64h1M52 64h1M58 64h3M66 64h1M74 64h1M76 64h2M1 65h1M8 65h3M12 65h1M17 65h1M26 65h1M38 65h1M40 65h1M42 65h3M53 65h1M69 65h1M72 65h2M76 65h2M2 66h2M5 66h3M11 66h1M15 66h1M18 66h1M24 66h2M27 66h2M34 66h4M45 66h1M57 66h2M60 66h2M65 66h2M70 66h3M75 66h1M77 66h1M79 66h1M1 67h1M3 67h3M7 67h1M9 67h1M11 67h3M15 67h5M25 67h1M27 67h1M30 67h1M32 67h3M37 67h1M42 67h1M44 67h3M48 67h1M52 67h1M54 67h2M57 67h1M60 67h2M63 67h1M68 67h1M72 67h2M78 67h1M80 67h1M1 68h1M5 68h2M9 68h1M17 68h1M20 68h2M29 68h1M39 68h1M44 68h3M48 68h2M51 68h2M54 68h4M69 68h1M73 68h1M75 68h2M82 68h1M3 69h1M5 69h1M7 69h1M9 69h1M11 69h1M13 69h3M17 69h1M28 69h1M30 69h1M44 69h1M48 69h1M51 69h1M53 69h2M59 69h2M69 69h1M80 69h1M2 70h2M9 70h1M12 70h1M14 70h1M20 70h1M23 70h1M29 70h1M39 70h1M46 70h1M48 70h2M61 70h1M67 70h1M85 70h1M1 71h1M6 71h1M11 71h2M19 71h1M37 71h1M51 71h1M70 71h1M74 71h1M78 71h1M80 71h1M5 72h1M7 72h2M10 72h1M12 72h4M18 72h1M23 72h1M26 72h1M32 72h1M41 72h1M45 72h1M53 72h1M72 72h1M76 72h1M78 72h1M5 73h2M9 73h1M12 73h1M17 73h1M19 73h1M31 73h1M33 73h2M47 73h1M49 73h1M51 73h1M3 74h2M6 74h1M8 74h1M10 74h1M12 74h1M14 74h2M32 74h1M43 74h1M47 74h1M4 75h1M7 75h3M11 75h1M14 75h1M16 75h1M33 75h1M40 75h1M43 75h1M52 75h1M55 75h1M71 75h1M86 75h1M3 76h2M6 76h1M11 76h1M13 76h3M28 76h1M31 76h1M38 76h1M46 76h1M64 76h1M1 77h2M11 77h1M18 77h1M21 77h1M26 77h1M47 77h1M61 77h2M68 77h1M71 77h1M74 77h1M79 77h1M6 78h1M11 78h1M18 78h1M32 78h1M37 78h1M44 78h1M86 78h1M3 79h1M6 79h1M13 79h1M15 79h1M17 79h1M26 79h1M52 79h1M57 79h1M63 79h1M65 79h1M71 79h1M82 79h1M4 80h2M8 80h1M12 80h2M41 80h1M49 80h1M61 80h1M65 80h1M10 81h1M14 81h1M21 81h2M43 81h1M57 81h1M2 82h2M10 82h1M13 82h2M25 82h1M37 82h1M39 82h2M47 82h1M61 82h1M65 82h1M72 82h1M74 82h1M77 82h1M4 83h1M9 83h1M14 83h1M40 83h1M66 83h1M86 83h1M8 84h1M11 84h1M20 84h1M51 84h1M64 84h1M4 85h1M18 85h1M61 85h1M80 85h1M9 86h2M24 86h1M42 86h1M54 86h1M68 86h2M72 86h1M81 86h1M85 86h1M4 87h1M18 87h1M30 87h1M47 87h2M54 87h1M66 87h1"/>
<path stroke="#888" d="M6 26h1M8 26h1M19 26h1M52 26h1M56 26h1M75 26h1M12 27h1M38 27h1M51 27h2M54 27h1M64 27h1M68 27h1M75 27h1M3 28h1M7 28h1M15 28h1M21 28h1M57 28h1M59 28h1M75 28h1M1 29h1M6 29h1M8 29h1M10 29h1M13 29h4M21 29h1M27 29h1M29 29h1M40 29h1M50 29h1M53 29h1M58 29h1M61 29h1M74 29h1M79 29h1M83 29h1M1 30h1M3 30h2M6 30h1M8 30h1M24 30h1M42 30h1M54 30h3M58 30h1M61 30h1M66 30h2M69 30h1M4 31h1M7 31h1M10 31h1M12 31h2M27 31h1M42 31h1M45 31h1M47 31h1M49 31h2M52 31h1M56 31h1M60 31h1M63 31h1M68 31h3M2 32h1M8 32h3M13 32h7M34 32h1M39 32h2M46 32h1M50 32h1M54 32h2M59 32h2M63 32h3M68 32h2M71 32h1M76 32h1M79 32h1M2 33h2M5 33h1M7 33h1M13 33h1M15 33h1M20 33h3M27 33h2M35 33h2M41 33h1M45 33h1M52 33h1M58 33h1M63 33h1M66 33h1M70 33h1M77 33h1M0 34h1M5 34h1M9 34h1M14 34h3M20 34h1M23 34h1M31 34h1M37 34h1M39 34h1M43 34h1M48 34h1M53 34h3M60 34h1M64 34h3M71 34h1M73 34h1M77 34h1M79 34h2M82 34h1M7 35h1M14 35h1M16 35h1M20 35h1M22 35h1M26 35h2M29 35h1M31 35h2M38 35h1M42 35h3M47 35h1M53 35h1M56 35h2M68 35h1M73 35h1M0 36h1M4 36h1M7 36h2M11 36h3M16 36h1M19 36h1M26 36h2M29 36h1M36 36h1M38 36h1M41 36h1M45 36h4M53 36h1M55 36h1M68 36h1M73 36h1M5 37h1M8 37h1M14 37h2M27 37h1M35 37h1M37 37h2M41 37h3M46 37h3M50 37h1M54 37h1M64 37h1M68 37h1M73 37h1M78 37h1M0 38h1M4 38h1M6 38h1M14 38h1M20 38h1M25 38h1M28 38h2M35 38h1M39 38h1M41 38h1M45 38h2M50 38h1M72 38h1M74 38h1M76 38h1M3 39h3M12 39h2M15 39h1M17 39h1M21 39h2M37 39h1M40 39h2M43 39h1M45 39h1M47 39h1M70 39h2M74 39h2M10 40h1M13 40h2M18 40h7M28 40h1M36 40h2M39 40h2M43 40h1M67 40h2M70 40h2M74 40h1M76 40h1M5 41h1M12 41h1M18 41h1M25 41h1M29 41h1M31 41h1M34 41h1M37 41h2M40 41h2M44 41h1M46 41h1M64 41h1M72 41h1M74 41h2M80 41h2M17 42h1M20 42h1M22 42h1M25 42h1M32 42h1M42 42h1M66 42h1M72 42h1M74 42h3M83 42h1M18 43h1M20 43h2M24 43h2M30 43h1M32 43h2M35 43h1M38 43h2M43 43h1M46 43h1M49 43h1M68 43h1M72 43h3M7 44h1M13 44h3M17 44h1M20 44h1M23 44h2M27 44h1M29 44h1M36 44h1M39 44h2M71 44h2M77 44h4M0 45h1M2 45h1M10 45h1M13 45h2M18 45h2M28 45h2M34 45h1M36 45h1M39 45h1M42 45h3M73 45h1M76 45h1M78 45h1M80 45h1M83 45h1M1 46h1M9 46h1M15 46h1M17 46h1M26 46h1M28 46h1M30 46h1M35 46h1M39 46h1M42 46h1M44 46h1M69 46h1M71 46h1M73 46h2M4 47h1M7 47h3M15 47h1M18 47h1M21 47h1M26 47h1M28 47h1M33 47h1M39 47h1M41 47h1M67 47h1M69 47h2M73 47h2M76 47h1M79 47h1M1 48h2M5 48h2M8 48h1M10 48h2M13 48h1M21 48h3M32 48h1M35 48h1M38 48h1M42 48h1M69 48h1M74 48h1M0 49h1M3 49h2M6 49h1M14 49h3M21 49h1M25 49h2M28 49h2M34 49h2M37 49h1M39 49h2M42 49h1M46 49h1M68 49h2M5 50h1M8 50h1M16 50h1M26 50h2M32 50h1M38 50h3M43 50h2M69 50h1M73 50h1M0 51h2M6 51h3M10 51h2M17 51h1M24 51h1M26 51h1M28 51h1M39 51h1M42 51h1M49 51h1M63 51h2M66 51h1M74 51h1M79 51h1M7 52h2M10 52h2M15 52h1M18 52h2M23 52h1M27 52h1M29 52h1M31 52h1M36 52h1M38 52h1M41 52h1M43 52h1M62 52h1M71 52h1M73 52h1M75 52h1M77 52h1M6 53h1M10 53h1M14 53h2M17 53h1M35 53h1M40 53h5M47 53h1M49 53h1M65 53h2M70 53h1M74 53h1M4 54h1M6 54h1M9 54h1M11 54h1M13 54h3M17 54h2M20 54h1M27 54h1M30 54h2M33 54h1M35 54h2M40 54h1M44 54h1M51 54h1M59 54h1M64 54h1M67 54h1M69 54h3M76 54h1M3 55h2M7 55h2M14 55h1M17 55h1M25 55h1M33 55h1M35 55h4M41 55h1M43 55h1M45 55h1M47 55h1M50 55h1M59 55h1M62 55h1M64 55h2M69 55h1M71 55h3M1 56h1M7 56h6M18 56h1M20 56h2M28 56h2M47 56h1M49 56h1M51 56h2M54 56h3M64 56h3M75 56h1M2 57h1M4 57h2M9 57h1M11 57h1M16 57h2M19 57h1M24 57h1M44 57h3M48 57h2M51 57h3M59 57h1M63 57h1M65 57h1M1 58h1M4 58h3M14 58h1M19 58h1M22 58h1M29 58h1M41 58h5M47 58h1M51 58h1M56 58h3M60 58h1M62 58h2M1 59h2M4 59h1M11 59h2M16 59h1M23 59h1M28 59h1M41 59h1M46 59h3M52 59h2M56 59h1M60 59h2M63 59h2M66 59h1M1 60h1M4 60h2M7 60h2M35 60h1M37 60h1M44 60h1M51 60h1M54 60h1M57 60h1M62 60h1M67 60h1M78 60h1M1 61h2M6 61h3M10 61h2M18 61h2M26 61h1M41 61h1M53 61h1M55 61h1M58 61h1M69 61h1M76 61h1M3 62h1M10 62h1M15 62h1M18 62h1M24 62h1M49 62h1M51 62h1M55 62h1M64 62h1M1 63h1M3 63h2M10 63h1M16 63h1M19 63h1M28 63h1M46 63h1M58 63h1M2 64h1M4 64h1M11 64h1M49 64h1M51 64h1M68 64h1M2 65h1M4 65h1M6 65h2M14 65h1M16 65h1M20 65h1M32 65h2M37 65h1M46 65h1M49 65h1M55 65h1M57 65h2M63 65h1M71 65h1M52 66h1M6 67h1M53 67h1M10 68h1M35 68h1M58 68h1M8 69h1M10 69h1M63 69h1M19 70h1M74 70h1M7 71h1M6 72h1M9 72h1M8 73h1M11 73h1M48 74h1M5 75h2M10 75h1M12 75h1M2 76h1M5 76h1M7 76h2M10 76h1M12 76h1M5 77h2M8 77h3M28 77h1M3 78h2M9 78h1M28 78h1M7 79h5M9 80h2M5 82h1M9 82h1M55 83h1M62 84h1M43 85h1"/>
<path stroke="#4a4a4a" d="M61 26h1M53 28h1M56 28h1M65 28h2M2 29h1M36 29h1M56 29h1M62 29h1M2 30h1M12 30h1M59 30h1M62 30h1M72 30h1M1 31h2M11 31h1M37 31h1M51 31h1M59 31h1M61 31h1M3 32h1M26 32h1M41 32h1M47 32h1M53 32h1M62 32h1M70 32h1M72 32h1M9 33h1M11 33h2M14 33h1M18 33h2M33 33h1M46 33h1M48 33h1M50 33h1M53 33h3M57 33h1M59 33h2M65 33h1M69 33h1M3 34h1M7 34h1M10 34h2M44 34h1M46 34h1M49 34h1M61 34h1M67 34h1M1 35h2M4 35h2M8 35h6M19 35h1M24 35h1M46 35h1M48 35h2M55 35h1M62 35h1M69 35h1M1 36h3M5 36h1M10 36h1M22 36h1M24 36h1M49 36h3M60 36h1M63 36h1M67 36h1M70 36h1M3 37h1M6 37h2M10 37h1M13 37h1M16 37h1M19 37h2M25 37h1M30 37h1M40 37h1M49 37h1M55 37h1M59 37h1M63 37h1M65 37h2M69 37h2M72 37h1M3 38h1M8 38h1M10 38h4M16 38h1M22 38h1M38 38h1M42 38h1M47 38h2M62 38h2M65 38h1M67 38h4M8 39h4M26 39h1M34 39h1M46 39h1M50 39h1M54 39h2M59 39h1M62 39h2M65 39h1M1 40h1M5 40h3M11 40h1M15 40h1M17 40h1M25 40h1M27 40h1M42 40h1M44 40h2M53 40h2M61 40h1M63 40h1M66 40h1M69 40h1M72 40h1M77 40h1M2 41h2M7 41h2M11 41h1M27 41h1M32 41h1M42 41h2M45 41h1M49 41h1M56 41h1M60 41h2M68 41h3M77 41h1M3 42h1M9 42h3M13 42h1M16 42h1M23 42h1M36 42h1M39 42h3M44 42h3M48 42h1M64 42h2M67 42h2M71 42h1M2 43h1M4 43h2M7 43h2M12 43h1M14 43h1M17 43h1M41 43h2M44 43h2M51 43h1M53 43h1M62 43h1M69 43h3M3 44h4M9 44h3M16 44h1M21 44h1M31 44h1M42 44h1M45 44h2M48 44h1M50 44h1M58 44h1M66 44h5M75 44h1M3 45h1M5 45h1M7 45h2M15 45h2M22 45h1M41 45h1M45 45h3M52 45h1M60 45h1M67 45h2M5 46h1M7 46h1M10 46h2M13 46h1M36 46h1M41 46h1M46 46h1M56 46h1M64 46h1M67 46h1M2 47h2M13 47h2M16 47h1M19 47h1M22 47h2M25 47h1M32 47h1M44 47h3M48 47h1M53 47h1M59 47h1M62 47h1M71 47h1M7 48h1M14 48h1M27 48h1M39 48h2M44 48h3M51 48h1M62 48h2M65 48h3M70 48h2M1 49h2M8 49h1M12 49h1M19 49h2M24 49h1M41 49h1M45 49h1M63 49h1M65 49h1M70 49h2M75 49h1M6 50h2M9 50h7M18 50h1M21 50h1M25 50h1M36 50h1M42 50h1M50 50h1M56 50h1M63 50h1M65 50h1M67 50h1M70 50h1M76 50h1M2 51h1M4 51h2M9 51h1M12 51h1M15 51h2M21 51h1M38 51h1M41 51h1M44 51h1M46 51h1M52 51h1M54 51h1M58 51h2M61 51h1M65 51h1M69 51h1M2 52h1M6 52h1M9 52h1M13 52h2M16 52h1M37 52h1M42 52h1M44 52h3M48 52h1M50 52h1M54 52h2M57 52h3M63 52h1M66 52h1M69 52h1M7 53h2M11 53h1M45 53h2M51 53h5M60 53h2M2 54h2M7 54h2M12 54h1M19 54h1M26 54h1M29 54h1M34 54h1M39 54h1M41 54h1M43 54h1M45 54h4M50 54h1M52 54h3M56 54h2M62 54h1M65 54h1M2 55h1M5 55h2M9 55h2M12 55h2M15 55h1M18 55h1M23 55h1M44 55h1M49 55h1M53 55h1M55 55h3M4 56h1M13 56h1M15 56h1M41 56h1M46 56h1M58 56h6M67 56h1M1 57h1M7 57h1M23 57h1M33 57h1M43 57h1M50 57h1M54 57h3M58 57h1M60 57h1M62 57h1M67 57h1M8 58h1M11 58h1M15 58h1M35 58h1M39 58h1M49 58h1M53 58h3M7 59h1M10 59h1M44 59h1M49 59h1M51 59h1M57 59h1M59 59h1M40 60h1M47 60h2M53 60h1M65 60h1M47 61h1M51 61h1M54 61h1M57 61h1M59 61h1M1 62h1M7 63h1M1 66h1M25 68h1M8 71h1M10 73h1M9 76h1M7 78h1"/>
<path stroke="#121212" d="M41 29h1M5 30h1M6 31h1M64 31h1M66 31h1M1 32h1M1 33h1M4 33h1M10 33h1M56 33h1M61 33h2M1 34h2M8 34h1M52 34h1M56 34h4M62 34h2M3 35h1M6 35h1M50 35h3M54 35h1M58 35h4M63 35h5M72 35h1M6 36h1M9 36h1M52 36h1M56 36h4M61 36h2M64 36h3M1 37h2M4 37h1M9 37h1M12 37h1M44 37h1M51 37h3M56 37h3M60 37h3M71 37h1M1 38h2M5 38h1M7 38h1M9 38h1M44 38h1M49 38h1M51 38h11M64 38h1M1 39h2M6 39h1M14 39h1M48 39h2M51 39h3M56 39h3M60 39h2M64 39h1M66 39h4M72 39h1M2 40h3M8 40h2M46 40h7M55 40h6M62 40h1M64 40h2M1 41h1M4 41h1M6 41h1M9 41h2M15 41h1M47 41h2M50 41h6M57 41h3M62 41h2M65 41h3M1 42h2M4 42h4M14 42h1M47 42h1M49 42h15M69 42h2M1 43h1M3 43h1M6 43h1M9 43h2M47 43h2M50 43h1M52 43h1M54 43h8M63 43h5M1 44h2M8 44h1M44 44h1M47 44h1M49 44h1M51 44h7M59 44h7M1 45h1M4 45h1M9 45h1M48 45h4M53 45h7M61 45h6M71 45h1M2 46h3M8 46h1M12 46h1M29 46h1M43 46h1M45 46h1M47 46h9M57 46h7M65 46h2M68 46h1M70 46h1M1 47h1M5 47h2M11 47h2M43 47h1M47 47h1M49 47h4M54 47h5M60 47h2M63 47h4M3 48h2M12 48h1M15 48h1M36 48h1M47 48h4M52 48h10M64 48h1M72 48h1M11 49h1M13 49h1M47 49h16M64 49h1M67 49h1M1 50h1M3 50h1M17 50h1M46 50h4M51 50h5M57 50h6M64 50h1M66 50h1M43 51h1M45 51h1M47 51h2M50 51h2M53 51h1M55 51h3M60 51h1M62 51h1M67 51h2M1 52h1M3 52h1M5 52h1M12 52h1M49 52h1M51 52h3M56 52h1M60 52h2M64 52h2M67 52h1M1 53h4M13 53h1M50 53h1M56 53h4M62 53h1M1 54h1M5 54h1M49 54h1M55 54h1M58 54h1M60 54h2M1 55h1M48 55h1M51 55h2M54 55h1M58 55h1M61 55h1M63 55h1M5 56h1M48 56h1M50 56h1M53 56h1M57 56h1M10 58h1M50 58h1M67 58h1"/>
</g>
<path d="M139.5 411.5H228.5V500.5" fill="none" stroke="#a8a8a8" stroke-width="1"/>
<path d="M139.5 411.5V500.5H228.5" fill="none" stroke="#8a8a8a" stroke-width="1"/>
<path d="M137.5 418.6h2M220.5 500.5v2M137.5 438.7h2M200.0 500.5v2M137.5 460.3h2M179.4 500.5v2M137.5 481.4h2M158.2 500.5v2M137.5 490.4h2M148.4 500.5v2M138.5 422.2h1M150.2 500.5v1M138.5 425.8h1M153.8 500.5v1M138.5 429.5h1M157.5 500.5v1M138.5 433.1h1M161.1 500.5v1M138.5 436.8h1M164.8 500.5v1M138.5 440.4h1M168.4 500.5v1M138.5 444.0h1M172.0 500.5v1M138.5 447.7h1M175.7 500.5v1M138.5 451.3h1M179.3 500.5v1M138.5 455.0h1M183.0 500.5v1M138.5 458.6h1M186.6 500.5v1M138.5 462.3h1M190.3 500.5v1M138.5 465.9h1M193.9 500.5v1M138.5 469.6h1M197.6 500.5v1M138.5 473.2h1M201.2 500.5v1M138.5 476.9h1M204.9 500.5v1M138.5 480.5h1M208.5 500.5v1M138.5 484.1h1M212.1 500.5v1M138.5 487.8h1M215.8 500.5v1M138.5 491.4h1M219.4 500.5v1M138.5 495.1h1M223.1 500.5v1M138.5 498.7h1M226.7 500.5v1" stroke="#8a8a8a" stroke-width="0.7" fill="none"/>
<text x="137.0" y="419.9" font-size="4" text-anchor="end" fill="#7a7a7a" transform="rotate(-10 137.0 419.9)">10<tspan dy="-1.2" font-size="2.8">5</tspan></text>
<text x="137.0" y="440.0" font-size="4" text-anchor="end" fill="#7a7a7a" transform="rotate(-10 137.0 440.0)">10<tspan dy="-1.2" font-size="2.8">4</tspan></text>
<text x="137.0" y="461.6" font-size="4" text-anchor="end" fill="#7a7a7a" transform="rotate(-10 137.0 461.6)">10<tspan dy="-1.2" font-size="2.8">3</tspan></text>
<text x="137.0" y="482.7" font-size="4" text-anchor="end" fill="#7a7a7a" transform="rotate(-10 137.0 482.7)">10<tspan dy="-1.2" font-size="2.8">2</tspan></text>
<text x="137.0" y="491.7" font-size="4" text-anchor="end" fill="#7a7a7a" transform="rotate(-10 137.0 491.7)">0</text>
<text x="221.3" y="507.5" font-size="4" text-anchor="middle" fill="#7a7a7a" transform="rotate(-10 221.3 507.5)">10<tspan dy="-1.2" font-size="2.8">5</tspan></text>
<text x="200.8" y="507.5" font-size="4" text-anchor="middle" fill="#7a7a7a" transform="rotate(-10 200.8 507.5)">10<tspan dy="-1.2" font-size="2.8">4</tspan></text>
<text x="180.2" y="507.5" font-size="4" text-anchor="middle" fill="#7a7a7a" transform="rotate(-10 180.2 507.5)">10<tspan dy="-1.2" font-size="2.8">3</tspan></text>
<text x="159.0" y="507.5" font-size="4" text-anchor="middle" fill="#7a7a7a" transform="rotate(-10 159.0 507.5)">10<tspan dy="-1.2" font-size="2.8">2</tspan></text>
<text x="149.2" y="507.5" font-size="4" text-anchor="middle" fill="#7a7a7a" transform="rotate(-10 149.2 507.5)">0</text>
<rect x="139.5" y="434.5" width="36.0" height="48.0" fill="none" stroke="#909090" stroke-width="1"/>
<rect x="175.5" y="434.5" width="48.0" height="48.0" fill="none" stroke="#909090" stroke-width="1"/>
<text x="163.3" y="432.7" font-size="9.7" font-weight="bold" stroke="#000" stroke-width="0.25" text-anchor="middle" fill="#000">33</text>
<text x="203.5" y="432.7" font-size="9.7" font-weight="bold" stroke="#000" stroke-width="0.25" text-anchor="middle" fill="#000">64</text>
<text x="126" y="472.3" font-size="9.8" font-weight="bold" stroke="#000" stroke-width="0.25" text-anchor="middle" fill="#000" transform="rotate(-90 126 472.3)">CD11b</text>
<text x="167.3" y="521.9" font-size="9.8" font-weight="bold" stroke="#000" stroke-width="0.25" text-anchor="start" fill="#000">CD11c</text>
<text x="244.5" y="301.6" font-size="12" font-weight="bold" stroke="#000" stroke-width="0.25" text-anchor="start" fill="#000">F</text>
<line x1="276.8" y1="311.9" x2="276.8" y2="404.90000000000003" stroke="#222" stroke-width="1.2"/>
<line x1="276.2" y1="404.3" x2="415.8" y2="404.3" stroke="#222" stroke-width="1.2"/>
<line x1="274.6" y1="404.3" x2="276.8" y2="404.3" stroke="#222" stroke-width="1"/>
<text x="274.5" y="407.40000000000003" font-size="8.8" text-anchor="end" fill="#000" stroke="#000" stroke-width="0.15">0</text>
<line x1="274.6" y1="391.175" x2="276.8" y2="391.175" stroke="#222" stroke-width="1"/>
<text x="274.5" y="394.27500000000003" font-size="8.8" text-anchor="end" fill="#000" stroke="#000" stroke-width="0.15">50</text>
<line x1="274.6" y1="378.05" x2="276.8" y2="378.05" stroke="#222" stroke-width="1"/>
<text x="274.5" y="381.15000000000003" font-size="8.8" text-anchor="end" fill="#000" stroke="#000" stroke-width="0.15">100</text>
<line x1="274.6" y1="364.925" x2="276.8" y2="364.925" stroke="#222" stroke-width="1"/>
<text x="274.5" y="368.02500000000003" font-size="8.8" text-anchor="end" fill="#000" stroke="#000" stroke-width="0.15">150</text>
<line x1="274.6" y1="351.8" x2="276.8" y2="351.8" stroke="#222" stroke-width="1"/>
<text x="274.5" y="354.90000000000003" font-size="8.8" text-anchor="end" fill="#000" stroke="#000" stroke-width="0.15">200</text>
<line x1="274.6" y1="338.675" x2="276.8" y2="338.675" stroke="#222" stroke-width="1"/>
<text x="274.5" y="341.77500000000003" font-size="8.8" text-anchor="end" fill="#000" stroke="#000" stroke-width="0.15">250</text>
<line x1="274.6" y1="325.55" x2="276.8" y2="325.55" stroke="#222" stroke-width="1"/>
<text x="274.5" y="328.65000000000003" font-size="8.8" text-anchor="end" fill="#000" stroke="#000" stroke-width="0.15">300</text>
<line x1="274.6" y1="312.425" x2="276.8" y2="312.425" stroke="#222" stroke-width="1"/>
<text x="274.5" y="315.52500000000003" font-size="8.8" text-anchor="end" fill="#000" stroke="#000" stroke-width="0.15">350</text>
<rect x="290.4" y="389.6" width="17.900000000000034" height="14.699999999999989" fill="#000" stroke="none" stroke-width="1"/>
<line x1="299.35" y1="385.00625" x2="299.35" y2="389.6" stroke="#000" stroke-width="1.2"/>
<line x1="294.95000000000005" y1="385.00625" x2="303.75" y2="385.00625" stroke="#000" stroke-width="1.2"/>
<rect x="316.65" y="399.44" width="16.50000000000001" height="4.86" fill="#fff" stroke="#000" stroke-width="1.3"/>
<line x1="324.9" y1="396.95" x2="324.9" y2="398.7875" stroke="#000" stroke-width="1.2"/>
<line x1="320.5" y1="396.95" x2="329.29999999999995" y2="396.95" stroke="#000" stroke-width="1.2"/>
<rect x="359.2" y="323.1875" width="18.100000000000023" height="81.11250000000001" fill="#000" stroke="none" stroke-width="1"/>
<line x1="368.25" y1="314.7875" x2="368.25" y2="323.1875" stroke="#000" stroke-width="1.2"/>
<line x1="363.85" y1="314.7875" x2="372.65" y2="314.7875" stroke="#000" stroke-width="1.2"/>
<rect x="385.34999999999997" y="362.95" width="16.899999999999988" height="41.35" fill="#fff" stroke="#000" stroke-width="1.3"/>
<line x1="393.79999999999995" y1="359.01875" x2="393.79999999999995" y2="362.3" stroke="#000" stroke-width="1.2"/>
<line x1="389.4" y1="359.01875" x2="398.19999999999993" y2="359.01875" stroke="#000" stroke-width="1.2"/>
<line x1="312.1" y1="404.3" x2="312.1" y2="407.1" stroke="#222" stroke-width="1"/>
<line x1="380.7" y1="404.3" x2="380.7" y2="407.1" stroke="#222" stroke-width="1"/>
<text x="295.3" y="421.6" font-size="9.5" font-weight="bold" stroke="#000" stroke-width="0.25" text-anchor="start" fill="#000">CD11c<tspan dy="-3" dx="0.5" font-size="6.5">-</tspan></text>
<text x="361.6" y="421.6" font-size="9.6" font-weight="bold" stroke="#000" stroke-width="0.25" text-anchor="start" fill="#000">CD11c<tspan dy="-3.2" dx="0.5" font-size="7">+</tspan></text>
<rect x="289.3" y="309.2" width="11.6" height="7.4" fill="#000" stroke="none" stroke-width="1"/>
<text x="305.4" y="316.3" font-size="10.4" text-anchor="start" fill="#000" stroke="#000" stroke-width="0.12">WT</text>
<rect x="289.9" y="328.6" width="10.4" height="6.7" fill="#fff" stroke="#000" stroke-width="1.2"/>
<text x="305.4" y="334.6" font-size="10.4" text-anchor="start" fill="#000" stroke="#000" stroke-width="0.12">ER<tspan font-family="Liberation Serif, serif" font-size="12">α</tspan><tspan dy="-3.4" dx="0.3" font-size="8" font-style="italic">-/-</tspan></text>
<line x1="298" y1="380.6" x2="323.7" y2="380.6" stroke="#111" stroke-width="1"/>
<text x="311.6" y="380" font-size="10" text-anchor="middle" fill="#000">*</text>
<line x1="366.9" y1="308.5" x2="396.6" y2="308.5" stroke="#111" stroke-width="1"/>
<text x="381" y="306" font-size="10" text-anchor="middle" fill="#000">***</text>
<text x="253.7" y="361.6" font-size="10" font-weight="bold" stroke="#000" stroke-width="0.25" text-anchor="middle" fill="#000" transform="rotate(-90 253.7 361.6)" textLength="79" lengthAdjust="spacingAndGlyphs">MFI IRF4 binding</text>
</svg></body></html>
